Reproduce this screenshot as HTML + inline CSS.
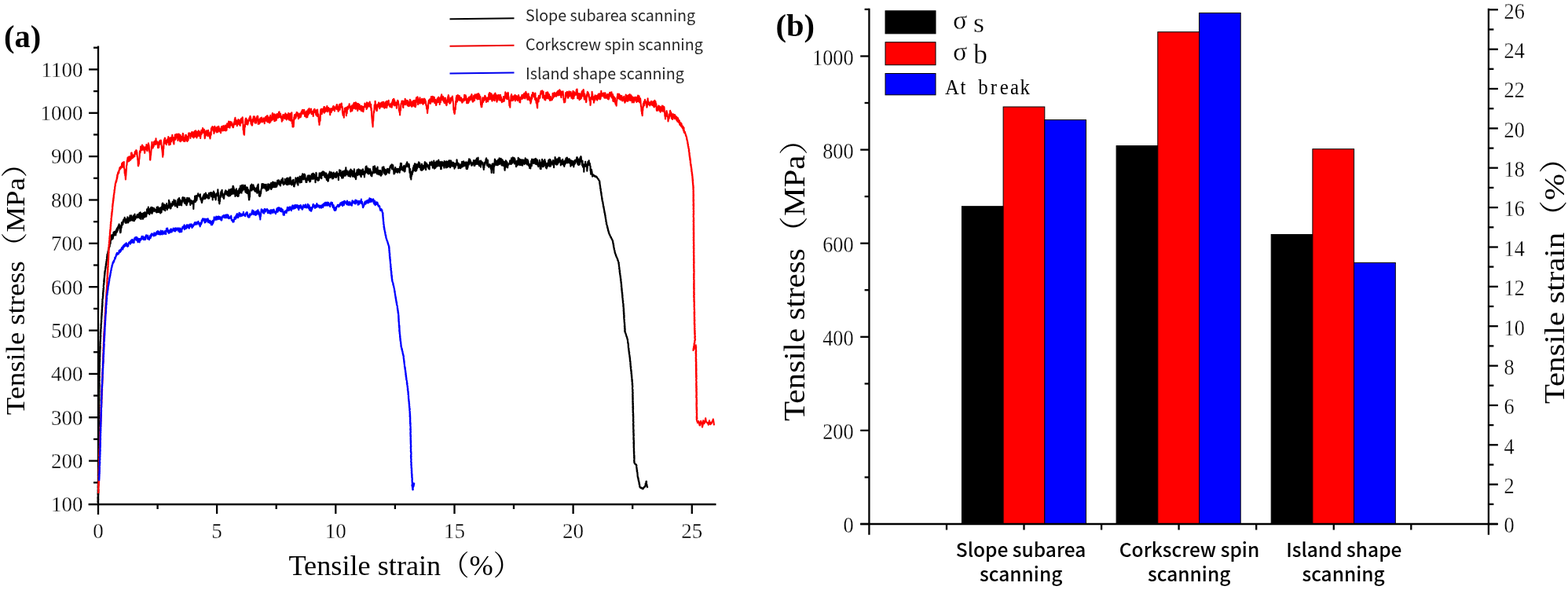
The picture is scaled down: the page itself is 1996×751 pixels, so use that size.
<!DOCTYPE html>
<html><head><meta charset="utf-8"><style>
html,body{margin:0;padding:0;background:#fff;}
body{width:1996px;height:751px;overflow:hidden;}
svg{display:block;}
.tk{font-family:"Liberation Serif","Noto Serif CJK SC",serif;font-size:27px;fill:#000;stroke:#fff;stroke-width:0.3px;}
.tkb{font-family:"Liberation Serif","Noto Serif CJK SC",serif;font-size:29.5px;fill:#000;stroke:#fff;stroke-width:0.3px;}
.lab{font-family:"Liberation Serif","Noto Serif CJK SC",serif;fill:#000;}
.labb{font-family:"Liberation Serif","Noto Serif CJK SC",serif;fill:#000;}
.pn{font-family:"Liberation Serif",serif;font-size:40.5px;font-weight:bold;fill:#000;}
.lg{font-family:"Noto Sans CJK SC","Liberation Sans",sans-serif;font-size:19.6px;font-weight:400;fill:#262626;}
.lgb{font-family:"Liberation Mono","Noto Serif CJK SC",monospace;font-size:24px;fill:#111;}
.lgs{font-family:"Liberation Serif","Noto Serif CJK SC",serif;fill:#000;stroke:#fff;stroke-width:0.3px;}
.cat{font-family:"Noto Sans CJK SC","Liberation Sans",sans-serif;font-size:24.5px;font-weight:500;fill:#000;}
</style></head><body>
<svg width="1996" height="751" viewBox="0 0 1996 751">
<rect width="1996" height="751" fill="#fff"/>
<!-- panel a -->
<text x="5" y="60" class="pn">(a)</text>
<line x1="125" y1="58.5" x2="125" y2="655" stroke="#000" stroke-width="2.3"/><line x1="112.6" y1="642" x2="911.5" y2="642" stroke="#000" stroke-width="2.3"/><line x1="119" y1="614.3" x2="125" y2="614.3" stroke="#000" stroke-width="2.3"/><line x1="113" y1="586.6" x2="125" y2="586.6" stroke="#000" stroke-width="2.3"/><line x1="119" y1="559.0" x2="125" y2="559.0" stroke="#000" stroke-width="2.3"/><line x1="113" y1="531.3" x2="125" y2="531.3" stroke="#000" stroke-width="2.3"/><line x1="119" y1="503.6" x2="125" y2="503.6" stroke="#000" stroke-width="2.3"/><line x1="113" y1="475.9" x2="125" y2="475.9" stroke="#000" stroke-width="2.3"/><line x1="119" y1="448.2" x2="125" y2="448.2" stroke="#000" stroke-width="2.3"/><line x1="113" y1="420.6" x2="125" y2="420.6" stroke="#000" stroke-width="2.3"/><line x1="119" y1="392.9" x2="125" y2="392.9" stroke="#000" stroke-width="2.3"/><line x1="113" y1="365.2" x2="125" y2="365.2" stroke="#000" stroke-width="2.3"/><line x1="119" y1="337.5" x2="125" y2="337.5" stroke="#000" stroke-width="2.3"/><line x1="113" y1="309.8" x2="125" y2="309.8" stroke="#000" stroke-width="2.3"/><line x1="119" y1="282.2" x2="125" y2="282.2" stroke="#000" stroke-width="2.3"/><line x1="113" y1="254.5" x2="125" y2="254.5" stroke="#000" stroke-width="2.3"/><line x1="119" y1="226.8" x2="125" y2="226.8" stroke="#000" stroke-width="2.3"/><line x1="113" y1="199.1" x2="125" y2="199.1" stroke="#000" stroke-width="2.3"/><line x1="119" y1="171.4" x2="125" y2="171.4" stroke="#000" stroke-width="2.3"/><line x1="113" y1="143.8" x2="125" y2="143.8" stroke="#000" stroke-width="2.3"/><line x1="119" y1="116.1" x2="125" y2="116.1" stroke="#000" stroke-width="2.3"/><line x1="113" y1="88.4" x2="125" y2="88.4" stroke="#000" stroke-width="2.3"/><line x1="119" y1="60.7" x2="125" y2="60.7" stroke="#000" stroke-width="2.3"/><line x1="200.6" y1="642" x2="200.6" y2="648" stroke="#000" stroke-width="2.3"/><line x1="276.1" y1="642" x2="276.1" y2="654" stroke="#000" stroke-width="2.3"/><line x1="351.7" y1="642" x2="351.7" y2="648" stroke="#000" stroke-width="2.3"/><line x1="427.3" y1="642" x2="427.3" y2="654" stroke="#000" stroke-width="2.3"/><line x1="502.9" y1="642" x2="502.9" y2="648" stroke="#000" stroke-width="2.3"/><line x1="578.5" y1="642" x2="578.5" y2="654" stroke="#000" stroke-width="2.3"/><line x1="654.0" y1="642" x2="654.0" y2="648" stroke="#000" stroke-width="2.3"/><line x1="729.6" y1="642" x2="729.6" y2="654" stroke="#000" stroke-width="2.3"/><line x1="805.2" y1="642" x2="805.2" y2="648" stroke="#000" stroke-width="2.3"/><line x1="880.8" y1="642" x2="880.8" y2="654" stroke="#000" stroke-width="2.3"/>
<text x="105.6" y="651.3" text-anchor="end" class="tk">100</text><text x="105.6" y="595.9" text-anchor="end" class="tk">200</text><text x="105.6" y="540.6" text-anchor="end" class="tk">300</text><text x="105.6" y="485.2" text-anchor="end" class="tk">400</text><text x="105.6" y="429.9" text-anchor="end" class="tk">500</text><text x="105.6" y="374.5" text-anchor="end" class="tk">600</text><text x="105.6" y="319.1" text-anchor="end" class="tk">700</text><text x="105.6" y="263.8" text-anchor="end" class="tk">800</text><text x="105.6" y="208.4" text-anchor="end" class="tk">900</text><text x="105.6" y="153.1" text-anchor="end" class="tk">1000</text><text x="105.6" y="97.7" text-anchor="end" class="tk">1100</text>
<text x="125.0" y="684.5" text-anchor="middle" class="tk">0</text><text x="276.1" y="684.5" text-anchor="middle" class="tk">5</text><text x="427.3" y="684.5" text-anchor="middle" class="tk">10</text><text x="578.5" y="684.5" text-anchor="middle" class="tk">15</text><text x="729.6" y="684.5" text-anchor="middle" class="tk">20</text><text x="880.8" y="684.5" text-anchor="middle" class="tk">25</text>
<text transform="translate(30.7,528.2) rotate(-90)" class="lab" font-size="33.7" textLength="338.6" lengthAdjust="spacingAndGlyphs">Tensile stress（MPa）</text>
<text x="367.5" y="732.3" class="lab" font-size="35.6" textLength="296.4" lengthAdjust="spacingAndGlyphs">Tensile strain（%）</text>
<polyline fill="none" stroke="#000" stroke-width="2.1" stroke-linejoin="round" points="124.8,640.0 124.8,639.7 125.0,639.4 124.6,639.1 124.8,638.8 124.8,638.5 124.5,638.2 124.6,637.9 124.7,637.6 124.8,637.3 124.9,637.0 125.0,636.7 125.1,636.4 124.6,636.1 125.2,635.8 124.8,635.5 125.1,635.2 124.7,634.9 125.0,634.6 125.0,634.3 124.5,634.0 125.1,633.7 124.6,633.4 124.9,633.1 124.7,632.8 125.0,632.5 124.7,632.2 125.0,631.9 125.1,631.6 125.0,631.3 125.1,631.0 124.8,630.7 125.0,630.4 124.9,630.1 125.2,629.8 124.7,629.5 125.2,629.2 124.6,628.9 125.2,628.6 124.7,628.3 125.1,628.0 124.7,627.7 125.2,627.4 124.8,627.1 124.7,626.8 125.2,626.5 125.0,626.2 125.2,625.9 125.2,625.6 124.7,625.3 124.7,625.0 125.1,624.7 125.2,624.4 124.8,624.1 125.3,623.7 124.7,623.5 125.2,623.2 125.1,622.9 124.9,622.6 124.9,622.2 124.9,621.9 125.0,621.6 125.0,621.3 124.8,621.0 124.7,620.8 125.1,620.4 124.8,620.1 124.8,619.8 124.9,619.6 124.8,619.2 125.3,619.0 124.9,618.6 125.2,618.3 124.7,618.1 125.2,617.7 125.4,617.4 125.3,617.1 125.3,616.8 125.0,616.5 125.1,616.2 125.4,615.9 124.9,615.6 125.1,615.3 125.3,615.0 125.0,614.7 125.1,614.4 124.8,614.1 125.3,613.8 124.9,613.5 125.0,613.2 124.9,612.9 125.3,612.6 125.1,612.3 125.5,612.0 125.4,611.7 125.4,611.4 125.3,611.1 125.0,610.8 125.0,610.5 125.1,610.2 125.0,609.9 125.2,609.6 125.4,609.3 125.2,609.0 125.0,608.7 125.4,608.4 125.5,608.1 125.2,607.8 125.0,607.5 125.4,607.2 125.2,606.9 125.4,606.6 125.3,606.3 125.5,606.0 124.9,605.7 125.3,605.4 125.3,605.1 125.4,604.8 125.0,604.5 125.3,604.2 125.1,603.9 125.4,603.6 125.0,603.3 125.0,603.0 125.6,602.7 125.4,602.4 125.1,602.1 125.1,601.8 125.2,601.5 125.1,601.2 125.0,600.9 125.6,600.6 125.1,600.3 125.5,600.0 125.5,599.7 125.5,599.4 125.2,599.1 125.1,598.8 125.4,598.5 125.7,598.2 125.2,597.9 125.1,597.6 125.3,597.3 125.1,597.0 125.2,596.7 125.5,596.4 125.2,596.1 125.3,595.8 125.4,595.5 125.1,595.2 125.1,594.9 125.7,594.6 125.6,594.3 125.6,594.0 125.4,593.7 125.4,593.4 125.1,593.1 125.2,592.8 125.1,592.5 125.4,592.2 125.3,591.9 125.1,591.6 125.1,591.3 125.4,591.0 125.1,590.7 125.0,590.4 125.2,590.1 125.6,589.8 125.5,589.5 125.4,589.2 125.2,588.9 125.4,588.6 125.1,588.3 125.3,588.0 125.4,587.7 125.1,587.4 125.5,587.1 125.4,586.8 125.1,586.5 125.2,586.2 125.4,585.9 125.7,585.6 125.1,585.3 125.5,585.0 125.3,584.7 125.4,584.4 125.7,584.1 125.5,583.8 125.3,583.5 125.4,583.2 125.8,582.9 125.7,582.6 125.4,582.3 125.5,582.0 125.4,581.7 125.2,581.4 125.8,581.1 125.3,580.8 125.3,580.5 125.2,580.2 125.8,579.9 125.8,579.6 125.6,579.3 125.5,579.0 125.5,578.7 125.4,578.4 125.8,578.1 125.5,577.8 125.7,577.5 125.6,577.2 125.6,576.9 125.6,576.6 125.7,576.3 125.7,576.0 125.6,575.7 125.4,575.4 125.3,575.1 125.3,574.8 125.8,574.5 125.5,574.2 125.2,573.9 125.6,573.6 125.8,573.3 125.8,573.0 125.8,572.7 125.8,572.4 125.3,572.1 125.5,571.8 125.7,571.5 125.6,571.2 125.4,570.9 125.2,570.6 125.8,570.3 125.7,570.0 125.8,569.7 125.5,569.4 125.4,569.1 125.8,568.8 125.7,568.5 125.7,568.2 125.2,567.9 125.3,567.6 125.8,567.3 125.8,567.0 125.5,566.7 125.8,566.4 125.4,566.1 125.6,565.8 125.5,565.5 125.6,565.2 125.4,564.9 125.5,564.6 125.6,564.3 125.7,564.0 125.4,563.7 125.7,563.4 125.4,563.1 125.9,562.8 125.4,562.5 125.3,562.2 125.5,561.9 125.7,561.6 125.6,561.3 125.7,561.0 125.4,560.7 125.6,560.4 125.7,560.1 126.0,559.8 125.9,559.5 125.7,559.2 125.5,558.9 125.4,558.6 125.7,558.3 125.7,558.0 125.6,557.7 125.8,557.4 125.6,557.1 125.9,556.8 125.5,556.5 125.5,556.2 126.0,555.9 125.7,555.6 126.0,555.3 125.4,555.0 126.0,554.7 125.4,554.4 125.9,554.1 125.7,553.8 125.4,553.5 125.6,553.2 125.7,552.9 125.7,552.6 125.7,552.3 125.4,552.0 126.0,551.7 125.6,551.4 125.9,551.1 126.0,550.8 126.0,550.5 125.5,550.2 126.0,549.9 125.7,549.6 125.8,549.3 125.5,549.0 125.5,548.7 125.8,548.4 126.0,548.1 125.7,547.8 126.1,547.5 125.9,547.2 125.4,546.9 126.0,546.6 125.5,546.3 125.6,546.0 125.8,545.7 126.1,545.4 125.5,545.1 125.6,544.8 125.4,544.5 125.5,544.2 125.7,543.9 125.8,543.6 125.8,543.3 125.5,543.0 125.7,542.7 125.7,542.4 126.1,542.1 125.7,541.8 125.9,541.5 125.8,541.2 126.0,540.9 125.9,540.6 126.1,540.3 125.9,540.0 125.7,539.7 125.8,539.4 126.1,539.1 125.7,538.8 126.1,538.5 125.8,538.2 126.1,537.9 125.6,537.6 126.0,537.3 125.8,537.0 125.6,536.7 125.9,536.4 125.5,536.1 125.6,535.8 126.1,535.5 125.9,535.2 125.7,534.9 125.6,534.6 125.6,534.3 125.7,534.0 125.8,533.7 125.5,533.4 125.7,533.1 125.8,532.8 126.2,532.5 126.1,532.2 126.2,531.9 125.7,531.6 125.6,531.3 126.1,531.0 126.0,530.7 125.7,530.4 125.9,530.1 126.2,529.8 126.1,529.5 126.2,529.2 125.9,528.9 125.7,528.6 126.0,528.3 125.7,528.0 125.7,527.7 125.7,527.4 125.8,527.1 125.7,526.8 125.8,526.5 126.1,526.2 126.1,525.9 125.6,525.6 126.2,525.3 126.2,525.0 126.3,524.7 125.8,524.4 126.1,524.1 126.0,523.8 126.1,523.5 126.3,523.2 125.7,522.9 126.2,522.6 126.3,522.3 126.1,522.0 125.9,521.7 126.0,521.4 125.8,521.1 126.2,520.8 126.1,520.5 126.1,520.2 126.2,519.9 125.8,519.6 125.7,519.3 125.8,519.0 125.8,518.7 126.3,518.4 125.8,518.1 126.0,517.8 126.2,517.5 125.9,517.2 126.3,516.9 126.4,516.6 126.0,516.3 126.1,516.0 126.3,515.7 126.4,515.4 126.2,515.1 126.1,514.8 125.8,514.5 126.2,514.2 126.2,513.9 126.2,513.6 126.0,513.3 126.4,513.0 126.2,512.7 126.0,512.4 125.9,512.1 125.8,511.8 126.3,511.5 126.0,511.2 126.4,510.9 126.0,510.6 126.0,510.3 126.3,510.0 126.1,509.7 126.5,509.4 126.2,509.1 126.5,508.8 125.9,508.5 125.9,508.2 125.8,507.9 126.4,507.6 126.2,507.2 126.3,506.9 126.2,506.7 126.5,506.4 126.4,506.0 126.2,505.8 126.0,505.5 126.1,505.1 126.1,504.8 126.1,504.6 126.4,504.2 126.4,503.9 126.4,503.6 126.0,503.3 126.0,503.0 126.3,502.7 126.4,502.4 126.4,502.1 126.5,501.8 126.1,501.6 125.9,501.2 126.2,500.9 126.1,500.6 126.0,500.3 126.4,500.0 126.3,499.7 126.3,499.4 126.5,499.1 126.3,498.8 126.5,498.5 126.5,498.2 126.3,497.9 126.4,497.6 126.3,497.3 126.2,497.0 126.5,496.7 126.4,496.4 126.2,496.1 126.4,495.8 126.3,495.5 126.0,495.2 126.5,494.9 126.3,494.6 126.6,494.3 126.6,494.0 126.1,493.7 126.2,493.4 126.5,493.1 126.1,492.8 126.6,492.5 126.5,492.2 126.7,491.9 126.2,491.6 126.5,491.3 126.4,491.0 126.5,490.7 126.7,490.4 126.3,490.1 126.2,489.8 126.6,489.5 126.1,489.2 126.4,488.9 126.7,488.6 126.6,488.3 126.5,488.0 126.1,487.7 126.7,487.4 126.4,487.1 126.3,486.8 126.1,486.5 126.2,486.2 126.1,485.9 126.5,485.6 126.3,485.3 126.3,485.0 126.7,484.7 126.1,484.4 126.4,484.1 126.7,483.8 126.7,483.5 126.6,483.2 126.5,482.9 126.2,482.6 126.4,482.3 126.6,482.0 126.7,481.7 126.5,481.4 126.7,481.1 126.5,480.8 126.7,480.5 126.8,480.2 126.3,479.9 126.2,479.6 126.8,479.3 126.4,479.0 126.5,478.7 126.5,478.4 126.7,478.1 126.2,477.8 126.5,477.5 126.5,477.2 126.2,476.9 126.5,476.6 126.8,476.3 126.2,476.0 126.4,475.7 126.6,475.4 126.6,475.1 126.7,474.8 126.4,474.5 126.3,474.2 126.5,473.9 126.8,473.6 126.5,473.3 126.5,473.0 126.8,472.7 126.6,472.4 126.3,472.1 126.5,471.8 126.9,471.5 126.3,471.2 126.8,470.9 126.5,470.6 126.8,470.3 126.4,470.0 126.7,469.7 126.9,469.4 126.3,469.1 126.9,468.8 126.4,468.5 126.3,468.2 126.9,467.9 126.7,467.6 126.4,467.3 126.8,467.0 126.7,466.7 127.0,466.4 127.0,466.1 127.0,465.8 126.8,465.5 127.0,465.2 126.9,464.9 126.6,464.6 126.9,464.3 126.6,464.0 126.7,463.7 126.5,463.4 126.6,463.1 126.8,462.8 127.1,462.5 127.0,462.2 126.6,461.9 126.9,461.6 126.7,461.3 126.7,461.0 126.8,460.7 127.0,460.4 127.2,460.1 126.6,459.8 126.8,459.5 127.1,459.2 126.9,458.9 126.9,458.6 127.2,458.3 126.6,458.0 127.3,457.7 126.8,457.4 127.2,457.1 127.2,456.8 127.2,456.5 127.1,456.2 127.1,455.9 126.7,455.6 127.0,455.3 127.2,455.0 126.9,454.7 127.2,454.4 127.1,454.1 127.2,453.8 127.4,453.5 127.0,453.2 127.2,452.9 126.8,452.6 127.4,452.3 127.4,452.0 127.3,451.7 127.3,451.4 127.2,451.1 127.1,450.8 127.4,450.5 127.0,450.2 127.3,449.9 127.0,449.6 127.4,449.3 127.3,449.0 127.4,448.7 127.0,448.4 127.2,448.1 127.4,447.8 127.3,447.5 127.5,447.2 127.0,446.9 127.2,446.6 127.1,446.3 127.5,446.0 127.3,445.7 127.5,445.4 127.5,445.1 127.1,444.8 127.5,444.5 127.6,444.2 127.7,443.9 127.1,443.6 127.2,443.3 127.4,443.0 127.6,442.7 127.2,442.4 127.8,442.1 127.6,441.8 127.2,441.5 127.7,441.2 127.5,440.9 127.3,440.6 127.6,440.3 127.7,440.0 127.6,439.7 127.4,439.4 127.3,439.1 127.3,438.8 127.4,438.5 127.5,438.2 127.5,437.9 127.3,437.6 127.9,437.3 127.4,437.0 127.4,436.7 127.4,436.4 127.6,436.1 127.7,435.8 127.4,435.5 127.4,435.2 127.4,434.9 127.6,434.6 128.0,434.3 127.9,434.0 128.0,433.7 128.0,433.4 127.6,433.1 127.9,432.8 127.7,432.5 127.7,432.2 128.0,431.9 127.8,431.6 127.9,431.3 127.7,431.0 128.1,430.7 127.9,430.4 127.9,430.1 128.0,429.8 128.1,429.5 127.6,429.2 127.7,428.9 128.2,428.6 128.0,428.3 128.2,428.0 127.8,427.7 128.3,427.4 127.9,427.1 128.2,426.8 128.2,426.5 128.0,426.2 127.9,425.9 128.0,425.6 127.7,425.3 127.7,425.0 128.3,424.7 128.1,424.4 127.8,424.1 128.1,423.8 127.9,423.5 128.3,423.2 128.0,422.9 127.8,422.6 128.3,422.2 128.5,422.0 128.4,421.7 128.5,421.4 128.0,421.1 128.1,420.8 128.5,420.5 128.3,420.2 128.1,419.9 128.2,419.6 128.2,419.3 128.5,419.0 128.6,418.7 128.6,418.4 128.5,418.1 128.6,417.9 128.7,417.5 128.3,417.2 128.3,416.9 128.8,416.6 128.8,416.3 128.6,416.0 128.8,415.7 128.7,415.4 128.5,415.1 128.7,414.8 128.5,414.5 128.4,414.2 128.6,413.9 128.9,413.6 128.5,413.3 128.4,413.0 128.6,412.7 128.9,412.4 129.0,412.1 128.6,411.8 129.1,411.5 128.8,411.2 129.0,410.9 129.0,410.6 128.8,410.3 129.1,410.0 129.2,409.7 128.9,409.4 128.8,409.1 129.3,408.8 129.1,408.5 128.9,408.2 128.8,407.9 129.0,407.6 129.0,407.3 129.3,407.0 129.2,406.7 129.1,406.4 129.4,406.1 129.2,405.8 129.4,405.5 128.9,405.2 128.9,404.9 129.5,404.6 129.4,404.3 129.1,404.0 129.0,403.7 129.0,403.4 129.2,403.1 129.6,402.8 129.1,402.5 129.2,402.2 129.6,401.9 129.2,401.6 129.3,401.3 129.6,401.0 129.7,400.7 129.8,400.4 129.2,400.0 129.4,399.8 129.6,399.5 129.4,399.2 129.7,398.9 129.4,398.6 129.7,398.3 129.4,397.9 129.4,397.7 129.9,397.4 129.8,397.1 129.7,396.8 129.6,396.4 129.8,396.2 130.0,395.9 129.7,395.6 129.5,395.3 129.6,395.0 130.0,394.7 129.7,394.4 130.0,394.1 129.7,393.8 130.0,393.5 129.8,393.2 129.9,392.9 129.9,392.5 130.0,392.3 130.1,392.0 130.1,391.7 130.0,391.4 129.7,391.1 130.3,390.8 129.8,390.5 130.0,390.2 130.3,389.9 130.4,389.6 130.3,389.3 129.9,389.1 130.5,388.8 129.9,388.4 129.9,388.1 130.4,387.8 130.5,387.6 130.4,387.2 130.5,386.9 130.4,386.6 130.0,386.3 130.4,386.0 130.5,385.7 130.4,385.4 130.5,385.0 130.4,384.8 130.2,384.5 130.7,384.2 130.3,383.9 130.3,383.6 130.3,383.3 130.4,383.0 130.5,382.7 130.4,382.4 130.4,382.1 130.6,381.8 130.3,381.5 130.6,381.2 130.4,380.9 130.4,380.6 130.4,380.3 130.9,380.0 130.9,379.7 131.1,379.4 131.0,379.1 130.8,378.9 130.8,378.5 130.9,378.2 131.0,377.9 131.2,377.6 130.8,377.3 131.2,377.1 131.3,376.8 131.3,376.4 131.1,376.1 131.1,375.8 131.4,375.6 131.0,375.3 131.3,375.0 130.9,374.7 131.0,374.3 131.2,374.1 131.4,373.7 131.0,373.5 131.5,373.1 131.3,372.8 131.1,372.6 131.0,372.2 131.3,371.9 131.6,371.6 131.7,371.4 131.6,371.0 131.3,370.7 131.7,370.4 131.3,370.1 131.5,369.8 131.7,369.6 131.5,369.2 131.5,369.0 131.6,368.6 131.9,368.4 131.7,368.1 131.4,367.7 131.6,367.4 131.8,367.2 131.8,366.8 132.1,366.6 131.8,366.2 132.0,366.0 132.0,365.6 131.9,365.4 131.9,365.1 131.9,364.7 131.7,364.5 131.7,364.2 131.8,363.9 131.8,363.6 131.8,363.2 132.0,362.9 131.9,362.7 132.4,362.3 132.1,362.1 131.9,361.8 132.3,361.5 132.4,361.2 132.5,360.9 132.1,360.5 132.2,360.3 132.5,359.9 132.4,359.7 132.5,359.4 132.7,359.0 132.7,358.7 132.1,358.4 132.4,358.2 132.8,357.9 132.2,357.5 132.4,357.2 132.7,357.0 132.3,356.7 132.7,356.4 132.9,356.0 132.7,355.8 132.4,355.5 132.5,355.2 132.7,354.9 132.5,354.6 132.9,354.3 132.7,353.9 132.7,353.7 133.0,353.4 133.0,353.0 133.1,352.7 132.7,352.5 132.9,352.1 133.1,351.9 133.0,351.5 133.2,351.3 133.0,350.9 133.3,350.7 132.9,350.4 133.2,350.1 133.3,349.7 133.5,349.4 133.1,349.2 133.5,348.8 133.3,348.6 133.4,348.3 133.1,347.9 133.6,347.6 133.1,347.3 133.7,347.0 133.5,346.8 133.6,346.5 133.4,346.2 133.7,345.9 133.4,345.7 133.9,345.4 133.9,345.1 133.6,344.7 134.0,344.5 134.0,344.2 133.8,343.9 134.1,343.6 134.1,343.2 134.1,343.0 134.2,342.6 134.3,342.3 134.4,342.1 134.4,341.8 134.0,341.3 134.5,341.1 134.6,340.8 134.4,340.4 134.7,340.1 134.3,339.9 134.3,339.5 134.6,339.3 134.4,339.1 134.5,338.7 134.7,338.5 135.0,338.1 134.8,337.8 135.1,337.4 134.9,337.2 134.9,336.8 134.7,336.6 134.8,335.9 135.3,336.3 135.2,336.0 135.2,334.5 135.4,335.5 135.3,334.8 135.2,333.8 135.6,334.1 135.5,333.1 135.2,333.7 135.7,332.9 135.4,333.1 135.8,332.7 135.8,332.6 135.9,332.6 135.5,332.4 135.9,331.5 135.7,331.4 136.0,330.4 135.6,330.5 136.1,331.0 136.2,329.6 136.0,330.2 136.1,329.6 136.2,328.6 136.4,328.9 135.9,327.9 136.4,328.4 136.2,327.1 136.3,326.7 136.6,327.3 136.2,326.5 136.2,325.8 136.6,326.0 136.7,325.4 136.4,325.4 136.7,325.4 136.6,325.2 136.4,323.9 136.6,324.3 136.6,324.6 136.8,323.7 136.9,323.9 136.9,323.1 137.2,323.9 137.0,323.1 136.9,323.4 137.4,323.0 137.3,322.7 137.5,321.4 137.2,321.9 137.4,320.8 137.3,320.5 137.7,320.3 137.4,320.2 137.8,320.1 137.6,320.3 137.9,318.0 137.9,318.4 138.0,318.3 137.8,318.7 138.3,318.1 138.1,318.1 138.0,318.3 138.4,318.1 138.1,317.1 138.5,316.4 138.6,317.0 138.4,317.6 138.4,316.7 138.5,315.2 138.9,315.8 139.0,315.4 139.1,315.5 138.9,315.2 138.8,315.7 139.2,314.1 139.4,314.0 139.4,314.1 139.4,314.4 139.3,313.6 139.6,312.6 139.8,313.3 139.5,312.2 139.8,312.8 139.9,310.8 140.1,310.1 139.9,311.0 140.0,309.5 139.8,310.7 140.0,310.2 140.4,309.7 140.2,308.8 140.6,310.1 140.4,308.3 140.7,309.9 140.5,309.4 140.8,307.9 140.7,307.2 140.7,308.4 140.7,307.0 140.9,305.7 140.8,305.8 141.3,305.1 141.4,305.0 141.4,305.2 141.1,305.6 141.6,305.2 141.6,303.5 141.7,304.0 141.7,303.6 141.6,304.0 141.7,301.5 141.8,302.3 141.8,302.7 141.8,300.6 142.3,299.1 142.3,300.3 142.6,300.1 142.6,304.7 143.0,300.8 143.1,301.1 143.1,300.3 143.3,303.3 143.7,300.9 143.6,303.8 143.8,303.2 144.0,302.0 144.2,298.7 144.5,295.9 144.7,297.5 144.8,300.3 144.9,298.8 145.3,295.0 145.4,298.5 145.4,299.4 145.6,297.9 145.9,296.2 146.1,296.9 146.2,297.7 146.4,295.2 146.5,294.5 146.8,297.9 146.8,295.0 147.3,296.1 147.4,299.4 147.5,295.9 147.8,294.5 147.9,296.7 148.0,292.4 148.2,296.1 148.4,295.3 148.7,292.2 148.8,291.5 148.8,290.9 148.9,295.4 149.4,291.5 149.5,289.9 149.6,293.6 149.8,291.9 150.1,292.5 150.0,292.3 150.2,288.6 150.4,288.3 150.8,289.5 150.9,286.8 151.0,289.0 151.1,289.3 151.3,289.1 151.4,288.8 151.6,285.4 151.8,286.0 152.1,290.6 152.2,287.3 152.6,291.3 152.7,290.5 152.8,295.0 152.8,291.7 153.1,295.1 153.2,296.3 153.5,295.1 153.6,295.8 153.9,292.8 154.0,290.7 154.3,286.6 154.5,289.7 154.7,289.8 154.9,283.5 155.2,287.3 155.4,282.8 155.6,283.7 155.9,283.5 156.1,282.7 156.4,285.7 156.6,282.8 156.9,280.0 157.1,282.7 157.4,280.1 157.6,279.6 157.8,279.0 158.1,279.8 158.3,278.1 158.5,277.6 158.7,276.8 159.0,278.6 159.3,279.2 159.5,283.4 159.7,283.6 160.0,279.9 160.3,281.8 160.5,284.0 160.8,278.9 161.1,280.0 161.4,278.6 161.7,280.0 162.0,283.0 162.3,276.3 162.5,283.4 162.8,281.8 163.1,283.4 163.3,283.3 163.6,282.0 163.9,277.6 164.2,281.5 164.5,279.2 164.7,281.2 165.0,280.6 165.3,276.5 165.6,274.2 165.9,281.0 166.2,280.4 166.4,279.1 166.7,275.6 167.0,278.8 167.3,274.3 167.5,280.2 167.8,279.0 168.1,280.4 168.4,278.3 168.6,276.5 168.9,280.1 169.2,277.9 169.5,280.9 169.7,275.9 170.1,274.4 170.3,276.9 170.6,279.0 170.9,281.2 171.2,280.2 171.5,272.6 171.7,278.6 172.0,275.3 172.3,279.1 172.6,277.5 172.9,276.0 173.2,275.7 173.5,275.9 173.7,277.2 174.0,276.3 174.4,275.6 174.6,273.2 174.9,275.9 175.2,273.4 175.5,277.0 175.8,276.2 176.1,276.9 176.4,272.6 176.7,275.5 177.0,273.3 177.3,273.5 177.5,271.1 177.8,275.6 178.2,278.2 178.4,273.5 178.7,270.4 179.0,276.6 179.3,271.5 179.6,278.9 179.9,271.7 180.2,274.4 180.5,275.2 180.8,272.0 181.1,273.3 181.4,271.8 181.7,275.5 182.0,278.8 182.3,273.6 182.5,276.5 182.8,271.0 183.1,274.5 183.4,274.2 183.7,273.2 184.0,276.6 184.3,275.2 184.5,270.0 184.8,271.1 185.1,273.9 185.4,275.5 185.7,273.1 186.0,274.6 186.2,275.7 186.5,273.3 186.8,271.0 187.1,266.2 187.3,267.7 187.6,269.2 187.9,271.4 188.2,266.1 188.5,266.8 188.8,263.6 189.0,269.3 189.3,268.2 189.6,271.8 189.9,268.0 190.1,272.2 190.4,273.0 190.7,268.8 191.0,265.9 191.3,267.8 191.5,270.9 191.8,264.8 192.1,264.1 192.4,266.7 192.7,263.9 192.9,270.7 193.2,271.1 193.5,271.8 193.8,271.0 194.1,270.1 194.3,264.3 194.6,268.9 194.9,268.3 195.1,267.5 195.5,268.1 195.7,268.8 196.0,265.1 196.3,269.0 196.6,267.9 196.8,266.8 197.1,267.4 197.4,266.4 197.7,267.5 198.0,267.2 198.2,267.6 198.5,269.6 198.8,269.0 199.1,268.8 199.4,270.4 199.6,263.8 199.9,266.7 200.2,263.7 200.5,265.2 200.7,270.0 201.0,263.4 201.3,268.0 201.6,269.3 201.8,266.6 202.2,269.9 202.4,266.3 202.7,265.8 203.0,267.6 203.2,264.5 203.5,265.9 203.8,265.8 204.1,271.4 204.4,265.8 204.6,264.8 204.9,270.6 205.2,263.8 205.5,270.3 205.8,268.1 206.1,264.0 206.3,263.0 206.6,259.2 206.9,258.9 207.2,258.5 207.4,261.0 207.7,261.1 208.0,266.6 208.3,264.0 208.6,267.1 208.9,265.6 209.2,260.3 209.5,264.7 209.7,261.9 210.0,261.0 210.3,268.3 210.6,262.1 210.9,261.4 211.2,261.2 211.5,264.9 211.8,263.0 212.1,259.0 212.4,264.8 212.6,261.6 212.9,267.0 213.2,263.2 213.5,262.7 213.8,261.9 214.1,263.5 214.4,264.8 214.7,262.7 215.0,254.9 215.3,258.3 215.5,257.2 215.8,256.9 216.1,258.4 216.4,258.6 216.7,265.4 217.0,263.8 217.3,265.4 217.6,265.0 217.9,260.0 218.2,259.8 218.5,259.8 218.7,259.1 219.0,259.2 219.3,262.3 219.6,256.7 219.9,257.1 220.2,259.1 220.5,260.6 220.8,259.3 221.1,259.6 221.4,254.3 221.6,255.8 221.9,256.4 222.2,255.8 222.5,260.8 222.8,262.3 223.1,260.6 223.4,255.4 223.7,258.1 224.0,261.8 224.3,262.1 224.5,259.9 224.8,259.5 225.1,259.3 225.4,262.2 225.7,263.9 226.0,258.2 226.3,255.2 226.6,253.5 226.9,255.0 227.2,259.4 227.5,258.2 227.8,261.0 228.1,252.1 228.4,256.1 228.7,260.6 229.0,260.8 229.3,254.3 229.6,258.6 229.9,260.5 230.2,259.9 230.5,258.1 230.8,255.9 231.1,261.5 231.4,256.5 231.7,258.2 232.0,254.9 232.3,251.6 232.5,252.8 232.8,251.1 233.1,251.6 233.4,254.2 233.7,255.9 234.0,255.1 234.3,255.2 234.6,258.0 234.9,251.6 235.2,252.0 235.5,259.1 235.8,255.4 236.1,254.7 236.4,254.1 236.7,257.1 237.0,255.1 237.3,261.1 237.6,261.2 237.9,255.7 238.2,251.7 238.5,258.6 238.8,253.4 239.1,254.9 239.4,256.1 239.7,255.2 240.0,255.4 240.3,252.0 240.6,256.6 240.9,254.6 241.2,252.5 241.5,256.9 241.8,256.7 242.1,259.5 242.4,261.0 242.7,254.8 243.0,255.0 243.3,255.2 243.6,256.0 243.9,258.6 244.2,257.5 244.5,259.2 244.8,255.8 245.1,257.3 245.4,256.5 245.7,259.1 246.0,257.9 246.3,266.0 246.6,259.6 246.9,255.5 247.2,255.9 247.5,254.5 247.8,255.8 248.1,249.6 248.4,251.2 248.7,257.2 249.0,255.8 249.3,253.3 249.6,252.0 249.8,249.0 250.1,255.4 250.4,254.8 250.8,251.8 251.0,248.7 251.3,249.0 251.6,249.2 251.9,248.8 252.2,246.3 252.5,249.3 252.8,249.6 253.1,248.1 253.4,248.9 253.7,248.4 254.0,248.9 254.3,250.9 254.6,249.7 254.9,247.4 255.2,253.7 255.5,251.2 255.8,252.8 256.1,255.0 256.4,255.8 256.7,257.4 257.0,258.1 257.3,256.2 257.6,255.8 257.9,251.6 258.2,253.8 258.5,249.8 258.8,249.9 259.1,248.8 259.4,250.4 259.7,247.2 260.0,253.0 260.3,251.7 260.6,253.1 260.9,246.9 261.2,250.7 261.5,252.7 261.8,245.5 262.1,247.3 262.4,247.7 262.7,250.4 263.0,247.9 263.3,251.5 263.6,249.4 263.9,251.1 264.2,250.1 264.5,251.2 264.8,248.2 265.1,252.6 265.4,252.4 265.7,252.1 266.0,245.9 266.3,252.5 266.6,249.2 266.9,245.9 267.2,246.9 267.5,247.6 267.8,247.5 268.1,245.1 268.4,245.2 268.7,246.0 269.0,250.3 269.3,247.4 269.6,245.4 269.8,249.6 270.1,248.1 270.4,245.9 270.7,254.5 271.0,246.8 271.3,248.2 271.6,247.8 271.9,243.5 272.2,250.9 272.5,250.2 272.8,245.0 273.1,248.5 273.4,248.4 273.7,248.5 274.0,251.5 274.3,253.7 274.6,254.5 274.9,253.4 275.2,246.9 275.5,247.7 275.8,249.5 276.1,248.8 276.4,245.9 276.7,245.3 277.0,248.5 277.3,241.2 277.6,243.9 277.9,246.0 278.2,255.3 278.5,251.2 278.8,251.5 279.1,258.5 279.4,259.4 279.7,253.7 280.0,256.5 280.3,248.5 280.6,249.9 280.9,245.3 281.2,250.7 281.5,243.5 281.8,248.2 282.1,248.4 282.4,243.4 282.6,241.8 282.9,246.5 283.2,246.4 283.5,246.3 283.8,251.3 284.1,249.8 284.4,250.9 284.7,251.7 285.0,252.9 285.3,251.4 285.6,247.0 285.9,248.1 286.2,245.7 286.5,243.9 286.8,247.4 287.1,242.2 287.4,243.1 287.6,246.7 287.9,243.8 288.2,243.1 288.5,244.5 288.8,244.6 289.1,247.5 289.4,248.7 289.7,248.1 290.0,243.7 290.3,246.3 290.6,245.5 290.9,242.9 291.2,249.8 291.5,241.3 291.8,243.9 292.1,247.3 292.4,246.4 292.6,242.9 292.9,249.1 293.2,245.1 293.5,246.0 293.8,240.7 294.1,247.7 294.4,240.6 294.7,243.1 295.0,246.1 295.3,246.9 295.6,245.6 295.9,245.6 296.2,240.4 296.5,236.9 296.8,240.5 297.1,237.0 297.3,246.7 297.6,239.0 297.9,242.6 298.2,242.0 298.5,241.5 298.8,246.5 299.1,242.1 299.4,249.9 299.7,247.3 300.0,242.9 300.3,247.0 300.6,245.7 300.9,240.4 301.2,245.9 301.5,248.9 301.8,245.8 302.1,243.6 302.4,249.4 302.7,249.9 303.0,244.8 303.3,242.7 303.6,249.7 303.9,246.3 304.2,241.0 304.5,244.4 304.8,239.9 305.1,245.8 305.4,242.1 305.7,240.5 306.0,236.6 306.3,237.8 306.6,244.8 306.9,237.3 307.2,240.5 307.5,245.8 307.8,235.8 308.1,237.0 308.4,242.6 308.7,236.8 309.0,242.8 309.3,241.6 309.5,235.5 309.9,239.3 310.1,239.0 310.4,241.3 310.7,238.0 311.0,238.8 311.3,237.8 311.6,237.7 311.9,235.7 312.2,243.2 312.5,244.6 312.8,239.3 313.1,240.7 313.4,239.4 313.7,238.2 314.0,239.7 314.3,245.9 314.6,238.7 314.9,238.5 315.2,243.7 315.5,241.1 315.8,246.6 316.1,241.2 316.4,248.8 316.7,251.4 317.0,254.4 317.3,254.3 317.6,250.2 317.9,250.7 318.2,242.7 318.5,242.8 318.8,238.7 319.1,236.1 319.4,239.5 319.7,242.5 320.0,242.3 320.3,234.6 320.6,242.5 320.9,236.6 321.2,236.2 321.5,240.3 321.8,240.9 322.1,238.6 322.4,235.4 322.7,236.4 323.0,241.3 323.3,237.9 323.6,241.9 323.9,242.6 324.2,239.0 324.5,243.3 324.8,239.8 325.1,243.9 325.4,243.0 325.7,240.7 326.0,242.5 326.3,243.1 326.6,242.1 326.9,238.6 327.2,245.8 327.5,245.5 327.8,236.0 328.1,242.8 328.4,237.9 328.7,234.6 329.0,244.0 329.3,241.5 329.6,245.9 329.9,249.3 330.1,248.4 330.4,243.7 330.7,250.0 331.0,248.7 331.3,249.4 331.6,243.6 331.9,246.9 332.2,245.4 332.5,240.8 332.8,240.1 333.1,238.7 333.4,234.2 333.7,234.0 334.0,234.6 334.3,234.1 334.6,239.5 334.9,235.2 335.2,236.8 335.5,234.4 335.8,234.5 336.1,238.9 336.4,236.4 336.7,236.5 337.0,235.0 337.3,237.0 337.6,240.5 337.9,235.9 338.2,237.7 338.5,239.7 338.8,234.7 339.1,243.0 339.4,239.7 339.7,237.6 340.0,242.2 340.3,241.4 340.6,240.6 340.9,242.3 341.2,234.3 341.5,238.9 341.8,240.9 342.1,241.2 342.4,237.3 342.7,237.8 343.0,234.5 343.3,236.7 343.6,236.6 343.9,238.9 344.2,237.9 344.5,238.9 344.8,240.7 345.1,232.7 345.4,241.0 345.7,237.3 346.0,239.5 346.3,234.4 346.6,236.3 346.9,238.4 347.2,231.6 347.5,234.2 347.8,234.6 348.1,237.5 348.4,232.2 348.7,238.2 348.9,232.4 349.3,233.8 349.5,235.1 349.9,235.5 350.1,236.8 350.4,238.2 350.7,232.3 351.0,236.9 351.3,236.7 351.6,233.3 351.9,237.6 352.2,237.6 352.5,234.2 352.8,236.0 353.1,229.9 353.4,229.7 353.7,233.4 354.0,230.1 354.3,232.2 354.6,232.5 354.9,229.2 355.2,234.6 355.5,234.2 355.8,230.3 356.1,231.3 356.4,235.7 356.7,236.0 357.0,236.5 357.3,233.8 357.6,233.4 357.9,232.9 358.2,228.7 358.5,232.8 358.8,229.9 359.1,230.1 359.4,231.1 359.7,226.7 360.0,230.6 360.3,234.0 360.6,233.5 360.9,235.3 361.2,234.8 361.5,231.7 361.8,234.5 362.1,231.6 362.4,232.8 362.7,227.9 363.0,230.0 363.3,233.6 363.6,230.3 363.9,229.5 364.2,232.1 364.5,228.7 364.8,234.9 365.1,226.7 365.4,228.5 365.7,229.1 366.0,229.3 366.3,235.2 366.6,226.5 366.9,228.5 367.2,231.0 367.5,233.6 367.8,234.1 368.1,229.8 368.4,228.3 368.7,234.4 369.0,226.5 369.3,225.5 369.6,225.8 369.8,228.6 370.1,234.1 370.4,233.5 370.7,232.7 371.0,232.0 371.3,235.5 371.6,234.9 371.9,232.6 372.2,229.8 372.5,229.3 372.8,233.6 373.1,232.9 373.4,234.6 373.7,228.8 374.0,237.2 374.3,232.4 374.6,237.4 374.9,234.4 375.2,233.6 375.5,234.4 375.8,232.6 376.1,232.2 376.4,226.3 376.7,231.3 377.0,229.0 377.3,227.2 377.6,227.9 377.9,231.6 378.2,229.7 378.5,233.8 378.8,226.5 379.1,225.9 379.4,235.7 379.7,229.7 380.0,230.3 380.3,228.2 380.6,227.9 380.9,227.2 381.2,231.2 381.5,224.5 381.8,230.5 382.1,232.5 382.4,230.0 382.7,227.4 383.0,225.1 383.3,225.9 383.6,227.3 383.9,231.9 384.2,223.5 384.5,229.0 384.8,227.8 385.1,221.2 385.4,221.6 385.7,227.5 386.0,227.0 386.3,223.6 386.6,228.4 386.9,222.6 387.2,224.4 387.5,221.6 387.8,226.9 388.1,222.3 388.4,223.3 388.7,228.4 389.0,228.0 389.3,230.2 389.6,232.0 389.9,231.2 390.1,227.2 390.4,232.0 390.7,226.6 391.0,227.6 391.3,228.5 391.6,224.3 391.9,223.5 392.2,227.4 392.5,229.3 392.8,225.1 393.1,225.1 393.4,223.2 393.7,226.0 394.0,227.6 394.3,231.5 394.6,223.9 394.9,230.4 395.2,230.6 395.5,224.7 395.8,228.1 396.1,228.0 396.4,226.3 396.7,221.9 397.0,225.6 397.3,227.2 397.6,221.3 397.9,223.8 398.2,220.7 398.5,228.1 398.8,226.8 399.1,220.8 399.4,225.4 399.7,226.2 400.0,221.8 400.3,225.7 400.6,227.6 400.9,225.2 401.2,226.5 401.5,232.2 401.8,228.0 402.1,226.0 402.4,219.8 402.7,220.5 403.0,226.1 403.3,227.6 403.6,228.6 403.9,226.0 404.2,228.3 404.5,228.0 404.8,229.9 405.1,226.3 405.4,227.7 405.7,227.4 406.0,229.1 406.3,223.5 406.6,220.3 406.9,221.4 407.2,222.2 407.5,226.4 407.8,224.7 408.1,224.7 408.4,221.5 408.7,220.0 409.0,223.7 409.3,227.1 409.5,222.6 409.8,223.5 410.2,221.6 410.4,218.6 410.7,223.0 411.0,220.8 411.3,219.1 411.6,218.4 411.9,222.7 412.2,219.4 412.5,221.0 412.8,219.3 413.1,225.2 413.4,220.9 413.7,222.2 414.0,225.6 414.3,224.8 414.6,225.2 414.9,220.4 415.2,226.6 415.5,221.1 415.8,228.9 416.1,228.3 416.4,226.7 416.7,229.2 417.0,227.8 417.3,230.7 417.6,222.8 417.9,230.3 418.2,227.2 418.5,221.2 418.8,221.7 419.1,224.2 419.4,224.7 419.7,218.6 420.0,226.3 420.3,220.5 420.6,226.0 420.9,224.9 421.2,222.1 421.5,221.1 421.8,219.2 422.1,220.0 422.4,223.2 422.7,225.8 423.0,227.4 423.3,220.5 423.6,226.0 423.9,221.3 424.2,227.2 424.5,225.3 424.8,219.6 425.2,225.4 425.5,223.2 425.8,223.9 426.1,224.8 426.4,222.0 426.7,221.2 427.0,221.6 427.3,225.9 427.6,224.7 427.9,219.7 428.2,225.7 428.5,220.3 428.8,218.7 429.1,220.4 429.4,223.4 429.7,222.3 430.0,223.7 430.3,222.3 430.6,224.5 430.9,229.2 431.2,220.9 431.5,222.6 431.8,223.1 432.1,216.2 432.4,217.4 432.7,221.9 433.0,222.3 433.3,221.7 433.6,217.1 433.9,224.2 434.2,220.5 434.5,219.8 434.8,222.7 435.2,226.6 435.5,226.5 435.8,221.5 436.1,218.2 436.4,225.1 436.7,226.5 437.0,220.9 437.3,217.9 437.6,221.2 437.9,224.2 438.2,221.5 438.5,219.4 438.8,217.8 439.1,218.0 439.4,216.5 439.7,219.0 440.0,223.8 440.3,213.3 440.6,221.3 440.9,222.1 441.2,219.3 441.5,221.1 441.8,217.2 442.1,221.2 442.4,222.1 442.7,222.3 443.0,219.3 443.3,224.0 443.6,222.0 443.9,220.4 444.2,222.1 444.5,217.5 444.8,223.9 445.2,221.9 445.5,224.6 445.8,219.0 446.1,225.0 446.4,215.5 446.7,219.5 447.0,216.4 447.3,217.4 447.6,222.7 447.9,217.1 448.2,218.6 448.5,218.5 448.8,224.8 449.1,217.7 449.4,220.8 449.7,224.2 450.0,222.7 450.3,221.6 450.6,224.8 450.9,215.4 451.2,222.1 451.5,222.9 451.8,223.6 452.1,226.1 452.4,220.8 452.7,221.3 453.0,228.1 453.3,226.1 453.6,222.8 453.9,219.2 454.2,221.9 454.5,216.3 454.8,221.9 455.2,220.4 455.5,223.0 455.8,216.2 456.1,218.8 456.4,215.3 456.7,221.3 457.0,219.3 457.3,216.8 457.6,222.1 457.9,219.7 458.2,216.4 458.5,222.8 458.8,219.0 459.1,223.9 459.4,217.9 459.7,225.2 460.0,216.8 460.3,222.6 460.6,218.2 460.9,218.6 461.2,220.8 461.5,215.6 461.8,217.0 462.1,215.5 462.4,222.3 462.7,218.2 463.0,221.5 463.3,219.4 463.6,218.2 463.9,225.5 464.2,221.1 464.5,221.6 464.8,220.1 465.1,220.2 465.4,214.1 465.7,212.1 466.0,215.9 466.3,212.9 466.6,211.5 466.9,219.5 467.2,217.2 467.5,216.5 467.8,214.2 468.1,220.7 468.4,217.3 468.7,214.3 469.0,221.5 469.3,221.1 469.6,221.0 469.8,219.2 470.1,217.9 470.4,215.6 470.7,219.5 471.0,215.0 471.3,221.1 471.6,217.4 471.9,217.1 472.2,223.4 472.5,219.4 472.8,222.5 473.1,223.5 473.4,224.3 473.7,220.0 474.0,220.4 474.3,218.7 474.6,220.7 474.9,219.5 475.2,212.0 475.5,214.7 475.8,215.2 476.1,214.7 476.4,213.6 476.7,220.0 477.0,211.4 477.3,213.3 477.6,218.2 477.9,214.1 478.2,214.4 478.5,219.7 478.8,219.1 479.1,215.9 479.4,214.9 479.7,216.1 480.0,221.5 480.3,218.0 480.6,212.5 480.9,220.3 481.2,218.8 481.5,221.7 481.8,217.2 482.1,217.3 482.4,216.9 482.7,218.9 483.0,222.4 483.3,220.7 483.6,217.6 483.9,219.7 484.2,217.1 484.5,218.5 484.8,223.8 485.2,223.5 485.5,218.5 485.8,221.7 486.1,222.2 486.4,221.5 486.7,213.0 487.0,216.3 487.3,212.7 487.6,214.4 487.9,214.7 488.2,213.5 488.5,212.4 488.8,219.9 489.1,219.7 489.4,221.0 489.7,215.2 490.0,215.9 490.3,218.6 490.6,222.4 490.9,218.3 491.2,216.4 491.5,219.4 491.8,221.6 492.1,220.4 492.4,220.4 492.7,217.1 493.0,214.9 493.3,219.0 493.6,218.5 493.9,218.9 494.2,216.6 494.5,216.5 494.8,215.1 495.2,220.4 495.5,220.5 495.8,215.1 496.1,217.4 496.4,212.3 496.7,212.6 497.0,213.6 497.3,210.6 497.6,210.9 497.9,210.9 498.2,210.8 498.5,213.1 498.8,209.3 499.1,215.4 499.4,210.3 499.7,212.4 500.0,214.2 500.3,210.4 500.6,214.2 500.9,215.9 501.2,217.3 501.5,221.4 501.8,220.3 502.1,215.4 502.4,220.6 502.7,218.6 503.0,218.4 503.3,213.1 503.6,216.0 503.9,217.2 504.2,218.8 504.5,218.6 504.8,215.1 505.1,219.0 505.4,216.3 505.7,218.4 506.0,219.7 506.3,214.7 506.6,218.4 506.9,217.8 507.2,217.4 507.5,215.6 507.8,218.1 508.1,214.7 508.4,219.2 508.7,219.7 509.0,212.4 509.3,217.3 509.6,215.9 509.9,207.8 510.1,214.9 510.4,211.3 510.7,209.5 511.0,208.0 511.3,216.0 511.6,212.0 511.9,214.5 512.2,212.9 512.5,216.0 512.8,213.7 513.1,217.1 513.4,216.8 513.7,217.1 514.0,211.9 514.3,210.8 514.6,216.6 514.9,218.5 515.2,215.8 515.5,218.1 515.8,214.7 516.1,213.0 516.4,212.0 516.7,210.0 517.0,212.3 517.3,208.2 517.6,209.8 517.9,211.0 518.2,206.2 518.5,209.8 518.8,208.0 519.1,211.0 519.4,212.5 519.7,210.7 520.0,211.1 520.3,210.6 520.6,208.8 520.9,210.6 521.2,216.4 521.5,219.8 521.8,214.8 522.1,215.1 522.4,225.4 522.7,226.3 523.0,225.9 523.3,228.5 523.6,222.9 523.9,224.2 524.2,218.6 524.5,220.1 524.8,222.0 525.2,217.0 525.5,219.1 525.8,213.6 526.1,217.1 526.4,214.8 526.7,210.9 527.0,217.1 527.3,214.5 527.6,216.0 527.9,208.2 528.2,208.4 528.5,213.7 528.8,217.6 529.1,216.1 529.4,217.7 529.7,209.1 530.0,214.9 530.3,216.6 530.6,213.5 530.9,212.0 531.2,214.3 531.5,209.3 531.8,212.2 532.1,212.2 532.4,212.1 532.7,208.0 533.0,206.4 533.3,207.2 533.6,212.9 533.9,207.2 534.2,207.6 534.5,209.3 534.8,211.2 535.2,212.6 535.5,215.9 535.8,215.6 536.1,216.7 536.4,214.6 536.7,211.3 537.0,208.7 537.3,216.7 537.6,210.3 537.9,213.9 538.2,211.8 538.5,215.7 538.8,211.3 539.1,212.4 539.4,210.8 539.7,214.6 540.0,212.3 540.3,211.6 540.6,207.2 540.9,206.2 541.2,211.3 541.5,211.4 541.8,211.3 542.1,216.1 542.4,211.6 542.7,207.6 543.0,212.2 543.3,208.3 543.6,211.5 543.9,209.6 544.2,210.0 544.5,212.1 544.8,211.7 545.1,210.2 545.4,214.0 545.7,214.7 546.0,214.4 546.3,212.0 546.6,215.4 546.9,210.7 547.2,206.6 547.5,207.7 547.8,210.3 548.1,208.3 548.4,207.6 548.7,208.1 549.0,207.1 549.3,206.3 549.6,205.6 549.9,210.7 550.2,206.8 550.5,208.2 550.8,213.7 551.1,211.1 551.4,211.4 551.7,211.3 552.0,213.2 552.3,204.5 552.6,208.5 552.9,214.6 553.2,210.2 553.5,214.1 553.8,207.1 554.1,206.9 554.4,213.8 554.7,209.5 555.0,210.1 555.3,212.3 555.6,205.2 555.9,211.9 556.2,206.8 556.5,205.4 556.8,205.3 557.1,207.8 557.4,207.4 557.7,211.2 558.0,204.2 558.3,203.7 558.6,205.5 558.9,209.8 559.2,211.1 559.5,209.1 559.8,211.4 560.2,210.8 560.5,206.1 560.8,207.8 561.1,215.2 561.4,209.7 561.7,215.3 562.0,210.9 562.3,207.3 562.6,205.8 562.9,206.5 563.2,208.2 563.5,209.7 563.8,210.1 564.1,211.2 564.4,210.0 564.7,206.8 565.0,207.7 565.3,213.7 565.6,205.1 565.9,210.8 566.2,207.2 566.5,209.3 566.8,206.3 567.1,207.0 567.4,208.4 567.7,213.4 568.0,207.3 568.3,205.2 568.6,207.0 568.9,213.2 569.2,208.0 569.5,206.3 569.8,211.5 570.1,212.4 570.4,210.8 570.7,205.4 571.0,206.7 571.3,207.2 571.6,204.3 571.9,212.0 572.2,206.9 572.5,204.5 572.8,211.5 573.1,213.3 573.4,211.7 573.7,205.4 574.0,204.4 574.3,207.4 574.6,209.2 574.9,210.9 575.2,211.4 575.5,211.0 575.8,206.5 576.1,210.0 576.4,208.5 576.7,211.6 577.0,206.9 577.3,208.5 577.6,208.7 577.9,210.9 578.2,210.8 578.5,214.6 578.8,207.8 579.1,208.8 579.4,212.7 579.7,212.8 580.0,211.7 580.3,210.2 580.6,209.8 580.9,207.8 581.2,209.8 581.5,203.2 581.8,205.0 582.1,209.9 582.4,206.7 582.7,210.7 583.0,207.9 583.3,210.7 583.6,214.3 583.9,212.8 584.2,209.7 584.5,208.6 584.8,213.7 585.1,211.8 585.4,210.0 585.7,213.0 586.0,211.6 586.3,214.1 586.6,210.8 586.9,212.5 587.2,208.8 587.5,210.7 587.8,212.8 588.1,205.8 588.4,208.9 588.7,210.8 589.0,206.1 589.3,212.1 589.6,210.6 589.9,210.9 590.2,205.4 590.5,206.4 590.8,210.9 591.1,206.9 591.4,211.2 591.7,207.9 592.0,208.6 592.3,208.7 592.6,208.0 592.9,209.3 593.2,206.3 593.5,213.9 593.8,215.1 594.1,207.9 594.4,206.8 594.7,207.5 595.0,215.0 595.3,208.3 595.6,213.0 595.9,207.2 596.2,206.4 596.5,204.7 596.8,208.3 597.1,202.3 597.4,209.4 597.7,206.4 598.0,203.4 598.3,203.1 598.6,207.1 598.9,207.5 599.2,205.1 599.5,206.1 599.9,207.3 600.2,210.6 600.5,208.1 600.8,210.6 601.1,209.2 601.4,207.3 601.7,207.5 602.0,207.9 602.3,206.5 602.6,208.8 602.9,204.1 603.2,205.3 603.5,211.0 603.8,207.5 604.1,209.9 604.4,210.9 604.7,207.1 605.0,204.1 605.3,208.9 605.6,208.0 605.9,203.6 606.2,208.9 606.5,206.0 606.8,201.5 607.1,202.2 607.4,202.9 607.7,207.2 608.0,208.9 608.3,201.4 608.6,200.7 608.9,207.0 609.2,205.8 609.5,206.5 609.8,210.6 610.1,211.0 610.4,210.7 610.7,211.1 611.0,204.8 611.3,205.6 611.6,209.6 611.9,212.7 612.2,204.5 612.5,208.9 612.8,208.7 613.1,208.5 613.4,206.2 613.7,206.5 614.0,207.4 614.3,206.8 614.6,210.3 614.9,210.3 615.2,213.4 615.5,213.2 615.8,216.0 616.1,210.2 616.4,213.1 616.7,207.0 617.0,209.8 617.3,209.9 617.6,206.4 617.9,205.6 618.2,207.3 618.5,202.5 618.8,206.0 619.1,201.4 619.4,202.7 619.7,205.8 620.0,209.7 620.3,210.9 620.6,204.9 620.9,203.7 621.2,208.5 621.5,209.9 621.8,209.4 622.1,212.8 622.4,212.3 622.7,211.0 623.0,210.3 623.3,209.2 623.6,209.4 623.9,210.1 624.2,212.0 624.5,213.7 624.8,215.0 625.1,210.9 625.4,215.4 625.7,220.0 626.0,213.5 626.3,215.7 626.6,208.7 626.9,208.5 627.2,210.4 627.5,208.4 627.8,214.9 628.1,214.9 628.4,220.3 628.7,212.5 629.0,209.9 629.3,211.8 629.6,206.4 629.9,202.6 630.2,204.2 630.5,208.0 630.8,204.0 631.1,206.2 631.4,210.0 631.7,208.6 632.0,206.9 632.3,210.0 632.6,210.1 632.9,204.9 633.2,206.8 633.5,205.3 633.8,210.3 634.1,203.4 634.4,206.4 634.7,203.5 635.0,208.6 635.3,208.2 635.6,201.4 635.9,209.0 636.2,206.5 636.5,202.1 636.8,208.2 637.1,202.6 637.4,206.9 637.7,201.7 638.0,205.4 638.3,205.2 638.6,210.5 638.9,209.9 639.2,207.6 639.5,203.2 639.8,205.8 640.2,204.5 640.5,210.9 640.8,208.6 641.1,205.8 641.4,205.9 641.7,210.0 642.0,206.1 642.3,214.7 642.6,216.8 642.9,213.3 643.2,213.8 643.5,209.2 643.8,204.3 644.1,207.4 644.4,205.1 644.7,206.2 645.0,207.5 645.3,212.6 645.6,206.6 645.9,209.0 646.2,213.4 646.5,210.2 646.8,210.5 647.1,209.1 647.4,209.5 647.7,209.3 648.0,208.5 648.3,207.9 648.6,207.5 648.9,206.6 649.2,204.4 649.5,206.4 649.8,208.8 650.1,207.3 650.4,204.3 650.7,208.9 651.0,201.2 651.3,208.4 651.6,206.2 651.9,205.3 652.2,203.6 652.5,207.4 652.8,200.4 653.1,201.4 653.4,206.1 653.7,204.7 654.0,205.3 654.3,205.1 654.6,201.1 654.9,208.4 655.2,207.1 655.5,202.2 655.8,206.9 656.1,205.9 656.4,207.7 656.7,209.0 657.0,212.1 657.3,205.2 657.6,211.7 657.9,206.2 658.2,204.7 658.5,205.1 658.8,205.0 659.1,209.9 659.4,205.9 659.7,200.7 660.0,207.1 660.3,205.9 660.6,208.8 660.9,202.0 661.2,209.7 661.5,210.1 661.8,203.0 662.1,208.5 662.4,204.6 662.7,207.6 663.0,203.0 663.3,210.2 663.6,204.7 663.9,209.5 664.2,207.9 664.5,204.4 664.8,203.7 665.1,210.8 665.4,203.4 665.7,205.8 666.0,205.2 666.3,207.2 666.6,206.4 666.9,203.7 667.2,208.1 667.5,209.1 667.8,208.1 668.1,206.3 668.4,204.5 668.7,201.3 669.0,206.4 669.3,206.6 669.6,204.8 669.9,208.5 670.2,202.8 670.5,208.0 670.8,207.3 671.1,209.5 671.4,208.2 671.7,203.2 672.0,209.1 672.3,204.8 672.6,206.8 672.9,210.8 673.2,209.2 673.5,211.0 673.8,208.7 674.1,213.9 674.4,209.8 674.7,210.6 675.0,210.5 675.3,214.5 675.6,209.9 675.9,209.7 676.2,204.8 676.5,206.4 676.8,211.3 677.1,202.5 677.4,208.6 677.7,204.3 678.0,204.5 678.3,204.0 678.6,203.2 678.9,203.4 679.2,203.6 679.5,207.9 679.8,203.6 680.2,202.5 680.5,204.2 680.8,202.9 681.1,206.2 681.4,207.0 681.7,208.8 682.0,201.7 682.3,206.0 682.6,208.9 682.9,204.8 683.2,207.7 683.5,207.7 683.8,203.3 684.1,205.2 684.4,210.5 684.7,207.6 685.0,208.8 685.3,212.2 685.6,210.4 685.9,209.1 686.2,211.0 686.5,206.9 686.8,203.9 687.1,207.6 687.4,210.8 687.7,214.8 688.0,212.2 688.3,209.3 688.6,215.3 688.9,210.4 689.2,206.2 689.5,207.1 689.8,205.6 690.1,202.8 690.4,210.3 690.7,209.5 691.0,212.3 691.3,204.7 691.6,211.5 691.9,211.9 692.2,206.6 692.5,208.1 692.8,207.8 693.1,206.2 693.4,203.0 693.7,210.4 694.0,205.3 694.3,207.2 694.6,207.5 694.9,213.4 695.2,210.6 695.5,209.1 695.8,214.4 696.1,208.8 696.4,212.2 696.7,207.7 697.0,212.2 697.3,210.7 697.6,210.1 697.9,207.5 698.2,204.0 698.5,206.8 698.8,210.8 699.1,205.2 699.4,202.7 699.7,204.6 700.0,212.0 700.3,203.0 700.6,203.9 700.9,204.2 701.2,211.3 701.5,206.6 701.8,209.5 702.1,208.5 702.4,206.3 702.7,208.5 703.0,206.5 703.3,207.7 703.6,205.0 703.9,204.0 704.2,210.1 704.5,207.9 704.8,208.0 705.1,213.1 705.4,207.6 705.7,204.5 706.0,208.5 706.3,206.3 706.6,200.0 706.9,203.1 707.2,205.1 707.5,202.6 707.8,209.3 708.1,206.8 708.4,205.2 708.7,209.7 709.0,202.6 709.3,202.7 709.6,209.3 709.9,204.8 710.2,202.3 710.5,207.0 710.8,207.4 711.1,205.0 711.4,200.6 711.7,202.2 712.0,205.0 712.3,202.3 712.6,200.8 712.9,206.2 713.2,205.0 713.5,203.9 713.8,210.5 714.1,204.6 714.4,209.6 714.7,208.1 715.0,208.3 715.3,206.5 715.6,208.8 715.9,203.2 716.2,202.8 716.5,209.3 716.8,204.9 717.1,205.7 717.4,210.3 717.7,207.2 718.0,207.0 718.3,212.0 718.6,205.5 718.9,205.0 719.2,209.5 719.5,204.0 719.8,203.7 720.1,206.6 720.4,201.5 720.7,207.6 721.0,206.1 721.3,206.2 721.6,200.7 721.9,200.6 722.2,206.3 722.5,207.5 722.8,202.5 723.1,203.4 723.4,203.6 723.7,202.4 724.0,205.7 724.3,205.9 724.6,207.4 724.9,202.2 725.2,204.4 725.5,203.6 725.8,204.0 726.1,204.5 726.4,211.7 726.7,205.8 727.0,204.2 727.3,208.8 727.6,210.3 727.9,208.2 728.2,208.1 728.5,205.3 728.8,204.9 729.1,205.7 729.4,209.2 729.7,210.8 730.0,209.1 730.3,212.4 730.6,210.1 730.9,209.7 731.2,205.3 731.5,204.2 731.8,203.9 732.1,208.3 732.4,205.6 732.7,206.5 733.0,206.2 733.3,205.7 733.6,202.7 733.9,205.6 734.2,200.2 734.5,205.6 734.8,200.2 735.2,208.6 735.5,208.6 735.8,204.7 736.1,209.8 736.4,210.1 736.7,202.5 737.0,207.9 737.3,207.6 737.6,209.2 737.9,209.5 738.2,206.7 738.5,200.5 738.8,204.6 739.1,205.4 739.4,199.0 739.7,199.8 740.0,203.7 740.3,204.3 740.6,204.6 740.9,209.7 741.2,210.6 741.5,204.8 741.8,208.4 742.1,212.7 742.4,212.7 742.7,213.2 743.0,209.4 743.3,218.8 743.6,213.0 743.9,211.9 744.2,212.0 744.5,211.0 744.8,210.2 745.2,205.7 745.5,211.7 745.8,209.7 746.1,211.1 746.4,210.7 746.7,209.4 747.0,210.5 747.3,217.7 747.6,214.4 747.9,212.4 748.2,207.8 748.5,205.7 748.8,208.2 749.1,205.7 749.4,209.9 749.7,204.4 750.0,210.3 750.0,207.9 750.0,206.8 750.2,208.1 750.3,207.9 750.3,207.8 750.5,208.8 750.4,208.8 750.6,207.6 750.6,209.8 750.8,208.6 751.0,208.6 750.7,209.9 751.0,209.6 750.9,210.4 751.1,210.9 751.4,211.1 751.4,212.2 751.5,212.6 751.7,211.8 751.4,212.1 751.5,212.8 751.4,212.7 751.5,213.2 751.7,213.8 751.7,213.7 751.8,214.4 751.7,214.6 751.4,214.8 751.8,215.0 752.0,215.4 752.0,215.5 751.5,216.1 751.7,216.2 751.8,216.4 752.0,217.0 752.1,217.2 751.6,217.1 752.2,217.6 751.9,218.0 752.3,218.6 752.2,218.5 752.0,218.8 752.4,219.5 752.1,219.4 751.9,219.9 751.9,219.6 752.2,220.1 752.3,220.3 752.1,221.7 752.5,218.8 752.7,216.4 753.1,216.2 753.3,219.8 753.6,218.8 753.8,221.7 754.1,224.6 754.4,221.7 754.6,221.7 754.9,223.9 755.2,222.6 755.5,223.6 755.7,222.9 756.0,224.0 756.3,223.5 756.6,224.3 756.8,224.4 757.0,223.6 757.3,224.4 757.6,225.0 757.8,224.6 758.1,224.8 758.3,224.4 758.5,224.3 758.8,225.2 759.0,225.5 759.3,225.0 759.5,224.9 759.8,225.5 760.1,225.8 760.1,226.0 760.5,226.8 760.6,226.8 760.7,227.1 760.9,227.1 761.0,227.5 761.3,228.0 761.4,227.5 761.7,228.3 762.0,228.3 762.0,229.3 762.2,228.9 762.4,229.7 762.5,229.5 762.7,230.1 762.9,230.1 763.2,230.3 763.1,230.5 763.3,230.7 763.4,231.1 763.1,231.3 763.1,231.6 763.0,232.0 763.5,232.3 763.4,232.6 763.6,232.9 763.6,233.2 763.3,233.5 763.5,233.8 763.5,234.0 763.4,234.4 763.5,234.6 763.8,235.0 763.9,235.2 763.8,235.5 763.6,235.9 763.7,236.2 763.9,236.5 764.1,236.7 764.0,237.0 764.2,237.3 764.0,237.7 764.2,237.9 764.3,238.1 764.2,238.4 764.2,238.8 764.0,239.2 764.1,239.5 764.5,239.7 764.2,240.0 764.3,240.3 764.5,240.5 764.8,240.8 764.9,241.2 764.8,241.5 764.6,241.9 764.5,242.0 764.7,242.5 764.6,242.6 764.7,243.0 765.0,243.3 765.0,243.5 765.2,244.0 764.9,244.2 765.0,244.5 765.3,244.6 765.0,245.1 765.0,245.4 765.5,245.7 765.2,245.8 765.6,246.1 765.3,246.6 765.6,246.8 765.6,247.0 765.4,247.3 765.3,247.7 765.7,248.0 765.5,248.3 765.6,248.6 765.8,248.7 765.7,249.3 765.7,249.5 766.0,249.9 766.1,250.1 766.1,250.3 765.9,250.6 766.3,251.1 766.1,251.2 766.0,251.6 766.0,252.0 766.4,252.2 766.4,252.5 766.6,252.8 766.2,253.0 766.2,253.5 766.7,253.7 766.4,253.9 766.5,254.4 766.5,254.7 766.7,255.0 766.6,255.2 766.6,255.4 767.1,255.9 766.7,256.2 766.9,256.3 766.9,256.6 767.3,256.7 767.3,257.1 767.5,257.5 767.3,257.7 767.5,258.1 767.6,258.4 767.6,258.5 767.3,259.1 767.5,259.3 767.7,259.5 767.6,259.9 767.9,260.2 767.9,260.7 768.0,260.9 768.0,260.9 767.9,261.2 767.8,261.9 767.9,262.0 768.1,262.3 768.4,262.6 768.0,263.0 768.5,263.3 768.2,263.6 768.4,263.8 768.7,264.2 768.5,264.3 768.4,264.6 768.5,265.0 768.8,265.3 768.8,265.4 768.8,265.7 768.7,265.9 769.0,266.4 769.1,266.8 769.0,266.9 768.9,267.3 769.2,267.7 769.3,267.8 769.2,268.3 769.3,268.5 769.5,268.8 769.6,269.2 769.2,269.3 769.6,269.6 769.3,270.0 769.5,270.2 769.8,270.4 769.5,271.0 769.9,271.1 770.0,271.4 770.0,271.8 770.1,272.1 770.1,272.4 770.0,272.6 770.4,272.9 770.1,273.3 770.0,273.4 770.3,273.9 770.4,273.9 770.3,274.4 770.7,274.6 770.4,274.9 770.4,275.2 770.6,275.7 770.5,275.8 770.8,276.4 770.6,276.5 770.7,276.8 771.0,277.1 771.0,277.6 770.7,277.7 771.0,278.2 771.1,278.3 771.0,278.8 771.1,279.0 771.2,279.2 771.4,279.6 771.4,279.8 771.5,280.1 771.4,280.3 771.3,280.8 771.6,281.1 771.3,281.3 771.3,281.5 771.4,282.0 771.4,282.1 771.7,282.5 771.7,282.7 772.1,283.0 772.1,283.4 772.1,283.6 772.1,283.9 771.8,284.1 771.8,284.5 772.3,284.7 772.3,285.0 772.0,285.4 772.3,285.6 772.3,286.1 772.5,286.1 772.5,286.5 772.6,286.9 772.8,287.1 772.9,287.6 773.1,287.7 772.9,288.0 772.9,288.3 773.3,288.7 772.9,288.8 773.4,289.4 773.1,289.7 773.3,289.8 773.7,290.1 773.4,290.7 773.4,290.7 773.5,291.0 774.0,291.3 773.8,291.8 773.8,292.2 774.2,292.5 774.2,292.7 774.0,292.8 774.0,293.4 774.5,293.6 774.3,293.9 774.4,294.1 774.3,294.4 774.5,294.7 774.9,294.7 775.0,295.1 774.7,295.2 775.0,295.9 774.8,296.2 775.1,296.3 775.3,296.5 775.1,296.7 775.4,297.3 775.4,297.5 775.5,297.7 775.8,298.0 775.8,298.5 775.9,298.9 776.1,298.6 776.4,299.0 776.4,299.2 776.6,299.7 776.6,300.1 776.9,300.3 776.8,300.8 776.9,300.9 777.1,301.0 777.5,301.6 777.4,302.0 777.6,302.2 778.0,301.9 777.8,302.1 777.9,302.6 778.1,303.2 778.3,303.3 778.6,303.6 778.4,303.7 778.7,304.5 778.7,304.2 779.2,304.7 779.1,305.0 779.3,305.4 779.3,305.6 779.5,305.6 779.8,305.8 779.6,306.5 779.7,306.5 779.8,306.8 780.2,307.0 780.3,307.5 780.2,307.9 780.0,308.1 780.1,308.3 780.4,308.7 780.3,309.2 780.3,309.3 780.7,309.6 780.4,310.0 780.7,310.2 780.4,310.4 780.9,310.6 780.6,311.0 781.0,311.3 781.0,311.7 781.1,311.8 781.1,312.1 780.8,312.7 781.0,313.0 781.4,313.1 781.0,313.5 781.3,313.7 781.3,314.3 781.4,314.4 781.3,314.6 781.4,315.0 781.4,315.2 781.5,315.5 781.4,315.7 781.9,316.0 782.0,316.3 781.7,316.6 781.7,317.0 781.9,317.3 781.8,317.7 782.1,318.1 782.0,318.3 782.3,318.4 782.4,319.1 782.5,319.1 782.5,319.4 782.6,319.7 782.8,320.0 782.5,320.3 782.4,320.6 782.5,321.0 782.7,321.2 782.9,321.4 783.1,321.8 782.9,322.2 783.1,322.4 783.0,322.8 783.4,323.0 783.6,323.2 783.5,323.6 783.7,324.0 783.8,324.1 783.9,324.1 783.8,324.8 784.1,324.6 784.0,325.4 784.3,325.5 784.2,325.8 784.7,326.4 784.5,326.6 784.6,327.1 785.0,327.3 784.9,327.2 785.1,327.6 785.3,328.0 785.3,327.8 785.3,328.4 785.6,328.9 785.5,328.7 785.5,328.7 785.9,329.1 785.9,329.5 786.2,329.8 786.1,330.2 786.4,330.7 786.1,330.8 786.2,331.2 786.5,331.2 786.8,331.4 786.7,332.3 786.9,332.2 786.9,332.9 787.0,332.8 787.1,333.2 787.2,333.5 787.2,333.6 787.5,334.0 787.4,334.3 787.8,334.5 787.6,334.8 787.4,335.1 787.5,335.4 787.5,335.7 787.9,336.0 787.6,336.3 787.8,336.6 787.8,337.0 787.8,337.1 788.1,337.6 787.9,337.8 787.9,338.2 787.8,338.3 787.9,338.6 787.9,338.9 788.2,339.4 788.3,339.6 788.3,340.0 788.4,340.3 788.4,340.4 788.4,340.8 788.2,341.1 788.5,341.5 788.1,341.8 788.4,342.0 788.3,342.4 788.7,342.6 788.7,342.9 788.5,343.3 788.7,343.5 788.8,343.9 788.7,344.2 788.6,344.5 788.6,344.7 789.1,345.0 788.6,345.4 788.7,345.6 789.1,345.9 788.7,346.3 788.8,346.6 789.0,346.8 788.9,347.2 788.9,347.3 789.3,347.8 789.0,348.0 789.5,348.3 789.0,348.6 789.2,349.0 789.4,349.2 789.2,349.6 789.4,350.0 789.5,350.1 789.6,350.4 789.8,350.8 789.5,351.1 789.9,351.4 789.5,351.7 789.8,352.0 789.7,352.4 790.0,352.7 789.8,352.9 790.1,353.1 789.7,353.5 789.8,353.7 790.0,353.9 790.1,354.4 790.0,354.5 790.3,354.9 790.0,355.2 790.4,355.6 790.5,355.8 790.0,356.2 790.4,356.3 790.5,356.6 790.1,357.0 790.5,357.4 790.5,357.6 790.5,357.9 790.4,358.2 790.7,358.6 790.4,358.8 790.4,359.2 790.5,359.4 791.0,359.8 790.6,360.0 790.5,360.3 790.7,360.6 790.9,360.9 790.9,361.2 791.0,361.5 791.1,361.8 790.8,362.1 790.8,362.4 791.2,362.7 790.9,363.1 791.0,363.3 791.2,363.5 791.1,363.8 791.3,364.2 790.8,364.5 791.2,364.8 791.2,365.1 791.1,365.3 791.1,365.7 791.2,366.0 791.5,366.3 791.3,366.6 791.2,366.9 791.5,367.1 791.6,367.4 791.4,367.8 791.2,368.0 791.7,368.4 791.7,368.6 791.7,368.9 791.3,369.2 791.4,369.6 791.9,370.0 791.7,370.2 791.6,370.5 791.5,370.8 791.7,371.1 791.7,371.4 791.6,371.7 791.9,372.0 791.7,372.3 792.2,372.5 791.8,372.9 792.2,373.1 791.9,373.4 791.9,373.8 792.2,374.1 792.1,374.3 791.9,374.7 792.4,375.1 792.2,375.4 792.2,375.6 792.2,376.0 792.5,376.2 792.4,376.5 792.1,376.7 792.6,377.1 792.4,377.3 792.3,377.7 792.2,377.9 792.2,378.2 792.3,378.5 792.4,378.8 792.6,379.1 792.4,379.4 792.8,379.8 792.7,380.1 792.6,380.4 792.7,380.7 792.6,381.0 792.8,381.3 792.6,381.7 792.7,382.0 792.9,382.2 793.0,382.5 792.8,382.7 793.1,383.1 792.9,383.4 793.3,383.7 792.8,384.0 793.1,384.4 793.0,384.5 793.1,384.9 792.9,385.2 793.1,385.4 793.0,385.8 793.3,386.0 793.4,386.3 793.5,386.6 793.6,386.9 793.3,387.3 793.5,387.5 793.7,387.8 793.4,388.1 793.5,388.5 793.6,388.8 793.2,389.1 793.8,389.4 793.5,389.8 793.7,390.0 793.4,390.3 793.6,390.6 793.7,390.9 793.8,391.3 793.7,391.5 793.8,391.8 794.0,392.1 793.6,392.4 793.7,392.7 794.0,393.0 793.8,393.4 793.9,393.6 793.8,393.9 794.2,394.2 794.0,394.6 794.1,394.8 793.6,395.1 793.9,395.5 794.1,395.7 793.8,396.1 794.2,396.3 794.3,396.6 794.2,396.9 794.2,397.2 793.9,397.5 793.8,397.8 794.4,398.1 794.1,398.4 794.4,398.7 794.3,399.0 794.5,399.3 793.9,399.6 794.4,400.0 794.4,400.2 794.3,400.5 794.1,400.8 794.1,401.1 794.6,401.4 794.3,401.8 794.5,402.0 794.7,402.3 794.2,402.7 794.1,403.0 794.1,403.3 794.4,403.6 794.7,403.8 794.7,404.2 794.6,404.5 794.2,404.8 794.4,405.1 794.3,405.3 794.4,405.7 794.4,406.0 794.3,406.2 794.7,406.6 794.6,406.9 794.6,407.1 794.6,407.5 794.9,407.8 794.6,408.0 794.5,408.4 794.6,408.7 794.6,409.0 794.7,409.2 794.8,409.5 794.7,409.8 795.0,410.2 794.7,410.5 795.2,410.7 795.2,411.1 795.0,411.3 795.1,411.7 794.8,412.0 794.9,412.3 795.3,412.6 795.0,412.9 795.2,413.2 795.3,413.5 795.3,413.8 795.1,414.1 795.1,414.3 794.9,414.6 795.4,414.9 795.3,415.2 794.9,415.6 795.5,415.9 795.1,416.2 795.5,416.6 795.1,416.9 795.0,417.1 795.6,417.5 795.6,417.8 795.4,418.1 795.7,418.4 795.1,418.7 795.2,419.0 795.7,419.3 795.7,419.7 795.6,419.9 795.4,420.3 795.6,420.6 795.2,420.9 795.4,421.2 795.8,421.5 795.4,421.8 795.3,422.1 795.6,422.3 795.8,422.7 795.7,422.6 796.0,423.0 796.2,423.5 795.9,423.7 796.1,424.2 796.4,424.2 796.4,424.4 796.6,425.0 796.5,425.1 796.8,425.2 796.9,425.7 797.0,426.3 797.1,426.3 797.0,426.7 797.2,427.1 797.4,427.3 797.5,427.6 797.5,428.0 797.3,427.9 797.5,428.5 797.7,428.7 798.0,428.8 798.1,429.3 798.3,429.7 798.1,429.9 798.4,430.5 798.3,430.7 798.3,430.8 798.7,431.4 798.4,431.6 798.7,431.7 798.9,431.8 798.9,432.3 799.1,432.6 798.9,432.8 798.9,433.1 798.9,433.5 799.1,433.8 799.1,434.1 799.1,434.4 799.2,434.7 799.2,435.0 799.3,435.4 799.3,435.5 799.5,435.9 799.1,436.3 799.3,436.6 799.3,436.9 799.7,437.1 799.5,437.3 799.8,437.7 799.6,438.0 799.9,438.3 799.8,438.6 799.9,438.9 799.6,439.1 800.0,439.5 799.7,439.7 800.0,440.0 799.9,440.4 799.8,440.7 799.7,440.9 799.7,441.3 799.7,441.5 800.1,441.8 800.1,442.2 799.9,442.5 799.9,442.9 799.9,443.1 800.3,443.4 800.4,443.8 800.6,444.0 800.3,444.4 800.5,444.6 800.3,444.9 800.2,445.2 800.5,445.5 800.4,445.9 800.5,446.1 800.4,446.3 800.8,446.7 800.9,447.0 800.9,447.2 800.5,447.5 800.7,447.8 800.6,448.1 801.2,448.5 800.8,448.7 800.7,449.2 801.2,449.3 800.8,449.7 800.8,450.0 801.0,450.2 800.9,450.6 801.1,450.8 801.2,451.1 801.1,451.3 801.3,451.8 801.5,452.0 801.3,452.3 801.3,452.7 801.5,452.9 801.4,453.2 801.4,453.5 801.8,453.8 801.4,454.2 801.6,454.4 801.5,454.7 801.9,455.2 801.8,455.3 802.0,455.8 801.7,455.9 802.0,456.3 802.0,456.6 801.7,456.9 801.8,457.2 802.2,457.4 802.0,457.8 801.8,458.1 801.9,458.3 802.0,458.7 802.2,458.9 801.9,459.2 802.0,459.6 802.5,459.9 802.1,460.2 802.4,460.6 802.5,460.8 802.5,461.2 802.5,461.5 802.4,461.7 802.6,462.0 802.4,462.3 802.7,462.6 802.7,462.9 802.3,463.3 802.3,463.6 802.7,463.8 802.6,464.1 802.7,464.4 802.8,464.7 802.7,465.1 802.5,465.2 802.8,465.6 802.7,465.9 802.9,466.2 802.6,466.6 803.2,466.8 802.7,467.1 803.3,467.4 803.2,467.7 803.0,468.0 803.1,468.2 802.9,468.5 802.8,468.9 803.1,469.1 802.9,469.5 803.0,469.8 803.0,470.1 803.3,470.4 803.4,470.8 803.6,471.0 803.2,471.3 803.6,471.6 803.5,471.9 803.1,472.2 803.4,472.5 803.8,472.8 803.7,473.1 803.7,473.5 803.7,473.7 803.9,474.0 803.7,474.3 803.4,474.6 803.4,475.0 803.8,475.2 803.6,475.5 804.1,475.7 804.1,476.1 803.9,476.4 804.0,476.6 803.7,477.0 804.1,477.2 803.9,477.5 804.2,477.8 804.0,478.2 804.2,478.5 803.8,478.8 804.4,479.1 804.3,479.5 804.1,479.7 804.1,480.1 804.1,480.4 804.3,480.7 804.5,480.9 804.3,481.2 804.2,481.5 804.4,481.8 804.4,482.0 804.4,482.4 804.5,482.7 804.6,483.0 804.7,483.2 804.2,483.6 804.9,483.8 804.5,484.2 804.6,484.5 804.6,484.8 804.9,485.0 804.4,485.4 804.9,485.6 804.8,485.9 804.8,486.3 804.7,486.6 804.8,486.9 804.9,487.3 804.8,487.6 805.1,487.8 804.9,488.1 804.9,488.5 805.2,488.8 804.6,489.0 805.2,489.4 805.0,489.6 804.8,490.0 805.2,490.3 804.9,490.7 805.1,490.9 805.1,491.1 805.4,491.5 805.3,491.8 805.1,492.1 805.3,492.3 805.3,492.7 805.0,493.0 805.1,493.3 805.0,493.6 805.0,493.9 805.1,494.2 804.9,494.5 805.0,494.8 805.0,495.1 805.3,495.4 805.2,495.7 805.0,496.0 805.6,496.3 805.5,496.6 805.4,496.9 805.4,497.2 805.5,497.5 805.1,497.8 805.5,498.1 805.2,498.4 805.1,498.7 805.2,499.0 805.6,499.3 805.3,499.6 805.6,499.9 805.7,500.2 805.7,500.5 805.4,500.8 805.4,501.1 805.5,501.4 805.1,501.7 805.6,502.0 805.6,502.3 805.2,502.6 805.3,502.9 805.5,503.2 805.7,503.5 805.3,503.8 805.7,504.1 805.2,504.4 805.5,504.7 805.3,505.0 805.7,505.3 805.3,505.6 805.2,505.9 805.4,506.2 805.7,506.5 805.7,506.8 805.4,507.1 805.7,507.4 805.3,507.7 805.5,508.0 805.8,508.3 805.3,508.6 805.4,508.9 805.5,509.2 805.4,509.5 805.6,509.8 805.5,510.1 805.7,510.4 805.3,510.7 805.8,511.1 805.5,511.4 805.3,511.6 805.7,511.9 805.4,512.2 805.4,512.6 805.8,512.9 805.4,513.2 806.0,513.4 805.5,513.7 805.7,514.1 805.4,514.4 806.0,514.7 806.0,515.0 805.8,515.3 805.5,515.6 805.6,515.9 805.8,516.2 805.6,516.5 805.8,516.8 806.0,517.1 805.5,517.4 805.6,517.7 806.1,518.0 806.0,518.2 805.4,518.5 805.5,518.8 805.9,519.2 806.0,519.5 806.1,519.8 805.5,520.0 805.8,520.4 805.8,520.7 806.1,521.0 805.8,521.3 805.5,521.6 805.5,521.9 805.8,522.2 805.6,522.5 805.9,522.8 805.9,523.0 805.9,523.4 805.9,523.7 805.5,524.0 806.0,524.3 805.6,524.6 805.9,524.9 805.7,525.2 805.8,525.5 806.1,525.8 806.2,526.1 806.2,526.4 806.1,526.7 806.0,527.0 806.2,527.3 805.7,527.6 805.6,527.9 806.2,528.2 806.1,528.5 805.9,528.8 805.8,529.1 806.3,529.4 805.8,529.7 805.8,530.0 806.3,530.3 806.2,530.6 806.3,530.9 806.3,531.2 806.4,531.5 806.0,531.8 805.9,532.1 806.1,532.4 806.0,532.7 806.0,533.0 806.1,533.3 806.4,533.6 806.1,533.9 806.0,534.2 805.9,534.5 806.3,534.8 806.2,535.1 805.9,535.4 806.3,535.7 805.9,536.0 805.9,536.3 806.0,536.6 806.4,536.9 806.2,537.2 806.3,537.5 806.5,537.8 806.5,538.1 806.4,538.4 806.2,538.7 806.2,539.0 805.9,539.3 805.9,539.6 806.2,539.9 806.1,540.2 806.3,540.5 805.9,540.8 806.6,541.1 806.3,541.4 806.0,541.7 806.4,542.0 806.3,542.3 806.4,542.6 806.6,542.9 806.3,543.2 806.0,543.5 806.1,543.8 806.3,544.1 806.2,544.4 806.3,544.7 806.4,545.0 806.4,545.3 806.1,545.6 806.1,545.9 806.1,546.2 806.5,546.5 806.3,546.8 806.4,547.1 806.3,547.4 806.6,547.7 806.8,548.0 806.5,548.3 806.2,548.6 806.6,548.9 806.3,549.2 806.6,549.5 806.5,549.8 806.1,550.1 806.3,550.4 806.3,550.7 806.4,551.0 806.8,551.3 806.7,551.6 806.5,551.9 806.5,552.2 806.2,552.5 806.4,552.9 806.8,553.1 806.5,553.4 806.4,553.7 806.9,554.0 806.4,554.3 806.8,554.6 806.5,554.9 806.5,555.2 806.5,555.5 806.5,555.8 806.5,556.1 806.5,556.5 806.6,556.7 806.6,557.1 806.3,557.3 806.6,557.6 806.9,557.9 806.8,558.2 806.4,558.5 806.5,558.8 806.8,559.1 806.8,559.4 806.4,559.8 806.6,560.0 806.7,560.4 806.9,560.6 806.8,560.9 806.8,561.3 807.0,561.5 807.0,561.8 806.6,562.1 807.0,562.4 806.6,562.7 806.5,563.1 807.0,563.4 807.1,563.6 806.5,563.9 807.0,564.2 806.5,564.6 807.1,564.8 806.8,565.1 806.8,565.5 807.1,565.7 806.7,566.1 806.9,566.4 806.6,566.7 806.7,567.0 806.9,567.2 807.1,567.6 806.8,567.8 806.6,568.1 806.7,568.4 806.9,568.8 806.6,569.0 806.7,569.4 806.8,569.7 807.2,570.0 806.9,570.3 806.7,570.6 807.0,570.9 807.0,571.2 807.1,571.5 807.2,571.8 807.1,572.1 806.7,572.4 807.1,572.7 807.1,573.0 807.0,573.3 806.8,573.6 806.8,573.9 807.1,574.2 807.2,574.5 806.8,574.8 807.3,575.1 807.1,575.4 807.2,575.7 807.3,576.0 806.8,576.3 807.3,576.6 807.3,576.9 807.1,577.2 807.0,577.5 807.2,577.8 807.2,578.1 807.1,578.4 807.2,578.7 807.3,579.0 807.4,579.3 807.5,579.6 807.5,579.9 806.9,580.2 807.5,580.5 807.5,580.8 807.6,581.1 807.4,581.4 807.5,581.7 807.6,582.0 807.0,582.3 807.0,582.6 807.3,582.9 807.6,583.2 807.3,583.5 807.3,583.8 807.5,584.1 807.4,584.4 807.5,584.7 807.4,585.0 807.3,585.3 807.3,585.6 807.5,585.9 807.1,586.2 807.2,586.5 807.1,586.8 807.5,587.1 807.3,587.4 807.6,587.7 807.3,588.0 807.7,588.3 807.3,588.9 807.7,589.2 807.9,589.9 807.9,590.0 808.2,589.8 808.3,590.5 808.6,590.3 808.8,590.7 809.0,591.2 809.2,590.9 809.4,591.6 809.7,591.2 809.7,591.4 810.1,591.8 810.2,592.1 810.0,592.4 810.4,592.7 810.2,593.0 810.2,593.3 810.2,593.6 810.2,594.0 810.3,594.3 810.1,594.6 810.4,594.7 810.3,595.0 810.5,595.5 810.5,595.7 810.8,596.1 810.7,596.3 810.3,596.7 810.4,596.9 810.6,597.3 810.7,597.6 810.7,597.9 810.9,598.1 811.1,598.4 810.6,598.7 810.9,599.0 810.8,599.3 810.9,599.7 811.2,600.0 810.7,600.2 810.9,600.6 811.1,600.9 811.3,601.1 811.4,601.6 811.5,601.9 811.5,602.2 811.4,602.3 811.3,602.8 811.2,603.1 811.6,603.3 811.5,603.7 811.6,603.9 811.6,604.3 811.7,604.6 811.6,605.0 811.5,605.3 811.4,605.4 811.6,605.7 811.9,606.2 811.8,606.2 811.7,606.6 811.8,606.9 811.8,607.4 812.1,607.5 812.2,607.9 812.5,608.1 812.4,608.5 812.1,608.7 812.2,609.1 812.7,609.2 812.4,609.5 812.6,609.9 812.8,610.2 812.8,610.6 812.5,610.8 812.8,611.0 812.9,611.2 812.9,611.7 812.8,612.0 813.3,612.2 813.1,612.4 813.3,612.7 813.4,613.0 813.1,613.3 813.1,613.5 813.5,613.8 813.7,614.2 813.7,614.5 813.8,614.7 813.5,615.1 813.9,615.5 813.5,616.0 813.7,616.2 814.1,616.4 813.7,616.6 814.1,617.0 814.2,617.4 814.3,617.6 814.4,617.9 814.3,618.2 814.1,618.5 814.1,618.8 814.2,618.9 814.4,619.2 814.4,619.4 814.9,619.9 814.8,620.3 814.6,620.4 815.0,620.0 815.3,620.8 815.5,620.3 815.8,620.2 816.1,620.7 816.4,621.6 816.6,620.7 816.9,621.3 817.2,621.2 817.4,621.5 817.7,621.3 818.0,621.7 818.2,622.4 818.4,621.8 818.8,621.4 818.9,622.0 819.2,621.5 819.3,620.5 819.5,620.5 819.9,620.6 820.0,619.7 820.3,619.9 820.5,619.6 820.7,619.9 820.8,618.9 821.2,619.5 821.3,618.7 821.3,618.4 821.5,618.1 821.6,618.1 821.5,617.8 821.8,617.2 821.7,617.1 821.9,616.7 821.6,616.5 821.7,616.1 821.7,616.1 821.7,615.5 822.1,615.4 822.4,614.9 822.3,614.7 822.5,614.2 822.5,614.0 822.5,613.7 822.4,613.4 822.4,612.9 822.9,612.6 822.7,613.0 823.0,612.8 822.7,613.1 823.0,613.3 822.9,613.7 823.1,614.1 822.9,614.3 822.6,614.5 822.8,614.9 822.9,615.1 822.9,615.4 823.0,615.8 822.8,616.1 823.1,616.5 823.4,616.7 823.3,617.1 823.1,617.4 823.6,617.6 823.5,618.2 823.6,618.2 823.4,618.6 823.8,619.2 823.7,619.2 824.1,619.6 824.0,620.2 824.1,620.2 824.5,620.8"/>
<polyline fill="none" stroke="#f00" stroke-width="2.1" stroke-linejoin="round" points="125.0,628.0 125.0,627.7 125.0,627.4 125.2,627.1 125.4,626.8 125.5,626.5 125.3,626.2 125.3,625.9 125.3,625.6 125.6,625.3 125.5,625.0 125.4,624.7 125.2,624.4 125.5,624.1 125.6,623.8 125.3,623.5 125.1,623.2 125.3,622.9 125.2,622.6 125.1,622.3 125.5,622.0 125.4,621.7 125.4,621.4 125.1,621.1 125.5,620.8 125.3,620.5 125.3,620.2 125.3,619.9 125.4,619.6 125.5,619.3 125.6,619.0 125.5,618.7 125.1,618.4 125.4,618.1 125.6,617.8 125.4,617.5 125.2,617.2 125.8,616.9 125.5,616.6 125.3,616.3 125.8,616.0 125.2,615.7 125.2,615.4 125.3,615.1 125.3,614.8 125.6,614.5 125.9,614.2 125.5,613.9 125.9,613.6 125.4,613.3 125.5,613.0 125.6,612.7 125.9,612.4 125.8,612.1 125.6,611.8 125.5,611.5 125.5,611.2 125.9,610.9 125.5,610.6 125.5,610.3 125.5,610.0 125.6,609.7 126.0,609.4 125.7,609.1 126.0,608.8 126.0,608.5 125.8,608.2 125.9,607.9 125.5,607.6 125.7,607.3 125.5,607.0 125.5,606.7 125.8,606.4 126.0,606.1 125.5,605.8 125.5,605.5 126.0,605.2 125.8,604.9 125.6,604.6 126.1,604.3 125.9,604.0 126.0,603.7 126.1,603.4 125.6,603.1 125.6,602.8 126.2,602.5 125.8,602.2 126.0,601.9 125.9,601.6 125.7,601.3 125.8,601.0 125.7,600.7 126.0,600.4 126.0,600.1 125.6,599.8 126.2,599.5 125.8,599.2 126.0,598.9 125.7,598.6 125.9,598.3 125.7,598.0 126.1,597.7 125.9,597.4 126.3,597.1 125.8,596.8 126.1,596.5 126.4,596.2 125.9,595.9 126.3,595.6 126.4,595.3 125.8,595.0 126.1,594.7 126.1,594.4 126.1,594.1 126.3,593.8 126.3,593.5 126.0,593.2 126.2,592.9 126.5,592.6 126.0,592.3 126.0,592.0 126.2,591.7 126.1,591.4 126.1,591.1 126.4,590.8 126.5,590.5 126.1,590.2 126.0,589.9 126.2,589.6 126.3,589.3 126.5,589.0 126.6,588.7 126.3,588.4 126.4,588.1 126.3,587.8 126.0,587.5 126.4,587.2 126.4,586.9 126.2,586.6 126.4,586.3 126.3,586.0 126.6,585.7 126.3,585.4 126.4,585.1 126.1,584.8 126.5,584.5 126.4,584.2 126.2,583.9 126.4,583.6 126.2,583.3 126.3,583.0 126.3,582.7 126.4,582.4 126.5,582.1 126.7,581.8 126.5,581.5 126.7,581.2 126.7,580.9 126.2,580.6 126.4,580.3 126.2,580.0 126.8,579.7 126.2,579.4 126.4,579.1 126.6,578.8 126.3,578.5 126.9,578.2 126.4,577.9 126.3,577.6 126.3,577.3 126.6,577.0 126.6,576.7 126.7,576.4 126.4,576.1 126.4,575.8 126.5,575.5 126.4,575.2 126.4,574.9 126.6,574.6 126.6,574.3 126.9,574.0 127.1,573.7 126.5,573.4 126.9,573.1 126.5,572.8 126.6,572.5 126.5,572.2 126.5,571.9 126.6,571.6 126.9,571.3 127.0,571.0 127.1,570.7 127.1,570.4 126.7,570.1 127.1,569.8 127.0,569.5 127.0,569.2 127.0,568.9 126.8,568.6 127.2,568.3 126.9,567.9 126.7,567.6 127.0,567.4 127.0,567.1 127.0,566.7 127.1,566.5 127.3,566.2 127.1,565.9 127.2,565.6 127.2,565.3 127.1,565.0 127.1,564.6 127.4,564.4 126.9,564.1 127.3,563.8 127.0,563.5 127.2,563.2 127.5,562.9 127.1,562.6 127.4,562.3 127.1,562.0 127.0,561.7 127.0,561.3 127.5,561.0 127.5,560.8 127.4,560.5 127.1,560.2 127.6,559.9 127.3,559.5 127.3,559.2 127.5,558.9 127.0,558.6 127.5,558.3 127.3,558.1 127.5,557.7 127.2,557.5 127.1,557.1 127.4,556.8 127.5,556.5 127.3,556.3 127.3,555.9 127.7,555.6 127.2,555.3 127.6,555.0 127.4,554.8 127.8,554.4 127.8,554.1 127.7,553.8 127.5,553.6 127.5,553.2 127.3,552.9 127.6,552.7 127.8,552.4 127.7,552.0 127.5,551.7 127.4,551.4 127.6,551.1 127.3,550.8 127.7,550.5 127.8,550.2 127.3,549.9 127.8,549.6 127.6,549.3 127.7,549.0 127.8,548.7 127.9,548.4 128.0,548.1 127.8,547.8 127.7,547.5 127.9,547.2 127.9,546.9 127.7,546.6 128.0,546.3 127.5,546.0 127.5,545.7 127.6,545.4 127.9,545.1 128.1,544.8 127.8,544.5 127.6,544.2 128.1,543.9 128.2,543.6 127.6,543.3 128.0,543.0 127.9,542.7 128.0,542.4 127.8,542.1 127.8,541.8 128.2,541.5 127.7,541.2 128.1,540.9 127.9,540.6 128.0,540.3 128.3,540.0 128.2,539.7 128.2,539.4 128.0,539.1 128.2,538.8 128.0,538.5 128.0,538.2 128.3,537.9 128.2,537.6 128.3,537.3 128.2,537.0 128.1,536.7 128.3,536.4 128.0,536.1 128.4,535.8 128.3,535.5 128.0,535.2 128.3,534.9 128.4,534.6 128.0,534.3 128.1,534.0 128.3,533.7 128.1,533.4 128.4,533.1 128.5,532.8 128.3,532.5 128.0,532.2 128.2,531.9 128.5,531.6 128.4,531.3 128.4,531.0 128.6,530.7 128.7,530.3 128.4,530.0 128.3,529.7 128.6,529.4 128.2,529.1 128.2,528.9 128.6,528.6 128.3,528.3 128.7,528.0 128.3,527.6 128.5,527.3 128.4,527.0 128.3,526.8 128.4,526.4 128.6,526.2 128.4,525.8 128.7,525.5 128.6,525.3 128.4,525.0 128.8,524.7 128.5,524.4 128.9,524.0 128.7,523.7 128.8,523.4 129.0,523.2 128.7,522.8 128.8,522.6 128.4,522.2 128.9,521.9 128.5,521.6 128.6,521.3 129.0,521.0 128.9,520.7 128.7,520.4 128.5,520.1 128.6,519.9 129.0,519.5 128.7,519.2 128.7,518.9 128.5,518.6 128.9,518.3 129.0,518.0 129.2,517.7 129.2,517.4 128.7,517.1 128.6,516.8 128.9,516.5 128.8,516.2 128.7,515.9 129.2,515.6 128.9,515.3 129.2,515.0 128.9,514.7 128.8,514.4 128.9,514.1 129.2,513.8 129.0,513.5 129.3,513.2 129.1,512.9 129.2,512.6 129.0,512.3 129.3,512.0 129.1,511.7 129.5,511.4 129.2,511.1 129.1,510.8 129.3,510.5 129.1,510.2 129.3,509.9 129.0,509.6 129.6,509.3 129.5,509.0 129.0,508.7 129.1,508.4 129.3,508.1 129.4,507.7 129.2,507.4 129.6,507.1 129.1,506.8 129.4,506.6 129.3,506.3 129.7,505.9 129.5,505.6 129.7,505.4 129.6,505.0 129.2,504.7 129.3,504.5 129.3,504.2 129.2,503.9 129.7,503.5 129.7,503.3 129.7,503.0 129.2,502.7 129.8,502.4 129.7,502.0 129.3,501.8 129.4,501.5 129.6,501.1 129.5,500.9 129.4,500.6 129.7,500.3 129.8,500.0 129.4,499.7 129.6,499.4 129.9,499.1 129.4,498.7 129.4,498.4 129.9,498.2 130.0,497.8 129.7,497.5 129.4,497.2 129.4,496.9 129.6,496.6 130.1,496.3 129.7,496.0 130.0,495.7 130.1,495.4 129.7,495.1 130.0,494.8 129.9,494.5 129.9,494.2 129.7,493.9 130.0,493.6 130.0,493.3 129.8,493.0 129.8,492.7 129.7,492.4 129.6,492.1 129.9,491.8 130.0,491.5 130.0,491.2 130.0,490.9 129.8,490.6 130.1,490.3 129.7,490.0 129.8,489.7 129.8,489.4 129.9,489.1 130.2,488.8 130.0,488.5 130.2,488.2 130.3,487.9 130.0,487.6 130.0,487.3 129.8,487.0 130.1,486.7 130.4,486.4 130.4,486.1 130.3,485.8 130.2,485.5 130.5,485.2 130.1,484.9 130.1,484.6 130.5,484.3 130.4,484.0 130.6,483.7 130.4,483.4 129.9,483.1 130.3,482.8 130.2,482.5 130.2,482.2 130.4,481.9 130.6,481.6 130.5,481.3 130.6,481.0 130.2,480.7 130.3,480.4 130.5,480.1 130.1,479.8 130.4,479.5 130.1,479.2 130.4,478.9 130.3,478.6 130.5,478.3 130.4,477.9 130.3,477.7 130.2,477.4 130.7,477.1 130.2,476.7 130.6,476.5 130.6,476.1 130.3,475.9 130.5,475.5 130.8,475.2 130.8,474.9 130.3,474.6 130.9,474.4 130.6,474.1 130.7,473.7 130.4,473.4 130.7,473.1 130.8,472.8 130.6,472.5 130.6,472.2 130.8,472.0 130.5,471.6 130.6,471.3 130.8,471.1 131.0,470.7 130.9,470.4 130.6,470.2 131.1,469.8 130.6,469.5 130.8,469.2 130.6,469.0 130.7,468.7 131.0,468.4 130.7,468.0 131.1,467.7 131.1,467.5 131.2,467.1 131.1,466.8 130.9,466.5 131.0,466.3 130.9,465.9 131.0,465.7 131.0,465.3 130.7,465.1 131.0,464.8 131.0,464.4 131.1,464.1 131.0,463.8 130.7,463.5 131.2,463.2 131.3,462.9 131.1,462.6 131.3,462.3 131.4,462.0 130.8,461.7 131.4,461.4 131.0,461.1 131.2,460.8 131.5,460.5 130.9,460.2 130.8,459.9 131.1,459.6 131.2,459.3 131.5,459.0 131.5,458.7 131.3,458.4 131.3,458.1 131.4,457.8 131.1,457.5 131.3,457.2 131.4,456.9 131.0,456.6 131.2,456.3 131.0,456.0 131.2,455.7 131.4,455.4 131.1,455.1 131.1,454.8 131.1,454.5 131.7,454.2 131.1,453.9 131.1,453.6 131.3,453.3 131.4,453.0 131.6,452.7 131.3,452.4 131.2,452.1 131.3,451.8 131.7,451.5 131.4,451.2 131.6,450.9 131.5,450.6 131.8,450.3 131.2,450.0 131.6,449.7 131.7,449.4 131.8,449.1 131.8,448.8 131.5,448.5 131.8,448.2 131.7,447.9 131.9,447.6 131.9,447.3 131.7,447.0 131.4,446.7 132.0,446.3 131.5,446.1 131.8,445.8 131.4,445.5 131.4,445.1 132.0,444.8 132.1,444.6 131.6,444.2 131.8,443.9 131.5,443.6 131.5,443.3 131.5,443.0 132.1,442.7 131.6,442.4 131.5,442.2 131.9,441.9 131.7,441.5 132.2,441.3 132.1,441.0 132.1,440.7 131.8,440.3 132.0,440.0 132.0,439.8 131.6,439.4 132.1,439.1 132.3,438.8 131.8,438.5 132.2,438.2 131.8,437.9 131.7,437.6 132.0,437.3 132.1,437.0 132.0,436.7 131.9,436.4 131.8,436.1 132.0,435.9 131.8,435.5 131.9,435.2 132.3,434.9 132.3,434.6 132.4,434.3 132.1,434.0 132.2,433.7 132.5,433.4 132.4,433.1 132.0,432.8 132.4,432.5 132.1,432.2 132.3,431.9 131.9,431.6 132.2,431.3 132.2,431.0 132.3,430.7 132.2,430.4 132.1,430.1 132.6,429.8 132.3,429.5 132.1,429.2 132.5,428.9 132.5,428.6 132.1,428.3 132.1,428.0 132.1,427.7 132.4,427.4 132.5,427.1 132.8,426.8 132.3,426.5 132.2,426.2 132.7,425.9 132.3,425.6 132.6,425.3 132.2,425.0 132.7,424.7 132.3,424.4 132.3,424.1 132.4,423.8 132.8,423.5 132.6,423.2 132.7,422.9 132.4,422.6 132.9,422.3 133.0,422.0 132.6,421.8 132.9,421.4 133.0,421.1 132.8,420.8 132.8,420.5 132.9,420.2 132.5,419.9 132.6,419.6 132.9,419.3 132.8,419.0 132.7,418.6 132.9,418.4 132.9,418.0 132.9,417.8 133.2,417.4 132.7,417.2 133.3,416.8 133.2,416.6 132.9,416.2 133.1,416.0 133.2,415.7 133.1,415.4 132.9,415.1 133.0,414.8 133.2,414.5 133.3,414.1 133.1,413.9 133.3,413.6 133.4,413.3 133.4,413.0 133.4,412.7 133.2,412.4 133.5,412.0 133.1,411.8 133.4,411.5 133.1,411.2 133.1,410.9 133.4,410.6 133.4,410.3 133.7,410.0 133.6,409.7 133.6,409.4 133.4,409.1 133.4,408.8 133.7,408.5 133.7,408.2 133.4,407.9 133.3,407.6 133.4,407.3 133.5,407.0 133.9,406.7 133.8,406.4 133.8,406.1 134.0,405.8 133.9,405.5 133.5,405.2 133.5,404.9 133.9,404.6 134.0,404.3 133.7,404.0 134.1,403.7 133.6,403.4 133.5,403.1 134.1,402.8 133.7,402.5 133.6,402.2 134.2,401.9 133.8,401.5 134.1,401.3 134.2,400.9 133.9,400.7 133.9,400.3 134.1,400.1 133.8,399.8 134.3,399.5 134.4,399.2 133.8,398.9 134.3,398.6 134.0,398.3 134.1,398.0 133.9,397.7 134.4,397.4 134.2,397.1 134.3,396.7 134.3,396.5 134.1,396.1 134.5,395.9 134.0,395.5 134.3,395.2 134.3,394.9 134.3,394.6 134.4,394.3 134.5,394.0 134.2,393.7 134.4,393.4 134.3,393.1 134.8,392.8 134.7,392.5 134.1,392.2 134.2,391.9 134.4,391.6 134.7,391.3 134.9,391.1 134.8,390.8 134.3,390.4 134.4,390.1 134.9,389.9 134.6,389.5 134.7,389.3 134.7,388.9 134.7,388.7 134.4,388.3 134.9,388.0 134.7,387.7 134.8,387.4 134.7,387.1 134.6,386.8 134.6,386.5 134.8,386.2 134.6,385.9 135.0,385.7 134.7,385.3 135.2,385.0 135.2,384.8 135.2,384.5 135.0,384.1 135.0,383.9 134.9,383.5 134.7,383.2 135.2,382.9 135.1,382.6 134.9,382.3 135.1,382.0 135.4,381.7 134.9,381.5 134.9,381.1 135.1,380.8 135.0,380.5 135.5,380.2 135.4,379.9 135.0,379.6 135.1,379.3 135.4,379.0 135.3,378.7 135.6,378.4 135.6,378.1 135.0,377.8 135.6,377.5 135.1,377.2 135.2,376.9 135.6,376.6 135.5,376.3 135.2,376.0 135.8,375.7 135.5,375.4 135.6,375.1 135.3,374.9 135.8,374.5 135.8,374.2 135.5,374.0 135.6,373.6 135.3,373.3 135.9,373.0 135.4,372.7 135.9,372.4 135.4,372.1 135.7,371.8 136.0,371.5 135.5,371.2 135.6,370.9 135.7,370.6 135.9,370.3 135.5,370.0 135.8,369.7 135.7,369.4 135.7,369.1 135.7,368.8 136.0,368.5 136.0,368.1 135.7,367.9 135.8,367.6 136.2,367.3 136.3,367.0 136.0,366.7 136.3,366.4 136.1,366.1 135.9,365.8 136.4,365.5 135.9,365.2 136.3,364.9 136.4,364.6 136.0,364.3 135.8,364.0 136.4,363.7 136.2,363.4 136.1,363.1 136.3,362.8 136.5,362.5 136.4,362.2 136.3,361.9 136.5,361.6 136.3,361.3 136.2,361.0 136.6,360.7 136.3,360.4 136.4,360.1 136.2,359.8 136.5,359.5 136.7,359.2 136.3,358.9 136.6,358.6 136.7,358.3 136.5,358.0 136.4,357.7 136.4,357.4 136.2,357.1 136.4,356.8 136.4,356.5 136.4,356.2 136.5,355.9 136.4,355.6 136.8,355.3 136.6,355.0 136.8,354.7 136.4,354.4 136.9,354.1 136.5,353.8 136.5,353.5 136.8,353.2 136.9,352.9 136.8,352.6 136.8,352.3 136.6,352.0 136.5,351.7 136.6,351.4 136.6,351.1 136.8,350.8 137.0,350.5 136.9,350.2 136.7,349.9 136.9,349.6 137.1,349.4 136.9,349.0 136.7,348.7 137.1,348.4 136.8,348.1 137.2,347.8 137.1,347.5 136.8,347.2 136.7,346.9 136.9,346.6 137.3,346.3 137.4,346.0 137.1,345.7 136.8,345.4 137.1,345.1 137.3,344.8 137.2,344.5 136.9,344.2 137.2,343.9 137.5,343.6 136.9,343.3 137.0,343.0 137.4,342.7 137.4,342.4 137.5,342.1 137.0,341.8 137.3,341.5 137.3,341.2 137.4,340.9 137.1,340.6 137.4,340.3 137.6,340.0 137.2,339.7 137.7,339.4 137.4,339.1 137.6,338.8 137.6,338.5 137.6,338.2 137.7,337.9 137.5,337.6 137.3,337.3 137.3,337.0 137.3,336.7 137.2,336.4 137.9,336.1 137.7,335.8 137.4,335.5 137.5,335.2 137.4,334.9 137.9,334.6 137.9,334.3 137.6,334.0 137.9,333.7 137.4,333.4 137.8,333.1 137.5,332.8 138.0,332.5 137.5,332.2 137.7,331.9 137.9,331.6 137.6,331.3 137.9,331.0 137.9,330.7 138.1,330.4 138.2,330.1 137.6,329.8 137.7,329.5 137.8,329.2 137.9,328.9 138.1,328.6 138.2,328.3 138.2,328.0 137.8,327.8 138.0,327.4 138.3,327.1 138.0,326.8 138.2,326.5 138.2,326.2 137.9,325.9 138.2,325.6 138.0,325.3 138.1,325.0 138.4,324.7 138.0,324.4 138.4,324.1 138.3,323.8 137.8,323.5 138.0,323.2 138.2,322.9 138.3,322.6 138.5,322.3 138.2,322.0 138.2,321.7 138.6,321.4 138.0,321.1 138.4,320.8 138.5,320.5 138.2,320.2 138.6,319.9 138.5,319.5 138.2,319.3 138.5,319.0 138.5,318.7 138.1,318.4 138.3,318.1 138.2,317.8 138.3,317.5 138.7,317.2 138.5,316.9 138.3,316.6 138.6,316.3 138.3,316.0 138.4,315.7 138.7,315.4 138.5,315.1 138.3,314.8 138.4,314.5 138.6,314.2 138.6,313.9 138.8,313.6 138.8,313.3 138.6,313.0 139.0,312.7 138.7,312.3 138.6,312.1 138.5,311.8 138.8,311.5 138.9,311.1 139.0,310.8 139.0,310.6 139.1,310.3 139.2,310.1 139.0,309.7 139.3,309.4 139.2,309.0 138.8,308.8 139.0,308.5 139.2,308.2 138.9,307.9 139.4,307.6 139.4,307.3 139.3,307.0 139.1,306.7 139.3,306.4 139.5,306.2 139.4,305.8 139.2,305.5 139.7,305.2 139.4,304.9 139.6,304.6 139.6,304.3 139.7,304.0 139.4,303.7 139.2,303.4 139.8,303.1 139.7,302.9 139.5,302.5 139.5,302.3 139.6,301.9 139.9,301.7 139.5,301.4 140.0,301.1 139.7,300.7 140.0,300.4 139.6,300.1 139.9,299.8 139.9,299.6 140.1,299.2 140.2,298.9 140.0,298.6 140.1,298.4 139.9,298.0 139.8,297.7 140.1,297.4 139.8,297.1 139.9,296.8 140.2,296.5 139.9,296.2 139.9,295.9 140.3,295.6 140.2,295.3 140.0,295.0 140.3,294.7 140.4,294.4 140.3,294.1 140.1,293.8 140.2,293.5 140.6,293.2 140.2,292.9 140.7,292.6 140.7,292.3 140.3,292.0 140.4,291.7 140.8,291.4 140.8,291.1 140.9,290.8 140.7,290.5 140.6,290.1 140.5,289.9 140.5,289.6 140.8,289.3 140.9,289.0 140.9,288.7 140.7,288.4 141.0,288.1 141.0,287.8 140.8,287.5 140.6,287.2 141.2,286.9 141.0,286.6 141.0,286.4 140.7,285.9 141.1,285.6 141.1,285.4 141.0,285.1 141.2,284.8 141.4,284.4 141.4,284.1 140.9,283.9 140.9,283.5 141.1,283.3 141.4,282.9 141.0,282.7 141.1,282.4 141.2,282.1 141.4,281.8 141.7,281.4 141.5,281.2 141.5,280.8 141.5,280.5 141.6,280.2 141.7,280.0 141.5,279.7 141.6,279.4 141.8,279.1 141.5,278.9 141.6,278.5 141.4,278.1 141.5,277.9 141.8,277.5 142.0,277.2 141.8,277.0 141.9,276.7 142.0,276.4 141.9,276.1 142.1,275.8 141.8,275.5 141.8,275.1 142.3,274.8 142.2,274.6 141.8,274.3 142.1,274.0 142.4,273.6 142.4,273.3 142.5,273.1 142.2,272.7 142.0,272.5 142.6,272.3 142.6,271.8 142.1,271.7 142.3,271.4 142.3,271.0 142.4,270.7 142.7,270.4 142.4,270.0 142.3,269.8 142.8,269.4 142.6,269.2 142.9,268.9 142.8,268.6 143.0,268.3 142.7,268.0 142.8,267.8 143.1,267.4 142.6,267.1 142.8,266.9 143.2,266.6 143.2,266.2 143.2,265.9 143.1,265.6 143.2,265.4 143.3,265.0 143.2,264.7 143.1,264.5 143.2,264.2 143.1,263.8 143.1,263.6 143.4,263.3 143.0,262.9 143.5,262.7 143.2,262.3 143.4,262.1 143.2,261.7 143.6,261.4 143.6,261.1 143.3,260.8 143.5,260.5 143.6,260.1 143.7,259.8 143.3,259.6 143.8,259.3 143.8,259.0 143.8,258.7 143.7,258.4 143.9,258.1 143.9,257.8 143.7,257.5 143.8,257.3 144.2,257.0 143.8,256.6 144.0,256.4 143.9,256.1 144.1,255.8 144.0,255.4 144.4,255.2 143.9,254.8 144.1,254.6 144.5,254.2 144.4,253.8 144.5,253.5 144.3,253.3 144.1,253.0 144.2,252.7 144.6,252.4 144.8,252.1 144.5,251.8 144.7,251.6 144.5,251.2 144.8,250.9 144.6,250.7 144.7,250.3 144.9,250.1 144.8,249.8 144.9,249.5 144.6,249.1 144.8,248.8 144.8,248.5 145.0,248.1 144.9,248.0 145.3,247.5 145.3,247.8 145.3,247.1 145.1,247.1 145.3,247.0 145.2,246.5 145.2,245.6 145.6,245.5 145.6,244.8 145.7,244.9 145.6,244.7 145.6,244.0 145.8,243.8 145.6,243.2 145.5,243.7 145.5,242.8 146.0,242.1 145.6,242.3 145.5,241.9 145.9,241.7 145.6,242.1 145.9,241.4 145.8,241.4 145.9,240.9 146.2,241.0 146.0,239.9 146.3,239.4 146.3,239.2 146.4,239.5 146.1,238.7 146.2,238.8 146.2,238.1 146.3,238.7 146.2,237.8 146.3,237.4 146.5,237.6 146.5,237.0 146.7,236.5 146.8,236.6 146.5,236.1 146.9,234.5 146.7,235.9 146.7,234.3 146.8,235.2 146.8,233.8 146.9,233.3 146.9,233.4 147.4,232.4 147.1,233.6 147.5,232.2 147.6,232.6 147.7,231.4 147.4,231.2 147.3,231.2 147.8,231.6 147.9,231.2 148.0,231.6 147.9,230.8 148.1,230.8 147.9,230.9 147.9,229.8 148.0,229.7 148.4,230.5 148.4,230.5 148.2,229.4 148.4,228.6 148.5,229.3 148.8,227.7 148.8,226.6 148.6,226.6 148.7,227.6 149.1,226.1 149.1,226.6 149.1,227.4 149.0,226.0 149.4,225.9 149.1,226.1 149.0,225.0 149.6,224.8 149.2,222.9 149.2,224.0 149.7,222.4 149.6,222.2 149.9,222.6 149.8,222.5 149.9,221.2 149.9,222.2 150.0,221.1 150.0,221.4 150.0,220.0 150.3,219.7 150.4,220.0 150.6,220.5 150.5,220.0 150.7,218.5 150.7,219.5 150.7,218.5 151.0,220.1 151.0,218.8 151.2,220.4 151.4,218.3 151.5,216.5 151.5,218.2 151.5,217.2 152.0,216.2 152.2,215.1 152.0,216.1 152.2,216.2 152.1,214.7 152.4,214.6 152.3,213.8 152.6,215.0 152.9,215.2 152.9,212.9 152.9,213.7 153.3,212.9 153.3,213.2 153.6,213.9 153.7,214.4 154.0,213.1 154.0,214.0 154.2,211.7 154.5,211.8 154.6,212.2 154.9,213.2 155.0,208.5 155.3,211.1 155.4,207.9 155.7,211.5 155.8,208.4 156.1,206.9 156.1,212.8 156.3,210.0 156.7,208.9 156.7,209.3 157.0,211.0 157.1,208.5 157.3,208.9 157.5,209.9 157.8,206.1 157.8,211.4 158.1,214.4 158.3,214.8 158.5,215.2 158.7,220.6 158.7,215.4 159.1,218.1 159.2,222.5 159.3,223.6 159.5,221.8 159.9,228.4 160.0,226.5 160.3,223.0 160.4,223.3 160.5,220.3 160.8,216.3 161.0,214.7 161.0,211.6 161.4,209.9 161.5,209.9 161.8,204.4 162.0,205.0 162.2,203.6 162.5,200.9 162.7,201.2 162.9,200.3 163.1,203.6 163.5,205.5 163.7,200.7 163.9,204.4 164.1,205.3 164.4,199.4 164.6,203.5 164.8,200.2 165.2,199.6 165.4,204.1 165.6,200.2 165.8,203.0 166.0,203.6 166.3,199.1 166.5,202.1 166.8,202.8 167.1,194.5 167.3,199.4 167.5,198.6 167.7,194.5 168.0,197.6 168.1,200.5 168.5,201.0 168.7,201.4 168.8,199.3 169.2,197.2 169.4,197.5 169.7,197.5 169.8,200.0 170.1,197.5 170.3,199.4 170.6,197.4 170.9,198.1 171.1,198.3 171.3,199.1 171.6,194.1 171.7,196.1 172.0,192.9 172.3,194.6 172.5,195.6 172.8,195.5 173.1,191.7 173.3,191.2 173.6,195.7 173.9,191.6 174.2,197.0 174.4,193.8 174.7,199.5 175.0,199.2 175.3,204.0 175.5,202.5 175.8,210.8 176.1,211.4 176.4,210.0 176.6,207.5 176.9,208.7 177.1,203.1 177.4,202.2 177.7,198.5 177.9,192.3 178.2,193.9 178.5,194.4 178.8,192.5 179.1,186.6 179.4,186.5 179.6,188.2 179.9,190.7 180.1,187.7 180.4,186.5 180.7,191.1 181.0,184.6 181.3,190.5 181.5,186.8 181.8,190.1 182.1,186.0 182.4,188.4 182.6,186.9 182.9,189.2 183.1,190.7 183.4,191.6 183.7,188.3 183.9,192.1 184.2,194.8 184.5,191.6 184.8,187.3 185.0,189.5 185.3,188.3 185.6,188.7 185.9,189.4 186.2,189.9 186.4,184.1 186.7,185.3 186.9,185.0 187.2,191.8 187.5,192.0 187.8,190.4 188.0,189.4 188.3,185.9 188.5,185.1 188.9,182.3 189.2,183.9 189.4,184.2 189.7,185.7 189.9,188.4 190.2,193.2 190.5,193.8 190.8,195.5 191.0,203.2 191.3,203.7 191.5,201.7 191.8,198.0 192.1,197.2 192.4,192.7 192.7,189.9 192.9,186.6 193.2,184.4 193.5,180.8 193.7,187.7 194.1,184.2 194.3,187.1 194.6,188.5 194.9,187.1 195.2,184.4 195.5,184.6 195.7,186.1 196.0,180.6 196.3,184.4 196.6,183.1 196.9,183.4 197.1,179.5 197.4,181.6 197.7,180.4 198.0,183.3 198.3,183.8 198.5,176.3 198.8,182.1 199.1,179.5 199.4,180.6 199.7,179.9 200.0,182.8 200.3,181.2 200.5,181.3 200.8,184.4 201.1,188.1 201.4,183.7 201.6,183.6 201.9,184.1 202.2,187.6 202.5,180.3 202.8,183.4 203.0,181.6 203.3,183.8 203.6,178.9 203.9,180.6 204.2,178.8 204.5,181.1 204.8,178.5 205.1,181.0 205.4,183.5 205.7,185.2 206.0,188.7 206.3,190.2 206.6,192.3 206.9,195.5 207.1,199.8 207.5,196.8 207.7,197.1 208.0,186.2 208.3,189.2 208.6,180.1 208.9,178.3 209.2,177.2 209.5,179.7 209.8,175.6 210.1,175.8 210.4,182.6 210.7,182.5 211.0,178.6 211.3,181.4 211.6,179.8 211.9,184.1 212.2,179.8 212.5,178.2 212.8,181.8 213.1,177.2 213.4,178.0 213.7,180.5 214.0,179.8 214.3,174.1 214.6,175.7 214.8,179.1 215.1,184.5 215.4,175.5 215.7,175.7 216.0,184.3 216.3,177.6 216.6,178.5 216.9,183.8 217.2,178.6 217.5,175.0 217.8,178.4 218.1,180.1 218.4,175.2 218.7,175.5 219.0,176.1 219.3,171.7 219.6,178.3 219.9,175.0 220.2,175.1 220.5,178.4 220.8,181.8 221.1,175.6 221.4,183.4 221.6,179.5 221.9,176.4 222.2,174.9 222.5,178.0 222.8,171.9 223.1,171.4 223.4,177.7 223.7,176.7 224.0,174.5 224.3,175.5 224.6,170.9 224.9,172.3 225.2,171.2 225.5,175.1 225.8,170.7 226.1,171.5 226.4,179.0 226.7,170.9 226.9,176.8 227.2,173.3 227.5,172.7 227.8,170.6 228.1,173.8 228.4,174.5 228.7,177.9 229.0,179.6 229.3,174.4 229.6,171.7 229.9,180.2 230.2,176.1 230.5,176.3 230.8,178.3 231.0,177.9 231.3,177.6 231.6,173.7 231.9,178.8 232.2,173.7 232.5,176.9 232.8,169.7 233.1,170.9 233.4,174.5 233.7,176.9 234.0,179.8 234.2,177.5 234.5,177.2 234.8,177.2 235.1,174.9 235.4,179.9 235.7,177.1 236.0,172.0 236.3,176.0 236.6,174.4 236.9,171.9 237.2,175.3 237.5,176.4 237.7,178.8 238.0,178.4 238.3,179.9 238.6,173.7 238.9,179.0 239.2,176.6 239.5,178.5 239.8,176.0 240.1,169.5 240.4,170.2 240.7,169.8 241.0,169.4 241.2,170.5 241.5,172.4 241.8,170.3 242.1,171.3 242.4,175.9 242.7,169.9 243.0,171.7 243.3,173.3 243.6,170.6 243.9,172.5 244.2,168.1 244.5,173.5 244.7,169.3 245.0,173.9 245.3,171.4 245.6,174.4 245.9,168.2 246.2,169.7 246.5,175.5 246.8,168.4 247.1,174.4 247.4,169.4 247.7,168.6 248.0,166.9 248.3,168.0 248.6,173.8 248.9,169.1 249.2,166.4 249.5,171.9 249.7,168.9 250.0,172.0 250.4,175.4 250.6,171.0 250.9,167.9 251.2,172.6 251.5,173.5 251.8,171.6 252.1,172.6 252.4,168.8 252.7,166.2 253.0,168.1 253.3,172.0 253.6,173.1 253.9,167.6 254.2,171.5 254.5,172.7 254.8,169.1 255.1,176.0 255.4,173.8 255.7,169.8 256.0,170.8 256.3,165.9 256.6,167.6 256.8,170.7 257.2,165.9 257.4,168.3 257.7,167.1 258.0,163.1 258.3,167.0 258.6,164.2 258.9,168.8 259.2,169.2 259.5,166.1 259.8,164.7 260.1,167.6 260.4,171.9 260.7,176.3 261.0,174.6 261.3,169.4 261.6,171.8 261.9,167.2 262.2,172.4 262.5,166.4 262.8,166.9 263.1,169.9 263.4,167.7 263.7,171.2 264.0,169.5 264.3,166.4 264.5,173.3 264.8,172.6 265.1,165.9 265.4,168.5 265.7,171.4 266.0,169.0 266.3,171.0 266.6,169.8 266.9,174.4 267.2,175.0 267.5,176.4 267.8,173.6 268.1,168.1 268.4,168.8 268.7,171.6 268.9,163.6 269.2,165.5 269.5,162.4 269.8,163.4 270.1,165.1 270.4,161.1 270.7,165.2 271.0,163.2 271.2,161.7 271.5,166.8 271.8,163.3 272.1,163.7 272.4,169.9 272.7,165.7 273.0,165.5 273.3,160.8 273.5,167.6 273.8,164.2 274.1,162.4 274.4,165.3 274.7,165.7 275.0,163.9 275.3,164.2 275.6,163.0 275.9,168.4 276.2,162.1 276.4,161.7 276.7,167.1 277.0,168.1 277.3,167.9 277.6,163.6 277.9,166.5 278.2,160.8 278.5,161.3 278.7,163.7 279.0,163.2 279.3,163.4 279.6,167.4 279.9,164.1 280.2,165.4 280.5,166.7 280.8,166.0 281.0,169.3 281.3,164.0 281.6,164.7 281.9,161.4 282.2,165.1 282.5,161.3 282.8,166.1 283.1,160.9 283.3,162.6 283.6,166.5 283.9,165.3 284.2,160.8 284.5,160.2 284.8,164.2 285.1,166.0 285.4,160.9 285.6,164.8 285.9,163.3 286.2,165.9 286.5,161.5 286.8,159.5 287.1,159.5 287.4,166.5 287.6,160.7 288.0,162.8 288.2,163.7 288.5,165.6 288.8,161.0 289.1,157.4 289.4,161.2 289.7,158.9 290.0,161.9 290.2,160.6 290.6,159.4 290.8,157.8 291.1,154.5 291.4,162.0 291.7,159.3 292.0,157.5 292.3,161.5 292.5,162.7 292.8,160.4 293.1,154.9 293.4,155.1 293.7,155.8 294.0,155.7 294.3,157.6 294.5,159.4 294.9,155.6 295.1,157.6 295.4,158.1 295.7,157.8 296.0,160.8 296.3,161.9 296.6,161.3 296.9,162.3 297.1,161.5 297.4,159.2 297.7,157.7 298.0,155.3 298.3,157.0 298.6,158.4 298.8,151.9 299.1,152.4 299.4,149.8 299.7,158.2 300.0,157.8 300.3,152.3 300.6,154.9 300.9,153.4 301.2,155.3 301.5,156.3 301.8,160.3 302.1,154.6 302.4,156.3 302.7,157.4 303.0,157.8 303.3,152.0 303.6,152.6 303.9,157.7 304.2,153.0 304.5,155.6 304.8,158.6 305.1,153.4 305.4,156.2 305.7,160.0 306.0,154.3 306.3,154.7 306.6,151.7 306.9,151.1 307.2,156.5 307.5,152.7 307.8,152.9 308.1,150.4 308.4,153.5 308.7,149.4 309.0,152.8 309.3,154.5 309.6,165.5 309.9,164.3 310.1,166.8 310.4,171.0 310.7,169.4 311.0,171.6 311.3,163.2 311.6,158.7 311.9,161.6 312.2,157.8 312.5,151.4 312.8,152.8 313.1,150.6 313.4,157.0 313.7,158.0 314.0,151.6 314.3,153.0 314.6,155.7 314.9,156.7 315.2,158.6 315.5,157.7 315.8,156.9 316.1,153.0 316.4,153.3 316.7,153.8 317.0,152.5 317.3,150.2 317.6,153.1 317.9,151.4 318.2,149.0 318.5,147.7 318.8,154.3 319.1,149.4 319.4,156.5 319.7,157.9 320.0,153.4 320.3,158.9 320.6,156.4 320.9,159.6 321.2,158.8 321.5,151.7 321.8,153.3 322.1,155.0 322.4,152.5 322.7,148.4 323.0,151.4 323.3,148.9 323.6,150.1 323.9,148.2 324.2,152.9 324.5,156.5 324.8,151.0 325.1,151.5 325.4,155.7 325.7,154.1 326.0,156.6 326.3,154.6 326.6,149.4 326.9,152.3 327.2,148.9 327.5,147.8 327.8,152.9 328.1,147.8 328.4,150.1 328.7,157.9 329.0,152.4 329.3,156.6 329.6,156.5 329.9,155.1 330.2,157.5 330.4,152.2 330.7,151.6 331.0,156.3 331.3,151.7 331.6,150.3 331.9,152.1 332.2,154.6 332.5,152.4 332.8,154.7 333.1,149.5 333.4,153.7 333.7,155.5 334.0,152.9 334.3,154.0 334.6,153.7 334.9,151.2 335.2,151.5 335.5,154.7 335.8,150.3 336.1,151.6 336.4,152.6 336.7,157.1 337.0,153.2 337.3,150.7 337.6,151.8 337.9,149.1 338.2,150.4 338.5,153.8 338.8,148.6 339.1,148.3 339.4,152.9 339.7,147.5 340.0,150.8 340.3,155.2 340.6,147.2 340.9,151.4 341.2,155.2 341.5,155.5 341.8,154.2 342.1,155.0 342.4,150.2 342.7,149.4 343.0,149.9 343.3,156.4 343.6,150.3 343.9,153.8 344.2,146.9 344.5,154.9 344.8,152.2 345.1,151.9 345.4,152.1 345.7,149.1 346.0,150.9 346.3,152.9 346.6,145.4 346.9,144.0 347.2,151.4 347.5,150.7 347.8,148.2 348.1,151.6 348.4,150.9 348.7,147.2 349.0,145.2 349.3,154.1 349.6,149.4 349.8,145.5 350.2,151.6 350.4,153.6 350.7,149.2 351.0,153.4 351.3,146.6 351.6,150.6 351.9,152.6 352.2,149.3 352.5,145.2 352.8,145.1 353.1,147.3 353.4,145.3 353.7,150.0 354.0,148.2 354.3,145.4 354.6,149.4 354.9,142.8 355.2,145.0 355.5,142.4 355.8,145.3 356.1,144.8 356.4,149.1 356.7,147.1 357.0,144.7 357.3,146.6 357.6,148.6 357.9,150.4 358.2,148.1 358.5,150.3 358.8,154.7 359.1,150.1 359.4,150.1 359.7,149.5 360.0,153.0 360.3,146.1 360.6,148.1 360.9,150.4 361.2,149.1 361.5,147.3 361.8,147.6 362.1,146.0 362.4,149.1 362.7,151.1 363.0,150.9 363.3,144.2 363.6,149.1 363.9,148.0 364.2,145.9 364.5,145.6 364.8,152.4 365.1,146.2 365.4,149.8 365.7,146.2 366.0,148.5 366.3,150.2 366.6,151.0 366.8,150.5 367.1,144.0 367.4,149.1 367.7,152.4 368.0,144.9 368.3,147.2 368.6,152.8 368.9,149.8 369.2,144.5 369.5,151.1 369.8,153.5 370.1,145.1 370.4,149.4 370.7,146.9 371.0,146.4 371.3,143.3 371.6,154.2 371.9,157.2 372.2,152.8 372.5,161.4 372.8,160.9 373.1,159.5 373.4,161.4 373.7,161.3 374.0,155.6 374.3,149.2 374.6,152.5 374.9,146.4 375.2,147.3 375.5,145.7 375.8,150.7 376.1,148.4 376.4,150.4 376.7,149.7 377.0,144.9 377.3,147.2 377.6,143.0 377.9,142.9 378.2,146.4 378.5,145.2 378.8,147.7 379.1,144.1 379.4,145.5 379.7,147.5 379.9,151.2 380.2,147.8 380.5,145.8 380.8,146.2 381.1,149.8 381.4,144.6 381.7,149.0 382.0,145.9 382.3,149.3 382.6,148.5 382.9,148.7 383.2,143.5 383.5,146.6 383.8,141.8 384.1,142.8 384.4,141.1 384.7,142.7 385.0,139.7 385.3,141.6 385.6,144.6 385.9,144.3 386.2,143.9 386.5,144.7 386.8,142.6 387.1,139.7 387.4,141.2 387.7,143.7 388.0,147.9 388.3,144.8 388.6,144.6 388.9,147.4 389.2,142.8 389.5,143.3 389.8,149.4 390.1,141.6 390.4,145.6 390.7,141.6 391.0,142.2 391.3,149.1 391.6,146.2 391.9,143.9 392.2,139.6 392.5,146.0 392.8,140.7 393.0,139.0 393.3,142.5 393.6,138.0 393.9,144.2 394.2,141.3 394.5,140.3 394.8,140.0 395.1,140.5 395.4,139.8 395.7,142.7 396.0,138.6 396.3,142.9 396.6,145.2 396.9,144.9 397.2,144.0 397.5,142.9 397.8,141.9 398.1,142.6 398.4,144.3 398.7,147.9 399.0,143.9 399.3,140.8 399.6,139.6 399.9,141.2 400.2,140.5 400.5,138.9 400.8,141.2 401.1,143.1 401.4,142.9 401.7,144.0 402.0,144.1 402.3,146.4 402.6,140.4 402.9,144.6 403.2,146.4 403.5,145.4 403.8,148.0 404.1,139.5 404.4,143.6 404.7,146.4 405.0,145.2 405.3,145.6 405.6,150.5 405.9,155.5 406.2,152.6 406.5,159.0 406.7,156.3 407.0,153.1 407.3,152.0 407.6,153.6 407.9,143.6 408.2,139.8 408.5,141.3 408.8,138.7 409.1,139.8 409.4,138.7 409.7,145.1 410.0,141.8 410.3,139.1 410.6,140.7 410.9,139.6 411.2,140.7 411.5,138.4 411.8,142.5 412.1,140.0 412.4,136.1 412.7,143.8 413.0,140.8 413.3,136.4 413.6,142.6 413.9,142.3 414.2,141.7 414.5,139.9 414.8,140.9 415.1,141.4 415.4,137.3 415.7,140.7 416.0,137.7 416.3,135.1 416.6,140.7 416.9,142.1 417.2,138.6 417.5,139.2 417.8,138.2 418.1,137.1 418.4,138.5 418.7,140.6 419.0,140.3 419.3,140.1 419.6,143.0 419.9,138.3 420.2,146.3 420.5,143.5 420.8,138.9 421.1,138.6 421.4,138.5 421.7,143.0 422.0,141.4 422.3,138.1 422.6,139.3 422.9,139.1 423.2,140.4 423.5,139.7 423.8,136.9 424.1,135.2 424.4,139.3 424.7,135.1 425.0,140.0 425.3,139.8 425.6,137.0 425.9,141.4 426.2,136.3 426.5,138.5 426.8,137.1 427.1,138.2 427.4,138.2 427.7,137.7 428.0,136.4 428.3,134.0 428.6,139.3 428.9,133.0 429.2,137.0 429.5,139.2 429.7,138.9 430.0,138.8 430.3,138.3 430.6,141.8 430.9,141.7 431.2,135.4 431.5,137.2 431.8,133.2 432.1,137.4 432.4,134.8 432.7,139.7 433.0,132.5 433.3,132.7 433.6,136.8 433.9,136.0 434.2,136.5 434.5,136.2 434.8,131.6 435.1,136.2 435.4,135.9 435.7,135.9 436.0,143.2 436.3,144.5 436.6,146.6 436.9,147.0 437.2,145.5 437.5,142.0 437.8,149.6 438.1,142.9 438.4,141.4 438.7,137.8 439.0,139.3 439.3,141.7 439.6,138.4 439.9,142.2 440.2,137.1 440.5,139.7 440.8,147.3 441.1,143.7 441.4,142.7 441.7,144.3 442.0,136.2 442.3,138.9 442.6,136.7 442.9,139.1 443.2,135.7 443.5,135.0 443.8,135.8 444.1,137.0 444.4,134.3 444.7,132.2 445.0,136.5 445.3,137.0 445.6,135.0 445.9,138.6 446.2,140.1 446.5,142.1 446.8,140.8 447.1,135.6 447.4,137.0 447.7,139.6 448.0,134.2 448.3,141.0 448.6,138.6 448.9,135.0 449.2,138.5 449.5,134.6 449.8,132.3 450.1,137.5 450.4,137.4 450.7,130.9 451.0,137.6 451.3,131.0 451.6,136.3 451.9,134.8 452.2,137.7 452.5,138.7 452.8,130.4 453.1,134.4 453.4,138.5 453.7,134.2 454.0,131.7 454.3,135.3 454.6,131.7 454.9,133.6 455.2,140.9 455.5,139.8 455.8,138.7 456.1,132.0 456.4,137.5 456.7,135.3 457.0,137.3 457.3,133.4 457.6,133.1 457.9,139.1 458.2,137.3 458.5,137.5 458.8,137.0 459.1,135.0 459.4,136.8 459.7,140.8 460.0,141.2 460.3,134.9 460.6,141.2 460.9,139.7 461.2,138.3 461.5,135.7 461.8,141.5 462.1,139.5 462.4,142.1 462.7,137.4 462.9,140.0 463.2,135.8 463.5,136.9 463.8,135.1 464.1,135.9 464.4,131.5 464.7,135.6 465.0,132.8 465.3,135.9 465.6,133.3 465.9,133.3 466.2,132.5 466.5,139.0 466.8,131.4 467.1,130.4 467.4,137.7 467.7,133.1 468.0,136.3 468.3,131.5 468.6,132.7 468.9,135.1 469.2,131.2 469.5,131.7 469.8,132.5 470.1,135.3 470.4,131.7 470.7,129.5 471.0,132.3 471.3,135.8 471.6,136.6 471.9,134.4 472.2,132.9 472.5,140.4 472.8,137.9 473.1,146.0 473.4,149.7 473.7,152.7 474.0,156.8 474.3,157.5 474.6,161.4 474.9,151.6 475.2,154.0 475.5,145.6 475.8,141.5 476.1,143.4 476.4,140.2 476.7,133.6 477.0,136.2 477.3,135.6 477.6,128.8 477.9,132.0 478.2,133.3 478.5,136.9 478.8,139.3 479.1,137.1 479.4,141.0 479.7,141.1 480.0,139.5 480.3,133.3 480.6,133.9 480.9,133.1 481.2,134.6 481.5,132.9 481.8,131.9 482.1,130.5 482.4,136.4 482.7,134.0 483.0,135.3 483.3,138.2 483.6,136.0 483.9,131.5 484.2,132.1 484.5,134.4 484.8,136.1 485.1,131.0 485.4,133.0 485.7,131.0 486.0,130.3 486.3,135.0 486.6,132.4 486.9,132.7 487.2,136.3 487.5,129.8 487.8,131.2 488.1,130.3 488.4,129.8 488.7,136.0 489.0,134.5 489.3,137.7 489.6,133.6 489.9,131.5 490.2,136.8 490.5,131.9 490.8,136.4 491.1,129.7 491.4,136.7 491.7,136.3 492.0,128.8 492.3,137.2 492.6,134.6 492.9,133.9 493.2,134.4 493.5,129.6 493.8,129.6 494.1,128.5 494.4,131.7 494.7,127.8 495.0,132.2 495.3,133.4 495.6,133.0 495.9,134.7 496.2,133.4 496.5,136.0 496.8,133.1 497.1,133.8 497.4,131.9 497.7,131.8 498.0,135.9 498.3,131.3 498.6,136.8 498.9,135.9 499.2,132.3 499.5,129.1 499.8,129.5 500.1,126.8 500.4,131.9 500.7,133.3 501.0,126.1 501.3,125.8 501.6,129.0 501.9,134.5 502.2,127.6 502.5,129.6 502.8,130.9 503.1,131.1 503.4,131.0 503.7,134.2 504.0,130.9 504.3,130.8 504.6,134.6 504.9,137.8 505.2,130.1 505.5,130.2 505.8,129.5 506.1,127.8 506.4,127.9 506.7,129.7 507.0,129.2 507.3,133.9 507.6,132.7 507.9,140.8 508.2,140.1 508.5,143.0 508.8,139.1 509.1,146.5 509.4,141.2 509.7,137.8 510.0,140.5 510.3,134.4 510.6,131.6 510.9,131.8 511.2,132.1 511.5,128.5 511.8,132.0 512.1,131.5 512.4,129.7 512.7,128.6 513.0,135.9 513.3,137.1 513.6,130.1 513.9,133.7 514.2,130.6 514.5,129.0 514.8,129.4 515.1,130.3 515.4,129.3 515.7,125.7 516.0,133.3 516.3,129.7 516.6,127.6 516.9,130.1 517.2,129.9 517.5,132.3 517.8,127.9 518.1,131.1 518.4,132.5 518.7,134.3 519.0,128.2 519.3,130.5 519.6,134.8 519.9,132.4 520.1,135.1 520.4,131.7 520.7,132.2 521.0,130.1 521.3,134.6 521.6,129.8 521.9,126.9 522.2,127.5 522.5,127.7 522.8,130.3 523.1,134.4 523.4,133.3 523.7,133.5 524.0,135.0 524.3,135.8 524.6,129.6 524.9,130.2 525.2,132.9 525.5,134.6 525.8,132.7 526.1,128.4 526.4,128.9 526.7,128.0 527.0,133.7 527.3,135.1 527.6,130.3 527.9,127.8 528.2,135.8 528.5,135.7 528.8,136.1 529.1,133.5 529.4,134.3 529.7,126.6 530.0,124.4 530.3,129.8 530.6,129.6 530.9,124.9 531.2,127.7 531.5,123.4 531.8,124.6 532.1,133.0 532.4,132.7 532.7,126.4 533.0,131.0 533.3,130.9 533.6,128.3 533.9,128.1 534.2,129.6 534.5,124.2 534.8,131.6 535.1,129.5 535.4,127.7 535.7,127.1 536.0,126.9 536.3,130.5 536.6,127.4 536.9,131.1 537.2,125.9 537.5,128.0 537.8,128.0 538.1,126.4 538.4,132.8 538.7,132.5 539.0,127.6 539.3,127.0 539.6,130.2 539.9,125.5 540.2,131.1 540.5,126.8 540.8,128.4 541.1,126.6 541.4,128.9 541.7,128.5 542.0,130.0 542.3,134.0 542.6,133.0 542.9,135.4 543.2,138.6 543.5,135.1 543.8,138.9 544.1,144.0 544.4,140.2 544.7,136.2 545.0,138.0 545.3,131.3 545.6,129.2 545.9,127.5 546.2,128.2 546.5,128.0 546.8,131.3 547.1,126.4 547.4,129.1 547.7,130.5 548.0,131.9 548.3,130.0 548.6,126.2 548.9,123.0 549.2,124.1 549.5,123.6 549.8,127.6 550.1,129.4 550.4,122.8 550.7,125.9 551.0,129.6 551.3,129.3 551.6,123.2 551.9,126.8 552.2,128.8 552.5,128.1 552.8,123.7 553.1,129.1 553.4,131.3 553.7,130.9 554.0,131.2 554.3,126.9 554.6,130.2 554.9,132.2 555.2,134.0 555.5,133.1 555.8,128.4 556.1,127.4 556.4,130.6 556.7,125.3 557.0,126.4 557.3,129.6 557.6,126.4 557.9,130.0 558.2,123.6 558.5,124.6 558.8,126.5 559.1,130.2 559.4,126.7 559.7,132.9 560.0,128.3 560.3,124.9 560.6,126.1 560.9,130.3 561.2,124.3 561.5,122.4 561.8,123.3 562.1,120.4 562.4,122.7 562.7,124.9 563.0,127.3 563.3,125.3 563.6,125.7 563.9,122.8 564.2,125.2 564.5,128.9 564.8,126.9 565.1,129.7 565.4,126.8 565.7,131.1 566.0,124.5 566.3,128.7 566.6,129.5 566.9,130.9 567.2,124.9 567.5,130.6 567.8,132.9 568.1,129.9 568.4,134.1 568.7,133.4 569.0,128.1 569.3,129.9 569.6,126.9 569.9,130.1 570.2,123.0 570.5,126.6 570.8,121.0 571.1,122.0 571.4,128.7 571.7,124.0 572.0,127.8 572.3,131.6 572.6,126.9 572.9,128.9 573.2,131.3 573.5,130.4 573.8,129.4 574.1,124.5 574.4,126.9 574.7,127.8 575.0,124.0 575.3,125.1 575.6,125.6 575.9,122.6 576.2,125.6 576.5,127.6 576.8,130.2 577.1,131.3 577.4,140.0 577.7,138.0 578.0,143.2 578.3,140.8 578.6,145.0 578.9,143.7 579.2,140.2 579.5,136.5 579.8,139.2 580.1,129.1 580.4,133.1 580.7,124.2 581.0,126.8 581.3,121.9 581.6,123.0 581.9,129.6 582.2,128.0 582.5,122.4 582.8,121.1 583.1,121.4 583.4,126.6 583.7,124.2 584.0,127.5 584.3,127.0 584.6,127.3 584.9,122.1 585.2,127.3 585.5,124.4 585.8,127.9 586.1,124.3 586.4,125.5 586.7,128.5 587.0,124.4 587.3,124.9 587.6,126.3 587.9,126.3 588.2,130.6 588.5,129.9 588.8,130.2 589.1,126.7 589.4,126.3 589.7,126.1 590.0,127.4 590.3,126.0 590.6,128.5 590.9,126.7 591.2,120.8 591.5,126.6 591.8,125.5 592.1,127.2 592.4,123.0 592.7,121.4 593.0,124.2 593.3,122.9 593.6,126.6 593.9,127.9 594.2,131.3 594.5,126.0 594.8,131.1 595.1,125.8 595.4,127.2 595.7,125.5 596.0,131.2 596.3,128.6 596.6,130.1 596.9,123.8 597.2,125.7 597.5,128.2 597.8,128.2 598.1,125.7 598.4,124.0 598.7,122.5 599.0,124.8 599.3,126.6 599.6,124.9 599.8,125.1 600.1,123.7 600.4,120.1 600.7,121.8 601.0,125.2 601.3,128.7 601.6,125.3 601.9,129.7 602.2,127.0 602.5,129.0 602.8,128.0 603.1,121.8 603.4,123.4 603.7,124.2 604.0,128.0 604.3,124.9 604.6,120.2 604.9,122.0 605.2,124.0 605.5,122.3 605.8,123.7 606.1,124.6 606.4,120.4 606.7,125.3 607.0,121.6 607.3,119.8 607.6,126.5 607.9,119.8 608.2,124.7 608.5,125.9 608.8,119.7 609.1,119.1 609.4,119.3 609.7,126.3 610.0,122.9 610.3,120.7 610.6,126.0 610.9,122.8 611.2,125.6 611.5,123.1 611.8,129.2 612.1,133.7 612.4,133.3 612.7,136.2 613.0,135.9 613.3,136.1 613.6,133.2 613.9,132.2 614.2,125.7 614.5,124.3 614.8,126.2 615.1,129.9 615.4,124.5 615.7,127.7 616.0,127.5 616.3,128.0 616.6,127.0 616.9,125.5 617.2,121.8 617.5,121.9 617.8,125.3 618.1,123.0 618.4,126.0 618.7,125.7 619.0,129.9 619.3,124.7 619.6,127.6 619.9,127.0 620.2,129.0 620.5,125.4 620.8,124.3 621.1,129.3 621.4,125.3 621.7,127.5 622.0,124.9 622.3,119.8 622.6,119.2 622.9,119.2 623.2,118.0 623.5,123.9 623.8,126.4 624.1,121.1 624.4,126.0 624.7,118.9 625.0,121.3 625.3,122.8 625.6,124.3 625.9,119.9 626.2,127.8 626.5,128.7 626.8,121.7 627.1,121.5 627.4,124.1 627.7,123.6 628.0,124.1 628.3,127.0 628.6,123.5 628.9,120.3 629.2,123.3 629.5,128.2 629.8,127.4 630.1,121.0 630.4,118.5 630.7,125.0 631.0,121.1 631.3,120.4 631.6,122.5 631.9,121.0 632.2,127.8 632.5,129.7 632.8,125.3 633.1,128.0 633.4,123.5 633.7,125.2 634.0,121.9 634.3,120.9 634.6,122.7 634.9,124.3 635.2,121.0 635.5,127.4 635.8,127.0 636.1,123.4 636.4,124.8 636.7,123.3 637.0,120.9 637.3,128.0 637.6,128.1 637.9,123.3 638.2,127.5 638.5,126.2 638.8,130.2 639.1,127.3 639.4,129.3 639.7,126.8 640.0,126.4 640.3,127.3 640.6,129.1 640.9,123.1 641.2,127.5 641.5,127.0 641.8,128.8 642.1,123.8 642.4,125.8 642.7,122.2 643.0,122.2 643.3,117.3 643.6,124.5 643.9,119.9 644.2,122.4 644.5,118.7 644.8,125.1 645.1,123.5 645.4,126.3 645.7,125.1 646.0,125.7 646.3,123.1 646.6,117.8 646.9,118.9 647.2,126.1 647.5,123.4 647.8,127.8 648.1,128.9 648.4,134.4 648.7,132.8 649.0,133.3 649.3,136.6 649.6,128.7 649.9,127.5 650.2,128.3 650.5,121.7 650.8,127.5 651.1,120.0 651.4,127.2 651.7,128.1 652.0,126.6 652.3,123.3 652.6,122.6 652.9,127.9 653.2,125.2 653.5,125.0 653.8,126.7 654.1,122.3 654.4,126.2 654.7,126.4 655.0,123.4 655.3,125.2 655.6,120.8 655.9,128.5 656.2,123.4 656.5,124.6 656.8,125.6 657.1,126.7 657.4,122.1 657.7,125.8 658.0,126.8 658.3,122.6 658.6,123.9 658.9,128.1 659.2,122.8 659.5,126.2 659.8,126.0 660.1,121.1 660.4,122.3 660.7,123.5 661.0,124.6 661.3,130.0 661.6,126.9 661.9,128.5 662.2,130.4 662.5,125.0 662.8,123.7 663.1,126.3 663.4,126.1 663.7,125.4 664.0,125.1 664.3,121.1 664.6,121.1 664.9,125.8 665.2,122.9 665.5,121.8 665.8,121.6 666.1,123.4 666.4,120.1 666.7,124.8 667.0,120.9 667.3,118.9 667.6,119.7 667.9,118.8 668.2,118.9 668.5,125.4 668.8,123.1 669.1,119.7 669.4,116.7 669.7,122.9 670.0,121.3 670.3,118.7 670.6,121.0 670.9,124.7 671.2,125.4 671.5,126.9 671.8,123.2 672.1,123.0 672.4,122.8 672.7,119.4 673.0,123.4 673.3,126.6 673.6,122.8 673.9,124.0 674.2,127.8 674.5,127.8 674.8,124.5 675.1,124.7 675.4,131.6 675.7,127.0 676.0,129.8 676.3,127.5 676.6,124.4 676.9,120.7 677.2,125.5 677.5,123.8 677.8,120.1 678.1,117.9 678.4,120.5 678.7,118.0 679.0,120.4 679.3,120.0 679.6,120.8 679.9,123.5 680.2,120.2 680.5,119.5 680.8,119.9 681.1,126.6 681.4,118.5 681.7,127.1 682.0,127.6 682.3,126.3 682.6,131.0 682.9,125.0 683.2,131.8 683.5,132.6 683.8,136.3 684.1,137.4 684.4,128.8 684.7,128.5 685.0,129.5 685.3,123.9 685.6,129.4 685.9,121.9 686.2,124.0 686.5,125.4 686.8,125.2 687.1,123.8 687.4,124.7 687.7,120.9 688.0,118.9 688.3,120.2 688.6,116.1 688.9,119.2 689.2,119.3 689.5,117.3 689.8,115.8 690.1,115.4 690.4,117.6 690.7,119.3 691.0,124.7 691.3,118.7 691.6,116.5 691.9,120.5 692.2,122.1 692.5,123.2 692.8,122.2 693.1,126.7 693.4,121.7 693.7,122.4 694.0,122.6 694.3,127.4 694.6,122.6 694.9,121.4 695.2,117.9 695.5,121.8 695.8,124.2 696.1,123.9 696.4,125.2 696.7,118.9 697.0,117.3 697.3,118.0 697.6,118.2 697.9,123.9 698.2,119.9 698.5,125.8 698.8,121.0 699.1,120.2 699.4,122.1 699.7,125.4 700.0,128.0 700.3,125.4 700.6,126.7 700.9,123.0 701.2,126.8 701.5,125.8 701.8,127.5 702.1,127.2 702.4,125.2 702.7,127.1 703.0,126.3 703.3,124.6 703.6,118.8 703.9,121.4 704.2,124.6 704.5,119.8 704.8,119.2 705.1,123.1 705.4,118.9 705.7,117.9 706.0,119.7 706.3,122.2 706.6,122.4 706.9,121.0 707.2,121.2 707.5,119.0 707.8,121.8 708.1,122.7 708.4,117.9 708.7,120.8 709.0,121.6 709.3,120.7 709.6,116.8 709.9,120.3 710.2,115.9 710.5,117.9 710.8,115.5 711.1,121.4 711.5,120.5 711.8,118.3 712.1,116.0 712.4,114.4 712.7,119.5 713.0,115.5 713.3,121.1 713.6,121.3 713.9,116.4 714.2,123.5 714.5,124.1 714.8,116.7 715.1,119.2 715.4,117.1 715.7,119.3 716.0,120.6 716.3,116.4 716.6,116.3 716.9,120.2 717.2,120.8 717.5,127.2 717.8,125.8 718.1,130.4 718.4,128.3 718.7,127.8 719.0,130.1 719.3,129.9 719.6,126.1 719.9,124.8 720.2,118.1 720.5,121.5 720.8,122.0 721.1,118.7 721.4,122.3 721.7,116.7 722.0,120.7 722.3,117.0 722.6,124.4 722.9,121.5 723.2,124.8 723.5,120.1 723.8,123.3 724.1,120.5 724.4,116.3 724.7,118.8 725.0,118.6 725.3,122.2 725.6,117.7 725.9,121.0 726.2,122.0 726.5,116.7 726.8,119.9 727.1,118.7 727.4,124.7 727.7,118.9 728.0,123.4 728.3,123.3 728.6,121.1 728.9,125.7 729.2,117.9 729.5,115.8 729.8,121.5 730.1,123.0 730.4,125.2 730.7,118.0 731.0,117.2 731.3,122.0 731.6,120.3 731.9,119.1 732.2,120.4 732.5,118.2 732.8,118.2 733.1,120.8 733.4,120.7 733.7,114.6 734.0,113.9 734.3,118.5 734.6,113.5 734.9,117.3 735.2,125.1 735.5,121.2 735.8,123.2 736.1,123.8 736.4,119.0 736.7,125.4 737.0,125.4 737.3,119.2 737.6,127.2 737.9,119.3 738.2,123.0 738.5,122.3 738.8,122.3 739.1,126.0 739.4,119.6 739.7,124.9 740.0,124.9 740.3,118.6 740.6,116.8 740.9,118.4 741.2,115.7 741.5,115.9 741.8,122.2 742.1,115.3 742.4,116.2 742.7,114.0 743.0,115.9 743.3,121.0 743.6,125.3 744.0,126.6 744.3,119.5 744.6,125.6 744.9,126.4 745.2,122.2 745.5,123.0 745.8,125.4 746.1,130.1 746.4,129.2 746.7,124.7 747.0,120.6 747.3,119.6 747.6,118.3 747.9,116.8 748.2,121.3 748.5,120.2 748.8,118.0 749.1,120.4 749.4,123.3 749.7,120.0 750.0,123.9 750.3,126.3 750.6,128.2 750.9,124.1 751.2,127.2 751.5,133.9 751.8,131.6 752.1,124.6 752.4,124.9 752.7,126.4 753.0,123.0 753.3,124.1 753.6,116.7 753.9,120.2 754.2,119.7 754.5,126.4 754.8,123.3 755.1,127.3 755.4,125.9 755.7,125.0 756.0,130.7 756.3,124.8 756.6,122.8 756.9,128.1 757.2,127.5 757.5,121.4 757.8,122.1 758.1,124.2 758.4,124.8 758.7,124.5 759.0,121.9 759.3,126.3 759.6,122.2 759.9,127.0 760.2,127.6 760.5,121.6 760.8,123.9 761.1,125.2 761.4,120.4 761.7,125.8 762.0,119.5 762.3,120.8 762.6,120.8 762.9,121.4 763.2,119.4 763.5,126.0 763.8,126.4 764.1,124.3 764.4,125.9 764.7,123.4 765.0,120.8 765.3,115.8 765.6,122.3 765.9,120.8 766.2,118.6 766.5,120.1 766.8,121.4 767.1,122.5 767.4,121.6 767.7,119.7 768.0,118.8 768.3,120.9 768.6,118.4 768.9,120.3 769.2,124.2 769.5,124.6 769.8,120.5 770.1,122.4 770.4,118.2 770.7,120.4 771.0,123.3 771.3,124.8 771.6,121.2 771.9,124.4 772.2,122.1 772.5,121.7 772.8,122.4 773.1,120.0 773.4,120.6 773.7,125.9 774.0,122.4 774.3,120.0 774.6,126.5 774.9,125.8 775.2,125.3 775.5,123.4 775.8,122.1 776.1,117.8 776.4,117.8 776.7,121.1 777.0,121.2 777.3,118.9 777.6,122.5 777.9,117.6 778.2,117.8 778.5,117.4 778.8,124.4 779.1,121.2 779.4,122.2 779.7,123.4 780.0,120.0 780.3,128.1 780.6,129.0 780.9,122.3 781.2,122.7 781.4,128.8 781.7,126.4 782.0,123.7 782.3,129.8 782.6,127.0 782.9,124.7 783.2,129.4 783.5,132.5 783.8,130.5 784.1,133.1 784.4,133.7 784.7,134.7 785.0,129.2 785.3,128.3 785.6,123.2 785.9,125.5 786.2,119.6 786.5,121.9 786.8,125.3 787.1,123.9 787.4,120.8 787.7,122.9 788.0,119.6 788.3,120.4 788.6,126.3 788.9,120.9 789.2,126.3 789.5,126.7 789.8,126.2 790.1,127.2 790.4,122.1 790.7,125.0 791.0,124.5 791.3,121.9 791.6,122.8 791.9,123.6 792.2,128.4 792.5,123.9 792.8,127.3 793.1,124.8 793.4,125.5 793.7,125.0 794.0,125.2 794.3,122.9 794.6,128.8 794.9,125.3 795.2,129.3 795.5,130.7 795.8,127.5 796.1,125.8 796.4,129.1 796.7,120.6 797.0,127.0 797.3,122.7 797.6,124.4 797.9,121.9 798.2,128.3 798.5,125.1 798.8,122.9 799.1,129.0 799.4,124.9 799.7,121.4 800.0,127.4 800.3,121.1 800.6,122.0 800.9,121.2 801.1,122.8 801.4,127.4 801.7,120.0 802.0,127.6 802.3,121.9 802.6,123.1 802.9,126.8 803.2,128.0 803.5,121.4 803.8,127.0 804.1,125.5 804.4,122.9 804.7,130.5 805.0,124.8 805.3,126.6 805.6,126.9 805.9,123.8 806.2,124.7 806.5,126.3 806.8,130.5 807.1,129.3 807.4,129.2 807.7,126.0 808.0,124.5 808.3,123.7 808.6,124.1 808.8,124.7 809.1,124.3 809.4,123.8 809.7,128.3 810.0,128.4 810.3,129.9 810.6,123.8 810.9,127.3 811.2,124.3 811.5,128.9 811.8,126.4 812.1,121.6 812.4,128.3 812.7,127.2 813.0,123.3 813.3,129.2 813.6,122.3 813.9,130.0 814.2,130.3 814.5,125.9 814.8,127.9 815.1,125.4 815.4,127.9 815.7,132.4 816.0,135.8 816.3,135.9 816.6,141.8 816.8,138.4 817.1,144.9 817.4,144.3 817.7,147.2 818.0,141.0 818.3,140.6 818.6,134.8 818.9,131.8 819.2,135.8 819.5,131.1 819.8,129.2 820.1,130.7 820.4,134.0 820.7,129.3 821.0,126.9 821.3,131.0 821.6,130.0 821.9,129.0 822.2,130.4 822.5,131.2 822.8,131.0 823.1,133.1 823.4,136.7 823.7,135.8 824.0,132.5 824.3,128.5 824.6,125.4 824.8,128.8 825.2,129.0 825.4,132.9 825.7,130.0 826.0,132.9 826.3,130.4 826.6,131.6 826.9,130.8 827.2,134.4 827.5,131.3 827.8,130.6 828.1,130.2 828.4,130.5 828.7,129.5 829.0,128.9 829.3,133.5 829.5,131.1 829.8,132.8 830.1,133.7 830.4,133.4 830.7,133.0 830.9,134.1 831.2,129.2 831.5,130.4 831.7,129.2 832.0,132.5 832.3,135.9 832.6,133.9 832.8,136.5 833.1,133.9 833.4,127.9 833.6,128.3 833.9,132.9 834.1,135.2 834.5,129.4 834.7,135.2 835.0,133.6 835.3,132.1 835.5,134.5 835.8,139.9 836.1,140.8 836.3,138.4 836.6,140.0 836.9,139.5 837.1,140.6 837.4,136.3 837.7,137.2 838.0,135.8 838.3,134.6 838.5,137.1 838.8,135.1 839.1,140.0 839.3,138.4 839.6,141.1 839.9,135.6 840.2,139.3 840.4,137.9 840.7,142.6 841.0,136.2 841.2,141.7 841.5,141.4 841.8,138.0 842.1,139.4 842.4,137.0 842.6,137.2 842.9,134.6 843.1,140.6 843.4,135.4 843.7,141.7 844.0,135.0 844.3,140.2 844.5,141.5 844.8,138.0 845.1,139.6 845.4,136.1 845.6,137.9 845.9,143.5 846.2,144.0 846.4,148.0 846.7,146.9 847.0,151.4 847.2,147.3 847.5,146.9 847.8,147.5 848.1,147.8 848.3,141.9 848.6,141.2 848.9,147.1 849.1,143.3 849.4,144.9 849.7,148.4 850.0,148.8 850.2,148.8 850.5,154.4 850.7,152.9 851.0,149.4 851.2,150.5 851.5,150.1 851.5,149.0 851.8,150.8 852.0,145.5 852.2,146.9 852.4,145.0 852.7,146.8 853.0,141.8 853.2,140.8 853.3,143.2 853.6,147.3 853.8,144.9 853.9,147.7 854.3,143.0 854.4,148.4 854.7,148.3 854.9,150.7 855.1,145.3 855.4,145.0 855.5,151.2 855.7,151.7 855.9,149.4 856.1,152.0 856.3,150.3 856.6,149.3 856.9,148.0 857.1,145.4 857.4,149.1 857.5,149.0 857.7,147.3 857.9,148.4 858.1,147.3 858.3,146.0 858.6,151.2 858.9,146.5 859.0,146.7 859.2,146.3 859.5,149.4 859.7,150.1 859.9,150.6 860.2,149.4 860.4,150.5 860.5,148.0 860.7,150.3 860.9,152.1 861.2,152.8 861.4,151.3 861.7,149.2 861.8,153.1 862.0,152.0 862.3,154.6 862.6,151.5 862.8,154.3 863.0,150.2 863.1,154.8 863.3,151.1 863.6,155.2 863.8,155.4 864.2,156.1 864.4,154.7 864.6,153.8 864.7,153.3 865.0,154.1 865.1,158.0 865.4,158.9 865.4,157.0 865.6,157.5 865.9,156.6 865.9,157.2 866.1,159.1 866.3,159.5 866.4,158.3 866.6,160.2 866.7,156.2 866.9,160.8 866.9,157.8 867.1,157.6 867.4,157.9 867.6,158.2 867.5,160.1 867.6,157.6 867.8,161.4 868.0,159.9 868.3,162.1 868.3,161.8 868.5,160.3 868.7,160.6 868.7,163.1 868.8,162.3 869.1,160.5 869.1,161.8 869.5,161.5 869.4,163.0 869.6,164.5 869.7,162.8 870.0,162.0 870.0,166.2 870.1,165.8 870.6,162.9 870.4,164.8 870.6,165.6 870.8,168.6 870.8,165.6 871.2,168.6 871.1,167.8 871.3,167.5 871.3,167.7 871.5,168.5 871.5,168.2 871.5,168.0 871.9,168.9 871.9,167.8 871.9,169.4 872.1,169.0 872.3,169.4 872.3,169.4 872.4,169.9 872.3,170.2 872.6,170.7 872.5,170.8 873.0,171.2 872.9,171.3 872.8,171.9 873.2,172.2 873.0,172.4 873.3,172.8 873.4,172.9 873.2,173.2 873.6,173.5 873.7,173.7 873.9,173.9 873.9,174.5 873.9,174.7 873.9,174.8 873.9,175.3 874.2,175.5 874.4,175.8 874.4,176.2 874.2,176.3 874.2,176.6 874.3,177.1 874.2,177.2 874.3,177.6 874.8,178.0 874.5,178.1 874.5,178.6 874.9,178.7 875.0,179.2 874.9,179.2 874.9,179.6 875.0,180.0 875.3,180.3 875.1,180.6 875.2,180.8 875.2,181.2 875.5,181.5 875.5,181.7 875.6,182.1 875.2,182.4 875.5,182.7 875.5,182.9 875.5,183.2 875.9,183.5 875.8,183.9 876.0,184.1 875.7,184.5 875.6,184.8 875.8,185.0 875.8,185.5 875.9,185.8 876.2,186.0 876.0,186.3 876.2,186.5 876.5,186.8 876.3,187.1 876.4,187.5 876.2,187.6 876.4,187.9 876.6,188.3 876.6,188.6 876.7,188.9 876.5,189.2 876.9,189.6 877.0,189.8 876.9,190.1 877.0,190.4 877.1,190.6 876.9,191.0 876.8,191.3 877.3,191.6 877.0,191.9 876.8,192.2 876.9,192.5 877.1,192.7 877.2,193.0 877.3,193.4 877.2,193.7 877.5,194.0 877.6,194.4 877.3,194.5 877.6,194.8 877.6,195.1 877.4,195.5 877.8,195.7 877.5,196.1 877.7,196.4 877.4,196.6 877.5,197.0 877.7,197.3 877.8,197.7 878.0,198.0 878.1,198.2 877.6,198.4 877.7,198.8 877.9,199.1 878.2,199.4 878.0,199.6 877.9,199.9 877.9,200.2 878.3,200.6 878.2,200.9 878.3,201.2 878.6,201.4 878.4,201.8 878.2,202.0 878.3,202.3 878.6,202.6 878.2,202.9 878.8,203.3 878.8,203.6 878.4,203.9 879.0,204.2 878.7,204.4 878.6,204.8 878.9,205.2 878.9,205.5 879.0,205.7 879.1,206.1 879.1,206.3 878.7,206.7 878.9,206.9 879.1,207.3 879.0,207.5 879.1,207.8 879.0,208.1 879.2,208.4 879.0,208.7 879.3,209.0 879.6,209.3 879.3,209.5 879.6,209.9 879.2,210.3 879.7,210.4 879.4,210.9 879.7,211.0 879.6,211.4 879.8,211.7 879.7,212.0 879.7,212.3 879.6,212.6 879.8,213.0 880.1,213.2 879.9,213.6 880.0,213.9 880.3,214.2 880.1,214.4 880.1,214.8 880.3,215.1 880.0,215.3 880.4,215.6 880.3,215.9 880.2,216.1 880.6,216.4 880.6,216.8 880.2,217.1 880.5,217.5 880.5,217.7 880.2,217.9 880.5,218.4 880.7,218.6 880.8,218.9 880.9,219.2 880.7,219.5 880.6,219.8 880.9,220.0 880.7,220.5 880.7,220.6 880.7,221.0 881.0,221.2 880.8,221.7 881.3,222.0 881.2,222.2 881.3,222.5 881.3,222.8 881.0,223.2 881.0,223.4 881.4,223.6 881.2,224.0 881.4,224.3 881.4,224.6 881.5,224.9 881.3,225.2 881.7,225.5 881.8,225.8 881.4,226.2 881.4,226.4 881.4,226.7 881.6,227.0 881.5,227.3 881.9,227.6 881.5,227.9 881.9,228.2 881.8,228.6 881.6,228.8 881.9,229.2 881.5,229.4 882.1,229.7 881.9,230.0 882.1,230.3 881.7,230.6 882.0,230.9 881.7,231.2 881.7,231.5 881.8,231.8 882.0,232.2 882.2,232.5 882.2,232.8 881.9,233.1 882.3,233.3 882.1,233.6 882.0,233.9 881.9,234.3 882.1,234.6 882.3,234.8 882.2,235.2 882.2,235.5 882.6,235.8 882.5,236.1 882.2,236.4 882.5,236.7 882.4,237.0 882.3,237.3 882.7,237.6 882.4,237.9 882.8,238.2 882.3,238.5 882.4,238.8 882.6,239.1 882.8,239.4 882.4,239.8 882.6,240.0 882.6,240.3 882.4,240.6 882.6,240.9 882.4,241.2 882.5,241.5 882.8,241.8 882.9,242.1 882.7,242.4 882.7,242.7 882.6,243.0 882.7,243.3 882.5,243.6 882.4,243.9 882.9,244.2 882.6,244.5 882.8,244.8 882.7,245.1 882.6,245.4 882.7,245.7 882.5,246.0 882.5,246.3 882.7,246.6 883.0,246.9 882.6,247.2 882.9,247.5 882.6,247.8 882.7,248.1 882.5,248.4 882.7,248.7 883.1,249.0 882.9,249.3 882.7,249.6 882.5,249.9 882.5,250.2 882.9,250.5 882.6,250.8 882.6,251.1 882.6,251.4 882.9,251.7 882.5,252.0 882.7,252.3 882.6,252.6 882.7,252.9 882.6,253.2 883.0,253.5 882.8,253.8 883.0,254.1 882.5,254.4 882.8,254.7 882.6,255.0 882.8,255.3 883.1,255.6 882.5,255.9 882.6,256.2 882.9,256.5 882.9,256.8 882.6,257.1 882.8,257.4 882.7,257.7 882.7,258.0 883.1,258.3 882.8,258.6 883.1,258.9 882.9,259.2 882.7,259.5 883.0,259.8 882.5,260.1 883.1,260.4 882.5,260.7 883.1,261.0 882.5,261.3 882.6,261.6 882.7,261.9 883.1,262.2 882.8,262.5 883.1,262.8 882.7,263.1 883.0,263.4 882.8,263.7 883.0,264.0 882.9,264.3 883.0,264.6 882.6,264.9 882.6,265.2 882.6,265.5 883.1,265.8 882.9,266.1 882.6,266.4 882.8,266.7 883.0,267.0 882.9,267.3 883.0,267.6 883.0,267.9 883.1,268.2 882.8,268.5 882.7,268.8 883.2,269.1 883.1,269.4 882.7,269.7 883.0,270.0 882.9,270.3 883.0,270.6 883.1,270.9 882.9,271.2 883.1,271.5 882.8,271.8 883.0,272.1 882.8,272.4 883.2,272.7 882.6,273.0 882.8,273.3 882.9,273.6 882.7,273.9 882.8,274.2 882.8,274.5 882.9,274.8 882.7,275.1 882.7,275.4 882.6,275.7 882.8,276.0 882.6,276.3 883.0,276.6 883.0,276.9 883.0,277.2 883.0,277.5 883.1,277.8 883.2,278.1 883.2,278.4 883.2,278.7 882.7,279.0 883.0,279.3 883.1,279.6 883.1,279.9 883.0,280.2 882.8,280.5 883.3,280.8 882.6,281.1 882.6,281.4 883.0,281.7 882.9,282.0 883.1,282.3 882.7,282.6 883.2,282.9 883.2,283.2 883.1,283.5 883.2,283.8 882.9,284.1 882.8,284.4 883.1,284.7 882.9,285.0 882.7,285.3 883.0,285.6 883.2,285.9 882.9,286.2 882.7,286.5 883.2,286.8 883.3,287.1 883.0,287.4 882.9,287.7 882.8,288.0 882.8,288.3 883.3,288.6 882.7,288.9 882.8,289.2 883.1,289.5 882.9,289.8 883.2,290.1 883.2,290.4 882.7,290.7 883.0,291.0 882.7,291.3 883.3,291.6 883.3,291.9 882.9,292.2 882.7,292.5 883.1,292.8 883.3,293.1 883.2,293.4 882.8,293.7 883.1,294.0 883.2,294.3 883.1,294.6 883.1,294.9 882.9,295.2 882.8,295.5 883.3,295.8 882.9,296.1 882.9,296.4 882.8,296.7 883.3,297.0 882.8,297.3 882.9,297.6 882.8,297.9 883.3,298.2 882.9,298.5 883.0,298.8 883.2,299.1 882.8,299.4 883.1,299.7 883.3,300.0 883.3,300.3 883.3,300.6 882.9,300.9 882.9,301.2 882.8,301.5 883.3,301.8 882.7,302.1 882.7,302.4 882.8,302.8 883.0,303.0 883.3,303.3 883.1,303.7 883.1,303.9 882.8,304.3 883.2,304.5 883.3,304.9 882.8,305.2 883.3,305.5 883.0,305.7 882.9,306.1 883.3,306.4 882.8,306.7 883.0,306.9 883.2,307.3 883.1,307.6 883.1,307.9 883.0,308.2 883.0,308.5 883.4,308.8 882.9,309.1 883.3,309.4 882.9,309.7 882.8,309.9 883.3,310.2 883.1,310.6 883.2,310.8 883.1,311.1 883.3,311.5 883.4,311.7 883.1,312.1 883.4,312.4 883.4,312.7 883.1,312.9 883.4,313.3 882.8,313.6 883.1,313.8 883.1,314.2 882.9,314.5 882.9,314.8 883.2,315.1 882.8,315.4 883.4,315.7 883.5,316.0 882.9,316.3 882.9,316.6 883.4,316.9 883.4,317.2 883.2,317.5 883.2,317.8 883.3,318.1 883.0,318.4 883.3,318.7 883.0,319.0 883.1,319.3 883.4,319.6 883.1,319.9 883.2,320.2 883.1,320.5 883.1,320.8 882.8,321.1 883.3,321.4 883.5,321.7 883.4,322.0 883.1,322.3 883.0,322.6 883.3,322.9 883.2,323.2 883.2,323.5 883.1,323.8 883.4,324.1 883.2,324.4 882.9,324.7 883.1,325.0 883.3,325.3 883.5,325.6 883.1,325.9 883.3,326.2 883.1,326.5 883.2,326.8 883.5,327.1 883.2,327.4 883.1,327.7 883.2,328.0 883.2,328.3 883.3,328.6 883.5,328.9 883.5,329.2 883.0,329.5 883.3,329.8 883.5,330.1 883.4,330.4 882.9,330.7 882.9,331.0 883.3,331.3 883.5,331.6 883.5,331.9 883.4,332.2 883.4,332.5 883.2,332.8 883.2,333.1 883.1,333.4 883.6,333.7 883.1,334.0 883.0,334.3 883.3,334.6 883.6,334.9 883.3,335.2 883.3,335.5 883.3,335.8 883.4,336.1 883.0,336.4 882.9,336.7 883.2,337.0 883.0,337.3 883.3,337.6 883.5,337.9 883.3,338.2 883.0,338.5 883.1,338.8 883.1,339.1 883.5,339.4 883.4,339.7 883.0,340.0 883.0,340.3 883.5,340.6 883.3,340.9 883.0,341.2 883.2,341.5 883.1,341.8 883.4,342.1 883.5,342.4 883.6,342.7 883.4,343.0 883.2,343.3 883.3,343.6 883.5,343.9 883.6,344.2 883.2,344.5 883.6,344.8 883.4,345.1 883.2,345.4 883.4,345.7 883.7,346.0 883.6,346.3 883.6,346.6 883.5,346.9 883.4,347.2 883.2,347.5 883.4,347.8 883.4,348.1 883.3,348.4 883.7,348.7 883.1,349.0 883.1,349.3 883.5,349.6 883.0,349.9 883.4,350.2 883.1,350.5 883.3,350.8 883.6,351.1 883.3,351.4 883.2,351.7 883.4,352.0 883.3,352.3 883.3,352.6 883.0,352.9 883.6,353.2 883.1,353.5 883.5,353.8 883.3,354.1 883.2,354.4 883.2,354.7 883.2,355.0 883.1,355.3 883.5,355.6 883.6,355.9 883.3,356.2 883.3,356.5 883.3,356.8 883.5,357.1 883.7,357.4 883.7,357.7 883.6,358.0 883.6,358.3 883.2,358.6 883.3,358.9 883.3,359.2 883.6,359.5 883.7,359.8 883.4,360.1 883.2,360.4 883.3,360.7 883.7,361.0 883.5,361.3 883.2,361.6 883.6,361.9 883.1,362.2 883.1,362.5 883.3,362.8 883.7,363.1 883.6,363.4 883.5,363.7 883.1,364.0 883.6,364.3 883.5,364.6 883.6,364.9 883.2,365.2 883.6,365.5 883.3,365.8 883.2,366.1 883.6,366.4 883.1,366.7 883.6,367.0 883.8,367.3 883.3,367.6 883.5,367.9 883.2,368.2 883.6,368.5 883.5,368.8 883.5,369.1 883.5,369.4 883.7,369.7 883.4,370.0 883.3,370.3 883.5,370.6 883.2,370.9 883.6,371.2 883.3,371.5 883.5,371.8 883.7,372.1 883.7,372.4 883.7,372.7 883.1,373.0 883.7,373.3 883.6,373.6 883.3,373.9 883.4,374.2 883.8,374.5 883.8,374.8 883.5,375.1 883.7,375.4 883.2,375.7 883.5,376.0 883.2,376.3 883.3,376.6 883.3,376.9 883.2,377.2 883.7,377.5 883.2,377.8 883.6,378.1 883.3,378.4 883.7,378.7 883.3,379.0 883.3,379.3 883.6,379.6 883.6,379.9 883.6,380.2 883.7,380.5 883.7,380.8 883.8,381.1 883.6,381.4 883.2,381.7 883.5,382.0 883.5,382.3 883.6,382.6 883.8,382.9 883.7,383.2 883.8,383.5 883.3,383.8 883.9,384.1 883.5,384.4 883.7,384.7 883.9,385.0 883.8,385.4 883.7,385.6 883.9,385.9 883.7,386.2 883.6,386.5 883.7,386.8 883.7,387.1 883.6,387.4 883.9,387.7 883.6,388.0 883.9,388.3 883.7,388.6 883.6,388.9 884.0,389.2 883.6,389.6 883.5,389.9 883.7,390.2 883.6,390.5 883.6,390.8 883.6,391.1 883.8,391.4 883.9,391.7 884.0,392.0 883.8,392.3 883.8,392.6 883.8,392.9 883.9,393.2 883.9,393.5 883.6,393.8 884.1,394.1 883.8,394.4 884.0,394.7 884.0,395.0 884.0,395.3 884.0,395.6 884.1,395.9 883.9,396.2 884.1,396.5 883.8,396.8 883.7,397.1 884.1,397.4 884.2,397.7 883.6,398.0 884.2,398.3 883.8,398.6 883.7,398.9 883.6,399.2 884.1,399.5 883.9,399.8 883.8,400.1 883.8,400.4 884.2,400.7 883.8,401.0 884.1,401.3 884.0,401.6 883.9,401.9 883.7,402.2 883.8,402.5 884.0,402.8 883.9,403.1 884.2,403.4 883.8,403.7 883.8,404.0 883.9,404.3 883.9,404.6 884.3,404.9 883.8,405.2 883.8,405.5 884.1,405.8 883.8,406.1 884.2,406.4 884.2,406.7 883.9,407.0 884.2,407.4 884.4,407.7 883.8,408.0 884.2,408.3 883.8,408.6 884.3,408.9 884.1,409.1 884.1,409.4 884.0,409.8 884.2,410.1 883.8,410.3 883.8,410.7 884.1,410.9 884.1,411.3 883.8,411.6 884.1,411.9 883.8,412.2 884.5,412.5 884.1,412.8 884.3,413.1 883.9,413.4 884.0,413.7 884.3,414.0 884.1,414.3 884.2,414.6 884.4,414.9 884.2,415.2 884.5,415.5 884.1,415.8 884.3,416.1 884.0,416.4 884.0,416.7 884.2,417.0 884.4,417.3 884.3,417.6 884.0,417.9 884.3,418.2 884.6,418.5 884.6,418.8 884.0,419.1 884.2,419.4 884.2,419.7 884.2,420.0 884.4,420.3 884.6,420.6 884.1,420.9 884.5,421.2 884.7,421.5 884.7,421.8 884.4,422.1 884.2,422.4 884.6,422.7 884.6,423.0 884.2,423.3 884.3,423.6 884.7,423.9 884.6,424.2 884.2,424.5 884.8,424.8 884.5,425.1 884.6,425.4 884.6,425.7 884.3,426.0 884.5,426.3 884.5,426.6 884.7,426.9 884.8,427.2 884.7,427.5 884.6,427.8 884.5,428.1 884.7,428.4 885.0,428.7 884.3,429.0 884.7,429.3 884.6,429.6 884.5,429.9 884.6,430.2 884.4,430.5 884.4,430.8 884.8,431.1 884.7,431.4 884.8,431.7 885.1,432.0 884.7,432.3 884.6,432.8 884.9,433.0 884.6,433.3 884.3,433.6 884.2,433.9 884.4,434.1 884.3,434.4 884.3,434.5 884.4,435.0 884.4,435.2 884.1,435.6 884.2,435.9 884.3,436.2 884.0,436.5 884.3,436.7 883.9,437.0 883.6,437.4 884.0,437.6 883.6,438.0 883.6,438.2 883.8,438.6 883.6,438.8 883.6,439.1 883.7,439.5 883.6,439.7 883.7,440.0 883.4,440.3 883.3,440.5 883.2,440.8 883.2,441.3 883.1,441.5 883.1,441.7 883.0,442.1 883.2,442.4 883.0,442.7 882.9,442.9 882.8,443.3 883.1,443.6 882.6,443.9 882.7,444.3 882.7,444.5 882.8,444.9 882.9,445.1 882.4,445.5 882.6,445.7 882.5,445.4 882.4,445.9 882.5,445.3 882.8,445.0 883.1,445.2 883.3,444.5 883.2,444.5 883.4,443.9 883.5,443.9 883.6,443.7 883.5,443.0 884.0,442.6 883.7,442.2 883.8,442.2 884.2,441.8 884.3,441.7 884.4,441.2 884.4,440.9 884.8,440.7 885.0,440.4 885.3,439.8 885.6,440.0 885.8,439.3 885.7,440.3 885.7,440.6 885.7,440.9 886.1,441.2 885.5,441.5 885.7,441.8 886.2,442.1 885.7,442.4 885.9,442.7 886.0,443.0 886.1,443.3 886.0,443.6 885.8,443.9 886.0,444.2 885.7,444.5 886.0,444.8 886.1,445.1 886.1,445.4 886.0,445.7 886.0,446.0 886.1,446.3 886.2,446.6 885.7,446.9 885.7,447.2 886.2,447.5 885.7,447.8 885.8,448.1 885.8,448.4 886.1,448.7 886.1,449.0 885.6,449.3 885.8,449.6 885.7,449.9 886.1,450.2 885.8,450.5 886.2,450.8 886.1,451.1 886.2,451.4 885.8,451.7 885.8,452.0 885.7,452.3 885.7,452.6 886.3,452.9 886.3,453.2 886.2,453.5 886.0,453.8 886.0,454.1 885.8,454.4 885.7,454.7 885.9,455.0 886.0,455.3 885.8,455.6 886.2,455.9 885.7,456.2 885.8,456.5 885.8,456.8 886.3,457.1 886.3,457.4 885.8,457.7 886.0,458.0 885.9,458.3 886.3,458.6 886.2,458.9 885.7,459.2 886.0,459.5 885.7,459.8 886.1,460.1 885.9,460.4 886.4,460.7 886.3,461.0 886.0,461.3 886.3,461.6 886.4,461.9 886.4,462.2 886.0,462.5 886.0,462.8 886.1,463.1 886.0,463.4 885.9,463.7 886.4,464.0 886.2,464.3 886.0,464.6 885.8,464.9 886.4,465.2 885.9,465.5 886.1,465.8 886.5,466.1 885.9,466.4 886.1,466.7 886.0,467.0 886.0,467.3 886.2,467.6 886.4,467.9 885.9,468.2 886.1,468.5 886.5,468.8 886.2,469.1 885.9,469.4 886.1,469.7 886.5,470.0 886.3,470.3 886.5,470.6 885.9,470.9 886.0,471.2 886.5,471.5 886.0,471.8 886.0,472.1 886.2,472.4 886.4,472.7 885.9,473.0 886.2,473.3 886.1,473.6 886.3,473.9 886.5,474.2 886.1,474.5 885.9,474.8 886.0,475.1 886.5,475.4 886.2,475.7 886.1,476.0 886.0,476.3 886.5,476.6 886.2,476.9 886.5,477.2 886.1,477.5 886.4,477.8 886.5,478.1 886.5,478.4 886.7,478.7 886.0,479.0 886.4,479.3 886.2,479.6 886.6,479.9 886.1,480.2 886.2,480.5 886.1,480.8 886.6,481.1 886.6,481.4 886.4,481.7 886.4,482.0 886.7,482.3 886.4,482.6 886.2,482.9 886.2,483.2 886.2,483.5 886.1,483.8 886.4,484.1 886.2,484.4 886.3,484.7 886.3,485.0 886.5,485.3 886.5,485.6 886.4,485.9 886.6,486.2 886.5,486.5 886.4,486.8 886.7,487.1 886.6,487.4 886.2,487.7 886.5,488.0 886.2,488.3 886.4,488.6 886.4,488.9 886.1,489.2 886.3,489.5 886.7,489.8 886.3,490.1 886.3,490.4 886.2,490.7 886.4,491.0 886.2,491.3 886.8,491.6 886.7,491.9 886.5,492.2 886.7,492.5 886.2,492.8 886.3,493.1 886.7,493.4 886.5,493.7 886.2,494.0 886.4,494.3 886.8,494.6 886.6,494.9 886.5,495.2 886.4,495.5 886.9,495.8 886.5,496.1 886.2,496.4 886.7,496.7 886.7,497.0 886.3,497.3 886.6,497.6 886.5,497.9 886.4,498.2 886.8,498.5 886.3,498.8 886.8,499.1 886.5,499.4 886.4,499.7 886.8,500.0 886.6,500.3 886.5,500.6 886.9,500.9 886.6,501.2 886.4,501.5 886.6,501.8 886.4,502.1 886.4,502.4 886.9,502.7 886.5,503.0 886.8,503.3 886.3,503.6 886.7,503.9 886.3,504.2 886.4,504.5 886.5,504.8 886.3,505.1 886.6,505.4 886.3,505.7 886.8,506.0 886.3,506.3 886.6,506.6 886.8,506.9 886.7,507.2 886.7,507.5 886.9,507.8 886.9,508.1 886.8,508.4 886.5,508.8 886.9,509.1 886.6,509.4 887.0,509.7 886.6,510.0 887.0,510.3 886.7,510.6 887.0,510.9 886.9,511.2 886.9,511.5 886.4,511.8 887.0,512.1 886.6,512.4 886.6,512.7 886.6,513.0 887.0,513.3 887.1,513.6 886.4,513.9 886.9,514.2 887.0,514.5 887.0,514.8 886.4,515.1 886.7,515.4 886.8,515.7 886.6,516.0 886.5,516.3 886.8,516.6 886.5,516.9 886.6,517.2 886.5,517.5 886.9,517.8 886.5,518.1 887.1,518.4 886.7,518.7 887.0,519.0 886.6,519.3 886.5,519.6 887.0,519.9 886.9,520.2 887.2,520.5 886.6,520.8 887.1,521.1 886.7,521.4 886.9,521.7 886.6,522.0 887.2,522.3 886.9,522.6 886.8,522.9 886.9,523.2 887.1,523.5 887.0,523.8 886.9,524.1 887.0,524.4 886.6,524.7 886.8,525.0 886.8,525.3 886.8,525.6 887.2,525.9 886.9,526.3 887.2,526.5 886.8,526.9 886.9,527.2 887.2,527.5 887.2,527.8 887.0,528.1 886.8,528.4 887.1,528.7 887.1,529.0 887.0,529.3 887.1,529.6 887.1,529.9 886.7,530.2 886.8,530.5 886.6,530.8 887.3,531.1 886.7,531.4 887.1,531.7 887.0,532.0 887.3,532.3 886.8,532.6 887.3,532.9 886.7,533.2 886.7,533.5 887.0,533.8 886.8,534.1 886.9,534.4 887.0,534.7 887.1,534.9 887.2,535.2 887.4,535.5 887.2,536.0 887.7,536.3 887.6,536.1 887.7,536.4 887.8,537.2 888.0,538.2 888.6,536.9 889.2,536.1 889.8,537.6 890.4,541.0 891.0,541.6 891.6,537.7 892.2,535.9 892.8,537.5 893.4,539.2 894.0,543.7 894.6,541.3 895.2,535.4 895.8,538.9 896.4,539.2 897.0,537.8 897.6,535.6 898.2,532.3 898.8,536.4 899.4,537.5 900.0,537.7 900.6,538.6 901.2,537.8 901.8,540.8 902.4,538.8 903.0,535.3 903.6,538.8 904.2,540.2 904.8,537.9 905.4,539.4 906.0,538.0 906.6,536.3 907.2,535.8 907.8,533.5 908.4,536.9 909.0,541.4"/>
<polyline fill="none" stroke="#00f" stroke-width="2.1" stroke-linejoin="round" points="126.1,612.0 126.1,611.7 126.3,611.4 126.2,611.1 126.1,610.8 126.3,610.5 126.4,610.2 126.3,609.9 126.4,609.6 126.3,609.3 126.0,609.0 126.3,608.7 126.0,608.4 126.6,608.1 126.5,607.8 126.1,607.5 126.3,607.2 126.3,606.9 126.4,606.6 126.6,606.3 126.4,606.0 126.6,605.7 126.2,605.4 126.2,605.1 126.4,604.8 126.3,604.5 126.2,604.2 126.6,603.9 126.1,603.5 126.4,603.2 126.4,602.9 126.8,602.6 126.5,602.3 126.5,602.0 126.6,601.7 126.3,601.4 126.8,601.1 126.4,600.8 126.9,600.5 126.7,600.2 126.3,599.9 126.7,599.6 126.8,599.3 126.6,599.0 126.7,598.7 126.8,598.4 127.0,598.1 126.4,597.8 126.7,597.5 126.5,597.2 126.8,596.9 126.8,596.6 126.8,596.3 126.9,596.0 126.4,595.7 126.6,595.4 127.0,595.1 127.0,594.8 126.5,594.5 126.6,594.2 126.6,593.9 126.4,593.6 126.5,593.3 126.7,593.0 126.7,592.7 127.1,592.4 126.9,592.1 126.8,591.8 126.9,591.5 126.9,591.2 127.0,590.9 127.1,590.6 127.2,590.3 126.7,590.0 126.7,589.7 127.2,589.4 126.6,589.0 126.7,588.8 127.3,588.4 126.9,588.1 126.8,587.8 126.7,587.5 126.9,587.2 126.9,586.9 126.9,586.6 126.7,586.3 126.9,586.0 127.0,585.7 127.3,585.4 127.2,585.1 127.4,584.8 127.1,584.5 127.3,584.2 127.3,583.9 127.0,583.6 127.2,583.3 127.3,583.0 127.3,582.7 126.8,582.4 127.1,582.1 126.8,581.8 127.3,581.5 127.5,581.2 127.5,580.9 127.4,580.6 127.4,580.3 127.4,580.0 127.2,579.7 127.3,579.4 127.3,579.1 127.2,578.8 127.1,578.5 127.6,578.2 127.5,577.9 127.0,577.6 127.1,577.3 127.6,577.0 127.2,576.7 127.5,576.4 127.3,576.1 127.2,575.8 127.2,575.5 127.0,575.2 127.6,574.9 127.2,574.6 127.2,574.3 127.7,574.0 127.4,573.7 127.7,573.4 127.4,573.1 127.2,572.8 127.6,572.5 127.3,572.2 127.7,571.9 127.3,571.6 127.3,571.3 127.4,571.0 127.5,570.7 127.5,570.4 127.4,570.1 127.6,569.8 127.3,569.5 127.8,569.2 127.4,568.9 127.6,568.6 127.8,568.3 127.4,568.0 127.3,567.7 127.2,567.3 127.9,567.0 127.4,566.8 127.7,566.5 127.8,566.2 127.3,565.9 127.3,565.6 127.7,565.3 127.6,565.0 127.5,564.7 127.3,564.4 127.9,564.1 127.7,563.8 127.6,563.5 127.9,563.2 127.9,562.9 127.6,562.6 127.6,562.3 127.6,562.0 127.7,561.7 127.6,561.3 127.6,561.0 127.5,560.8 127.6,560.5 128.0,560.1 127.5,559.9 127.9,559.5 127.9,559.2 128.1,559.0 127.5,558.7 128.0,558.3 127.6,558.1 127.9,557.8 128.0,557.5 127.5,557.2 127.6,556.8 127.6,556.5 127.6,556.2 127.9,555.9 127.7,555.6 128.0,555.3 127.6,555.0 127.6,554.7 127.7,554.4 128.2,554.1 128.2,553.8 127.7,553.6 127.9,553.2 128.0,552.9 127.8,552.6 127.9,552.3 128.0,552.0 128.1,551.7 128.0,551.4 127.8,551.1 128.0,550.8 128.3,550.5 127.9,550.2 127.9,549.9 127.8,549.6 128.1,549.3 127.8,549.0 128.3,548.7 128.3,548.4 128.2,548.1 127.9,547.8 127.9,547.5 128.4,547.2 127.8,546.9 128.0,546.6 128.3,546.3 128.1,546.0 128.3,545.7 128.0,545.4 128.4,545.1 128.0,544.8 128.0,544.5 127.9,544.2 127.9,543.9 128.1,543.6 127.9,543.3 128.4,543.0 128.6,542.7 128.2,542.4 128.4,542.1 128.4,541.8 128.0,541.5 128.0,541.2 128.3,540.9 128.0,540.6 128.5,540.3 128.5,540.0 128.6,539.7 128.1,539.4 128.4,539.1 128.6,538.8 128.5,538.5 128.1,538.2 128.2,537.9 128.2,537.6 128.5,537.3 128.6,537.0 128.3,536.7 128.3,536.4 128.7,536.1 128.7,535.8 128.7,535.5 128.4,535.2 128.5,534.9 128.2,534.6 128.7,534.3 128.4,534.0 128.2,533.7 128.5,533.4 128.5,533.1 128.2,532.8 128.3,532.5 128.8,532.2 128.5,531.9 128.4,531.6 128.4,531.3 128.7,531.0 128.7,530.7 128.3,530.4 128.3,530.1 128.5,529.8 128.6,529.5 128.5,529.2 128.9,528.9 128.4,528.6 128.6,528.3 128.8,528.0 128.3,527.6 128.7,527.4 128.7,527.1 128.5,526.8 128.8,526.5 128.5,526.2 129.0,525.9 128.9,525.5 128.6,525.3 128.9,525.0 129.0,524.7 128.5,524.4 128.9,524.1 128.8,523.8 129.1,523.5 129.0,523.2 129.1,522.8 128.6,522.6 128.7,522.2 129.0,522.0 129.0,521.6 128.7,521.3 128.7,521.0 128.6,520.7 128.7,520.4 128.8,520.2 128.8,519.8 128.6,519.6 128.8,519.2 129.0,519.0 128.7,518.7 129.0,518.4 129.3,518.0 129.1,517.7 129.1,517.4 129.3,517.1 129.2,516.8 128.9,516.5 128.8,516.2 129.3,515.9 128.9,515.6 129.0,515.3 128.9,515.0 129.0,514.7 129.3,514.4 129.1,514.1 129.4,513.8 129.1,513.5 129.1,513.2 129.3,512.9 128.9,512.6 129.4,512.3 129.3,512.0 129.5,511.7 129.0,511.4 128.9,511.1 129.1,510.8 128.9,510.5 129.2,510.2 128.9,509.9 129.2,509.6 128.9,509.3 129.3,509.0 129.3,508.7 129.4,508.4 129.4,508.1 129.5,507.8 129.5,507.5 129.6,507.2 129.2,506.9 129.4,506.6 129.2,506.3 129.5,506.0 129.0,505.7 129.4,505.4 129.2,505.1 129.2,504.8 129.6,504.5 129.4,504.2 129.1,503.9 129.2,503.6 129.6,503.3 129.7,503.0 129.4,502.7 129.7,502.4 129.7,502.1 129.7,501.8 129.8,501.5 129.5,501.2 129.3,500.9 129.4,500.6 129.7,500.3 129.5,500.0 129.5,499.7 129.5,499.4 129.8,499.1 129.3,498.8 129.7,498.5 129.4,498.2 129.6,497.9 129.8,497.6 129.8,497.3 129.7,497.0 129.4,496.7 129.7,496.4 129.8,496.1 129.9,495.8 129.4,495.5 129.5,495.2 129.5,494.9 129.6,494.6 129.6,494.3 129.7,494.0 129.8,493.7 129.7,493.4 129.6,493.1 129.8,492.8 130.2,492.5 129.7,492.2 129.6,491.9 130.0,491.6 129.6,491.3 129.8,491.0 129.8,490.7 130.3,490.4 129.9,490.0 129.7,489.8 129.8,489.5 130.0,489.1 130.3,488.9 130.3,488.5 130.3,488.3 130.2,488.0 130.1,487.7 129.9,487.4 130.4,487.1 130.0,486.8 130.0,486.4 130.3,486.2 130.2,485.8 129.9,485.6 130.2,485.2 130.3,485.0 129.9,484.7 130.3,484.4 130.4,484.1 130.0,483.7 130.6,483.4 130.3,483.1 130.1,482.9 130.0,482.5 130.0,482.3 130.7,482.0 130.3,481.6 130.5,481.4 130.7,481.1 130.3,480.7 130.3,480.4 130.3,480.2 130.4,479.8 130.8,479.6 130.6,479.3 130.6,479.0 130.7,478.6 130.7,478.3 130.5,478.1 130.4,477.7 130.4,477.4 130.5,477.1 130.6,476.8 130.5,476.6 130.4,476.2 131.0,475.9 131.0,475.6 130.3,475.4 130.5,475.1 130.6,474.8 130.7,474.5 131.0,474.1 130.4,473.8 130.6,473.5 130.7,473.3 130.8,472.9 131.0,472.6 130.7,472.3 130.6,472.0 130.5,471.7 131.0,471.4 131.1,471.2 130.9,470.8 130.8,470.6 130.6,470.3 131.1,469.9 131.1,469.7 130.7,469.4 130.9,469.0 130.9,468.7 131.0,468.5 131.2,468.2 131.3,467.9 131.2,467.6 131.2,467.2 131.1,467.0 131.0,466.7 130.9,466.3 131.3,466.0 131.4,465.7 131.1,465.4 131.1,465.1 131.4,464.8 131.1,464.5 131.1,464.2 131.1,463.9 130.9,463.6 131.3,463.3 131.0,463.0 131.2,462.7 131.5,462.4 131.0,462.1 131.3,461.8 131.1,461.5 131.5,461.2 131.2,460.9 131.6,460.6 131.1,460.3 131.4,460.0 131.7,459.7 131.5,459.4 131.7,459.1 131.2,458.8 131.2,458.5 131.4,458.2 131.6,457.9 131.8,457.6 131.6,457.3 131.7,457.0 131.6,456.7 131.8,456.4 131.3,456.1 131.4,455.8 131.4,455.5 131.5,455.2 131.6,454.9 131.6,454.6 132.0,454.3 131.6,454.0 131.4,453.7 131.7,453.4 131.9,453.1 131.9,452.8 131.4,452.5 131.4,452.2 131.5,451.9 132.0,451.6 131.6,451.3 131.5,451.0 131.6,450.7 132.1,450.4 131.6,450.1 131.9,449.8 132.2,449.5 131.9,449.2 131.8,448.8 132.1,448.6 131.8,448.2 132.0,447.9 132.0,447.6 132.3,447.4 132.3,447.1 131.8,446.8 131.8,446.5 132.3,446.2 131.8,445.9 131.8,445.6 131.8,445.3 132.4,445.0 132.4,444.7 131.8,444.3 132.0,444.1 132.1,443.8 132.4,443.5 132.4,443.1 132.1,442.8 132.1,442.5 132.2,442.3 132.0,441.9 132.5,441.6 132.1,441.3 132.2,441.0 132.1,440.7 132.5,440.5 132.3,440.1 132.6,439.9 132.2,439.5 132.1,439.2 132.5,439.0 132.7,438.7 132.4,438.3 132.6,438.0 132.5,437.8 132.1,437.5 132.5,437.1 132.4,436.8 132.5,436.6 132.3,436.2 132.2,435.9 132.5,435.6 132.3,435.3 132.3,435.0 132.6,434.7 132.4,434.4 132.4,434.1 132.9,433.9 132.3,433.5 132.7,433.2 132.8,432.9 132.4,432.7 132.6,432.3 132.8,432.1 132.8,431.7 132.6,431.4 132.5,431.1 133.0,430.8 133.0,430.5 132.7,430.2 132.5,429.9 132.7,429.6 132.7,429.3 133.2,429.0 132.7,428.7 132.9,428.4 132.6,428.1 132.8,427.8 132.9,427.5 133.2,427.2 133.2,426.9 133.3,426.6 132.7,426.3 132.9,426.0 133.3,425.7 132.8,425.4 133.0,425.1 133.4,424.8 133.4,424.5 132.8,424.2 133.3,423.9 133.2,423.6 133.4,423.3 133.0,423.0 132.9,422.7 133.4,422.4 133.5,422.1 132.9,421.8 133.4,421.5 133.5,421.2 133.6,420.9 133.3,420.6 133.0,420.3 133.2,420.0 133.6,419.7 133.5,419.4 133.1,419.1 133.5,418.8 133.7,418.5 133.2,418.2 133.2,417.9 133.5,417.6 133.5,417.3 133.5,417.0 133.5,416.7 133.2,416.4 133.5,416.1 133.7,415.8 133.8,415.5 133.3,415.2 133.6,414.9 133.6,414.6 133.4,414.3 133.7,414.0 134.0,413.7 133.7,413.4 133.6,413.1 133.9,412.8 133.5,412.5 134.0,412.2 133.8,411.9 133.6,411.6 133.9,411.3 134.1,411.0 134.0,410.7 134.1,410.4 133.8,410.1 134.1,409.8 133.7,409.5 133.8,409.2 133.8,408.9 133.8,408.6 134.1,408.3 133.9,408.0 134.4,407.7 134.1,407.4 133.9,407.1 134.2,406.8 134.0,406.4 134.3,406.2 134.3,405.8 134.4,405.6 134.0,405.2 134.2,405.0 134.3,404.7 134.0,404.4 134.4,404.0 134.1,403.8 134.3,403.5 134.4,403.1 134.1,402.9 134.1,402.6 134.2,402.2 134.4,402.0 134.5,401.6 134.6,401.4 134.3,401.1 134.6,400.7 134.5,400.5 134.5,400.1 134.4,399.8 134.7,399.5 134.6,399.2 134.7,398.9 134.9,398.7 134.5,398.3 134.7,398.1 134.9,397.8 134.9,397.4 134.9,397.1 134.6,396.9 135.1,396.5 134.9,396.2 134.8,395.9 135.0,395.6 134.9,395.3 134.8,395.0 134.7,394.7 134.9,394.4 134.9,394.1 135.1,393.8 135.1,393.6 135.0,393.3 134.8,393.0 134.7,392.7 135.2,392.3 134.9,392.0 135.3,391.8 134.9,391.5 135.0,391.1 135.1,390.9 134.8,390.5 134.9,390.2 135.3,389.9 135.0,389.6 135.1,389.3 135.1,389.0 135.0,388.7 135.2,388.4 135.4,388.1 135.5,387.8 135.1,387.5 135.7,387.2 135.2,387.0 135.6,386.6 135.2,386.3 135.5,386.0 135.6,385.7 135.5,385.4 135.4,385.1 135.5,384.8 135.4,384.5 135.6,384.2 135.3,383.9 135.7,383.6 135.9,383.3 135.9,383.0 135.3,382.7 135.9,382.4 135.5,382.1 135.6,381.8 135.8,381.5 135.9,381.2 135.6,380.9 136.0,380.6 136.1,380.3 136.1,380.0 135.9,379.7 136.2,379.4 136.0,379.1 135.6,378.8 135.8,378.5 135.9,378.2 135.9,377.9 135.8,377.6 135.9,377.3 136.0,377.0 136.2,376.7 136.1,376.4 135.9,376.1 136.2,375.8 136.4,375.5 136.6,375.2 136.1,374.9 136.3,374.6 136.2,374.4 136.7,374.0 136.6,373.8 136.6,373.4 136.5,373.2 136.5,372.9 136.8,372.6 136.6,372.2 137.0,372.0 137.0,371.7 137.0,371.3 137.0,371.0 136.7,370.7 137.0,370.4 137.0,370.1 136.9,369.7 137.3,369.5 137.1,369.2 137.5,368.9 137.3,368.5 137.3,368.3 137.5,368.0 137.3,367.7 137.7,367.3 137.4,367.0 137.6,366.8 137.3,366.5 137.6,366.2 137.5,365.9 137.7,365.7 137.7,365.4 137.5,365.1 137.9,364.7 137.7,364.4 137.6,364.1 137.9,363.8 137.9,363.5 138.3,363.1 138.2,362.9 138.4,362.6 138.2,362.2 138.1,362.0 138.1,361.7 138.5,361.4 138.2,361.1 138.1,360.7 138.7,360.5 138.5,360.3 138.5,360.0 138.8,359.6 138.9,359.2 138.5,359.0 138.8,358.7 138.6,358.4 138.8,358.1 138.8,357.7 139.0,357.4 139.3,357.3 139.2,356.8 139.0,356.5 139.2,356.3 139.1,355.9 139.4,355.6 139.2,355.4 139.2,355.0 139.4,354.9 139.5,354.4 139.6,354.3 139.3,354.0 139.6,353.6 139.7,353.4 139.7,353.1 139.9,352.6 139.6,352.5 140.2,352.2 139.9,351.8 139.8,351.3 140.0,351.2 139.9,351.7 140.1,351.2 140.3,350.6 140.0,350.4 140.6,349.9 140.5,349.8 140.4,349.8 140.5,349.4 140.4,348.5 140.6,348.7 140.5,348.4 140.5,347.5 140.6,347.5 141.1,347.1 140.8,346.9 141.1,346.0 140.9,345.9 141.0,346.1 141.2,345.8 141.0,345.2 141.1,345.3 141.2,344.5 141.2,344.2 141.5,344.4 141.7,343.5 141.6,343.3 141.8,343.0 141.5,342.8 141.7,342.2 141.6,342.4 142.0,341.5 141.7,341.6 142.0,341.1 141.8,341.0 141.9,341.3 141.8,341.1 142.2,341.0 142.2,340.3 142.0,340.4 142.2,340.1 142.6,339.8 142.5,339.0 142.7,339.1 142.4,338.8 142.7,338.6 142.5,337.9 142.9,337.6 142.7,337.7 142.9,337.0 143.0,336.3 143.1,337.6 143.4,335.7 143.5,335.2 143.5,334.6 143.8,335.3 143.6,334.6 143.8,333.4 144.1,333.3 144.3,333.7 144.1,334.0 144.6,332.7 144.3,333.8 144.7,333.5 144.7,333.9 144.8,331.9 144.9,333.7 145.1,331.7 145.3,332.4 145.3,331.4 145.3,331.7 145.5,331.5 145.6,330.5 145.8,330.7 145.9,330.0 146.0,329.7 146.2,329.7 146.3,327.9 146.2,328.7 146.5,329.5 146.8,329.1 146.9,328.6 146.8,328.0 147.1,326.8 147.3,327.1 147.2,327.4 147.3,326.7 147.7,325.5 147.7,326.8 147.8,324.4 147.9,324.1 148.0,325.2 148.2,324.4 148.4,323.0 148.7,323.5 148.9,322.5 149.0,321.7 149.2,324.2 149.5,323.9 149.8,323.1 150.0,323.6 150.1,322.9 150.2,322.8 150.4,322.7 150.6,323.4 150.8,323.3 151.1,321.7 151.4,322.5 151.5,319.4 151.7,321.0 151.9,318.8 152.2,320.1 152.4,318.4 152.5,320.1 152.8,320.4 153.0,320.9 153.1,319.6 153.4,319.8 153.6,318.3 153.8,317.8 153.9,319.6 154.1,318.9 154.4,316.6 154.7,317.4 154.9,315.3 155.0,316.9 155.2,315.4 155.5,314.9 155.5,315.9 155.9,316.2 156.0,315.2 156.3,317.5 156.4,313.5 156.6,316.5 157.0,313.0 157.1,312.7 157.4,313.0 157.4,313.0 157.8,314.6 157.9,313.7 158.1,311.6 158.5,312.8 158.5,311.3 158.7,313.1 159.0,310.8 159.2,311.5 159.4,313.2 159.6,311.1 159.8,310.2 160.0,312.7 160.3,312.0 160.5,311.1 160.8,309.2 161.1,311.9 161.4,312.8 161.7,313.4 161.9,310.7 162.2,313.5 162.4,313.9 162.7,311.9 163.0,310.5 163.3,313.1 163.5,310.6 163.8,309.9 164.1,308.6 164.4,308.8 164.6,309.5 164.9,308.9 165.2,309.0 165.5,307.5 165.7,308.2 166.0,310.6 166.3,307.1 166.5,306.3 166.8,306.5 167.1,307.5 167.4,308.9 167.6,305.4 167.9,305.5 168.2,308.0 168.4,304.7 168.7,307.6 169.0,308.1 169.3,307.3 169.6,309.0 169.8,306.1 170.1,306.2 170.4,305.7 170.6,309.0 170.9,304.4 171.1,303.3 171.4,304.0 171.7,303.0 172.0,304.1 172.3,302.0 172.6,302.7 172.9,304.9 173.2,304.2 173.5,305.7 173.8,301.7 174.1,304.3 174.3,303.6 174.6,302.5 174.9,303.7 175.2,306.6 175.5,308.2 175.8,306.9 176.1,306.8 176.4,303.8 176.7,304.0 177.0,306.5 177.3,304.0 177.6,308.4 177.9,304.0 178.1,304.0 178.4,306.2 178.7,305.6 179.0,305.7 179.3,305.6 179.6,303.4 179.9,302.6 180.2,303.4 180.5,300.9 180.8,302.7 181.1,304.3 181.4,301.2 181.6,303.6 182.0,300.7 182.3,304.4 182.5,303.8 182.8,305.1 183.1,304.9 183.4,304.7 183.7,304.8 184.0,302.2 184.3,301.9 184.6,305.1 184.9,304.9 185.1,300.8 185.4,304.0 185.7,301.7 186.0,299.2 186.3,299.2 186.6,300.4 186.9,300.3 187.2,300.0 187.4,300.8 187.7,299.8 188.0,304.2 188.3,299.9 188.6,304.0 188.8,301.3 189.1,303.6 189.4,302.6 189.7,304.8 190.0,305.2 190.3,303.4 190.6,303.5 190.9,303.3 191.2,299.7 191.4,302.7 191.7,302.9 192.0,300.8 192.3,298.3 192.6,300.9 192.9,300.2 193.2,299.3 193.4,297.2 193.7,298.4 194.0,297.9 194.3,299.0 194.6,298.3 194.9,298.5 195.2,299.4 195.4,299.1 195.7,300.5 196.0,299.3 196.3,296.2 196.6,296.7 196.9,296.7 197.1,298.0 197.4,299.6 197.7,296.9 198.0,298.9 198.3,299.5 198.6,298.8 198.9,298.5 199.2,295.8 199.4,295.3 199.7,294.9 200.0,295.0 200.3,297.6 200.6,294.6 200.9,294.1 201.2,297.5 201.4,294.7 201.7,298.3 202.0,297.1 202.3,294.8 202.6,297.7 202.9,298.0 203.2,296.1 203.5,296.3 203.8,298.6 204.1,296.4 204.4,298.3 204.7,293.6 204.9,295.3 205.2,294.4 205.5,297.3 205.8,298.0 206.1,294.4 206.4,298.4 206.7,297.5 207.0,295.6 207.3,294.0 207.6,297.1 207.9,295.9 208.2,295.8 208.5,297.8 208.8,297.0 209.1,295.4 209.4,296.4 209.7,297.4 210.0,294.1 210.3,294.7 210.6,294.9 210.9,296.3 211.1,298.0 211.4,295.5 211.7,293.2 212.0,290.7 212.3,294.0 212.6,291.6 212.9,293.5 213.2,290.6 213.5,294.3 213.8,293.4 214.1,295.8 214.4,294.7 214.7,293.3 215.0,296.9 215.3,295.2 215.6,295.9 215.9,296.2 216.2,293.4 216.5,294.8 216.8,295.7 217.0,292.2 217.3,291.6 217.6,295.0 217.9,291.5 218.2,294.3 218.5,295.4 218.8,295.1 219.1,292.6 219.4,293.9 219.7,293.7 220.0,293.1 220.3,293.4 220.6,290.6 220.9,291.7 221.2,292.0 221.5,293.0 221.8,293.8 222.1,291.2 222.4,290.7 222.7,292.9 223.0,294.5 223.3,291.1 223.6,293.6 223.9,290.3 224.2,293.0 224.5,290.9 224.8,292.0 225.1,291.6 225.4,291.5 225.7,290.7 226.0,292.0 226.3,290.5 226.6,293.6 226.9,290.5 227.2,292.9 227.5,291.6 227.8,290.5 228.1,291.7 228.4,295.4 228.7,294.9 229.0,291.6 229.3,290.6 229.6,292.6 229.8,292.7 230.1,295.3 230.4,293.4 230.7,294.1 231.0,294.2 231.3,295.0 231.6,290.8 231.9,291.6 232.2,289.0 232.5,291.0 232.8,289.2 233.1,288.3 233.4,289.8 233.7,288.9 234.0,289.7 234.3,288.0 234.6,286.4 234.9,292.1 235.2,287.8 235.5,290.7 235.8,289.2 236.1,288.8 236.4,290.9 236.7,288.0 237.0,287.9 237.3,290.7 237.6,286.2 237.9,289.6 238.2,286.6 238.5,287.9 238.8,288.2 239.1,286.4 239.4,287.0 239.7,289.7 240.0,287.1 240.3,287.3 240.5,286.6 240.8,290.7 241.1,289.7 241.4,289.2 241.7,285.5 241.9,286.6 242.2,285.5 242.5,287.6 242.8,285.7 243.1,287.9 243.3,287.8 243.6,285.9 243.9,285.4 244.2,287.1 244.4,289.9 244.7,289.6 245.0,288.4 245.3,287.2 245.5,286.9 245.8,288.3 246.1,287.5 246.4,285.8 246.6,286.9 246.9,286.5 247.2,284.4 247.5,284.4 247.8,285.6 248.0,283.1 248.3,286.0 248.6,284.6 248.9,283.5 249.2,284.6 249.4,283.1 249.7,283.1 250.0,285.4 250.3,284.3 250.6,285.6 250.9,284.6 251.2,282.9 251.5,282.7 251.8,283.7 252.1,283.2 252.4,281.7 252.7,284.1 252.9,284.1 253.2,285.5 253.5,284.9 253.8,286.1 254.1,284.1 254.4,287.4 254.7,288.3 255.0,286.4 255.3,283.6 255.6,285.8 255.9,285.8 256.2,283.5 256.5,284.8 256.8,280.4 257.1,282.8 257.3,280.5 257.6,280.4 257.9,278.6 258.2,278.3 258.5,280.6 258.8,279.6 259.1,279.7 259.4,278.8 259.7,280.1 260.0,278.9 260.3,280.7 260.6,283.4 260.9,278.6 261.2,281.2 261.5,282.5 261.8,282.9 262.1,281.2 262.4,280.8 262.6,280.7 262.9,278.7 263.2,279.4 263.5,281.1 263.8,281.0 264.1,278.6 264.4,281.8 264.7,278.2 265.0,283.1 265.3,279.9 265.6,282.0 265.9,281.6 266.2,282.0 266.5,281.0 266.8,281.7 267.1,283.9 267.4,280.8 267.6,282.3 267.9,283.7 268.2,284.4 268.5,282.3 268.8,286.2 269.1,281.7 269.4,284.5 269.7,286.0 270.0,286.2 270.3,284.7 270.6,285.1 270.9,280.8 271.2,284.3 271.5,283.1 271.8,281.2 272.1,281.8 272.3,279.9 272.6,276.3 272.9,276.9 273.2,279.6 273.5,279.2 273.8,277.2 274.1,279.6 274.4,276.5 274.7,279.8 275.0,279.7 275.3,275.5 275.6,277.0 275.9,276.4 276.2,279.4 276.5,279.1 276.8,276.7 277.1,275.8 277.4,278.7 277.7,276.3 277.9,275.5 278.2,278.9 278.5,276.6 278.8,275.7 279.1,278.8 279.4,277.0 279.7,276.1 280.0,276.0 280.3,278.6 280.6,277.6 280.9,276.6 281.2,279.6 281.5,280.3 281.8,279.1 282.1,280.4 282.4,279.4 282.7,277.2 283.0,275.2 283.3,275.9 283.6,275.8 283.9,276.3 284.2,275.1 284.5,274.1 284.8,274.8 285.1,275.5 285.5,277.1 285.8,276.7 286.1,276.8 286.4,273.8 286.7,275.6 287.0,277.3 287.3,273.9 287.6,273.7 287.9,275.7 288.2,273.3 288.5,273.7 288.8,275.8 289.1,277.2 289.4,274.1 289.7,273.3 290.0,273.7 290.3,277.0 290.6,274.0 290.9,277.8 291.2,278.2 291.5,275.8 291.8,277.7 292.1,277.5 292.4,277.3 292.7,277.6 293.0,277.2 293.3,277.6 293.6,276.0 293.9,275.5 294.2,274.7 294.5,277.0 294.8,280.3 295.2,279.6 295.5,280.8 295.8,281.3 296.1,280.3 296.4,282.6 296.7,282.7 297.0,280.7 297.3,279.9 297.6,282.3 297.9,279.6 298.2,279.5 298.5,276.6 298.8,278.4 299.1,278.9 299.4,278.8 299.7,278.0 300.0,278.6 300.3,274.6 300.6,277.5 300.9,276.8 301.2,273.0 301.5,273.5 301.8,272.1 302.1,274.2 302.4,276.6 302.7,276.9 303.0,275.0 303.3,276.9 303.6,272.9 303.9,275.1 304.2,273.9 304.5,270.9 304.8,271.7 305.1,273.1 305.4,271.6 305.7,275.4 306.0,272.2 306.3,274.7 306.6,273.4 306.9,272.7 307.2,274.4 307.5,272.9 307.8,274.9 308.1,274.5 308.4,272.6 308.7,273.7 309.0,274.1 309.2,272.0 309.6,273.0 309.9,269.8 310.2,271.9 310.4,272.9 310.7,273.3 311.0,273.9 311.3,274.5 311.6,273.7 311.9,274.0 312.2,275.3 312.5,272.3 312.8,273.5 313.1,271.3 313.4,270.9 313.7,271.6 314.0,270.9 314.3,270.0 314.6,270.4 314.9,271.4 315.2,274.8 315.5,275.6 315.8,276.0 316.1,274.4 316.4,276.7 316.7,276.0 317.0,276.0 317.3,275.9 317.6,276.3 317.9,272.2 318.2,272.4 318.5,274.3 318.8,273.9 319.1,272.7 319.4,273.4 319.7,272.4 320.0,273.0 320.3,272.6 320.6,269.7 320.9,272.5 321.2,267.6 321.5,269.9 321.8,272.5 322.1,271.2 322.4,269.5 322.7,268.2 323.0,271.5 323.3,273.1 323.6,272.9 323.9,271.1 324.2,269.7 324.5,272.6 324.8,272.6 325.1,270.9 325.4,274.0 325.7,272.7 326.0,269.0 326.3,272.4 326.6,273.2 326.9,269.4 327.2,272.1 327.5,268.0 327.8,270.0 328.1,269.4 328.4,267.4 328.7,271.4 329.0,271.9 329.3,272.9 329.5,269.4 329.9,270.7 330.1,273.3 330.4,274.6 330.7,276.3 331.0,275.4 331.3,279.4 331.6,273.6 331.9,275.5 332.2,271.6 332.5,268.1 332.8,266.2 333.1,269.6 333.4,269.1 333.7,269.5 334.0,267.2 334.3,268.2 334.6,267.5 334.9,270.9 335.2,270.9 335.5,270.2 335.8,269.2 336.1,271.7 336.4,268.1 336.7,266.0 337.0,269.4 337.3,268.6 337.6,266.2 337.9,267.5 338.2,269.5 338.5,268.1 338.8,266.8 339.1,267.6 339.4,267.1 339.7,267.1 340.0,266.0 340.3,266.9 340.6,267.4 340.9,271.1 341.2,269.6 341.5,268.8 341.8,267.8 342.1,270.9 342.4,268.3 342.7,271.2 343.0,270.0 343.3,271.0 343.6,269.0 343.9,271.6 344.2,268.4 344.5,267.3 344.8,272.0 345.2,267.7 345.5,267.4 345.8,267.8 346.1,269.1 346.4,269.4 346.7,267.4 347.0,269.4 347.3,271.0 347.6,268.9 347.9,268.9 348.2,267.0 348.5,266.6 348.8,267.2 349.1,269.1 349.4,269.6 349.7,270.6 350.0,269.4 350.3,269.5 350.6,270.2 350.9,272.2 351.2,269.0 351.5,270.3 351.8,270.3 352.1,267.2 352.4,265.6 352.7,269.5 353.0,266.7 353.3,264.9 353.6,269.7 353.9,267.7 354.2,264.4 354.5,268.4 354.8,268.0 355.2,264.3 355.5,267.0 355.8,267.5 356.1,267.6 356.4,264.9 356.7,265.2 357.0,268.8 357.3,266.9 357.6,268.9 357.9,268.5 358.2,265.3 358.5,269.4 358.8,268.3 359.1,268.9 359.4,267.6 359.7,266.7 360.0,267.5 360.3,268.9 360.6,273.4 360.9,270.9 361.2,273.8 361.5,270.7 361.8,273.8 362.1,270.0 362.3,270.1 362.6,269.2 362.9,268.7 363.2,270.7 363.5,269.9 363.8,270.6 364.1,269.4 364.4,267.9 364.7,271.0 365.0,267.3 365.3,267.4 365.6,265.6 365.9,263.7 366.2,265.5 366.5,268.1 366.8,266.9 367.1,266.5 367.4,266.4 367.6,264.4 367.9,267.9 368.2,263.8 368.5,267.3 368.8,266.2 369.1,263.4 369.4,264.5 369.7,265.2 370.0,264.6 370.3,266.8 370.6,266.6 370.9,268.1 371.2,266.6 371.5,262.8 371.8,264.4 372.1,262.5 372.4,261.4 372.6,265.7 372.9,264.5 373.2,262.0 373.5,262.3 373.8,265.7 374.1,264.5 374.4,265.5 374.7,261.4 375.0,265.3 375.3,262.8 375.6,262.4 375.9,263.0 376.2,264.6 376.5,260.8 376.8,263.5 377.1,263.4 377.3,263.0 377.7,262.2 377.9,263.8 378.2,262.2 378.5,261.0 378.8,264.3 379.1,264.7 379.4,265.0 379.7,262.6 380.0,266.4 380.3,267.1 380.6,262.0 380.9,261.7 381.2,262.7 381.5,264.8 381.8,263.3 382.1,261.7 382.4,263.1 382.7,261.1 383.0,264.6 383.3,261.9 383.6,264.8 383.9,264.5 384.2,263.3 384.5,266.5 384.8,266.7 385.2,264.3 385.5,265.6 385.8,264.1 386.1,261.0 386.4,263.2 386.7,261.6 387.0,262.6 387.3,262.1 387.6,261.4 387.9,264.0 388.2,261.2 388.5,262.0 388.8,263.8 389.1,260.4 389.4,263.9 389.7,263.9 390.0,264.5 390.3,263.4 390.6,263.1 390.9,263.6 391.2,263.8 391.5,261.6 391.8,259.8 392.1,264.0 392.4,264.7 392.7,262.1 393.0,263.6 393.3,265.6 393.6,261.3 393.9,266.6 394.2,267.7 394.5,263.5 394.8,263.9 395.2,264.4 395.5,264.4 395.8,265.8 396.1,268.8 396.4,268.2 396.7,264.1 397.0,264.8 397.3,266.5 397.6,263.7 397.9,264.5 398.2,261.6 398.5,260.1 398.8,263.5 399.1,260.1 399.4,261.5 399.7,261.7 400.0,262.0 400.3,261.6 400.6,262.6 400.9,264.9 401.2,264.6 401.5,262.4 401.8,261.4 402.1,263.8 402.4,263.8 402.7,263.9 403.0,261.4 403.3,259.1 403.6,260.1 403.9,260.6 404.2,260.7 404.5,263.0 404.8,262.6 405.1,263.2 405.4,262.8 405.7,261.4 406.0,262.5 406.3,263.8 406.6,263.0 406.9,264.5 407.2,262.9 407.5,261.9 407.8,261.6 408.1,261.8 408.4,262.0 408.7,263.9 409.0,264.7 409.3,263.5 409.6,261.8 409.9,261.7 410.2,260.7 410.5,261.4 410.8,261.1 411.1,264.0 411.4,262.8 411.7,259.7 412.0,259.3 412.3,259.9 412.6,259.8 412.9,258.8 413.2,261.7 413.6,259.0 413.9,257.8 414.2,261.5 414.5,260.9 414.8,257.9 415.1,261.7 415.4,261.0 415.7,259.2 416.0,258.0 416.3,261.1 416.6,257.6 416.9,260.6 417.2,261.8 417.5,261.2 417.8,261.3 418.1,257.9 418.4,258.8 418.7,259.1 419.0,260.0 419.3,259.6 419.6,260.9 419.9,262.4 420.2,263.1 420.5,260.1 420.8,260.6 421.1,258.5 421.4,257.6 421.7,258.8 422.0,259.6 422.3,259.3 422.6,258.7 422.9,257.9 423.2,262.4 423.5,260.0 423.8,264.1 424.1,261.1 424.4,262.6 424.7,261.3 425.0,263.5 425.3,266.8 425.6,266.8 425.9,267.9 426.2,266.8 426.5,266.3 426.8,264.4 427.1,264.1 427.4,267.6 427.7,264.9 428.0,266.0 428.3,263.4 428.6,262.9 428.9,262.6 429.2,262.7 429.5,261.8 429.8,260.7 430.1,261.7 430.4,261.0 430.7,260.9 431.0,263.3 431.3,263.2 431.6,260.7 431.9,262.7 432.2,261.7 432.5,262.0 432.8,259.4 433.1,260.7 433.4,258.4 433.7,259.4 434.0,260.8 434.3,260.7 434.6,259.6 434.9,257.5 435.2,260.9 435.5,260.0 435.8,257.5 436.1,262.1 436.4,256.7 436.7,259.3 437.0,259.4 437.3,256.8 437.6,259.4 437.9,261.0 438.2,257.6 438.5,255.7 438.8,256.5 439.1,256.2 439.4,258.5 439.7,257.6 440.1,258.7 440.4,257.6 440.7,258.2 441.0,257.6 441.3,260.2 441.6,256.6 441.9,255.6 442.2,259.7 442.5,260.6 442.8,256.7 443.1,260.0 443.4,259.6 443.7,257.5 444.0,259.0 444.3,261.2 444.6,260.9 444.9,260.4 445.2,257.1 445.5,257.3 445.8,258.9 446.1,258.9 446.4,260.3 446.7,258.9 447.0,261.3 447.3,259.4 447.6,259.2 447.9,261.6 448.2,257.1 448.5,255.4 448.8,257.7 449.1,258.6 449.4,256.3 449.7,258.1 450.0,256.2 450.3,256.6 450.6,257.2 450.9,257.5 451.2,256.5 451.5,259.1 451.8,256.5 452.1,258.3 452.4,254.5 452.7,259.4 453.0,258.5 453.3,255.6 453.6,257.4 453.9,256.2 454.2,255.2 454.5,257.5 454.8,257.1 455.1,258.3 455.4,258.2 455.7,260.7 456.0,258.0 456.3,256.1 456.6,255.9 456.9,260.3 457.2,258.7 457.5,259.1 457.8,256.6 458.1,256.7 458.4,255.9 458.7,256.9 459.0,258.1 459.3,256.6 459.6,257.5 459.9,253.6 460.1,259.0 460.4,258.8 460.7,258.2 461.0,256.7 461.3,260.2 461.6,261.2 461.9,263.9 462.2,264.2 462.5,262.7 462.8,261.3 463.1,262.4 463.4,261.5 463.7,259.1 464.0,257.8 464.3,259.4 464.6,256.5 464.9,259.8 465.2,258.2 465.5,259.6 465.8,258.8 466.1,257.2 466.4,255.6 466.7,256.4 467.0,257.2 467.3,257.7 467.6,258.2 467.9,256.6 468.2,254.7 468.5,256.9 468.8,258.4 469.1,255.5 469.4,254.4 469.7,254.7 470.0,257.3 470.4,252.2 470.7,254.1 471.0,255.5 471.3,257.1 471.6,256.8 471.9,254.4 472.2,253.0 472.5,253.4 472.8,255.5 473.1,256.8 473.4,256.1 473.7,255.6 474.0,254.1 474.3,255.2 474.6,253.7 474.9,253.7 475.1,253.4 475.4,253.8 475.7,258.4 476.0,256.7 476.3,259.7 476.6,258.3 476.8,255.9 477.1,255.7 477.4,256.8 477.7,261.2 478.0,258.0 478.3,257.6 478.6,259.5 478.9,258.7 479.1,260.0 479.5,257.3 479.7,257.5 480.1,259.1 480.1,257.5 480.2,257.9 480.3,258.0 480.6,258.1 480.8,260.9 480.8,260.4 480.9,259.3 481.1,260.2 481.5,261.5 481.6,261.6 481.7,262.6 481.8,261.0 481.9,261.4 482.1,262.6 482.3,261.6 482.6,262.1 482.5,262.6 482.8,262.1 483.0,262.6 483.1,262.2 483.3,263.0 483.5,264.2 483.4,264.5 483.7,266.0 483.7,265.7 483.9,266.8 484.1,267.0 484.2,267.9 484.6,266.2 484.8,266.7 484.9,267.7 484.9,267.2 485.1,266.2 485.4,266.1 485.6,266.4 485.5,268.1 485.6,268.2 486.0,268.5 486.1,267.1 486.4,268.6 486.4,267.6 486.6,270.0 486.7,270.6 487.0,270.6 487.2,270.5 487.4,271.0 487.3,271.3 487.2,271.6 487.5,271.9 487.1,272.2 487.6,272.5 487.0,272.9 487.2,273.1 487.4,273.4 487.2,273.7 487.3,274.0 487.7,274.3 487.3,274.6 487.2,275.0 487.6,275.2 487.6,275.6 487.4,275.8 487.5,276.1 487.5,276.5 487.9,276.8 487.8,277.1 487.4,277.4 487.5,277.6 488.0,278.0 487.6,278.3 488.0,278.6 487.7,278.9 487.7,279.1 488.1,279.4 487.7,279.8 488.1,280.1 488.0,280.4 488.0,280.7 487.8,280.9 487.9,281.2 487.8,281.5 488.1,281.9 488.3,282.1 488.2,282.4 488.3,282.8 488.1,283.1 488.5,283.4 488.1,283.7 488.1,283.9 488.4,284.3 488.4,284.6 488.2,284.9 488.1,285.2 488.7,285.5 488.7,285.8 488.6,286.0 488.6,286.4 488.7,286.7 488.8,287.0 488.8,287.3 488.6,287.6 488.6,287.9 488.9,288.1 489.0,288.4 488.5,288.8 488.6,289.1 489.2,289.3 488.9,289.7 489.2,289.9 489.2,290.2 489.4,290.5 489.0,290.8 489.3,291.1 489.1,291.4 489.5,291.7 489.3,292.1 489.2,292.4 489.7,292.8 489.7,292.9 489.8,293.4 489.6,293.5 489.8,293.9 489.7,294.2 489.7,294.5 489.9,294.8 490.0,294.9 490.0,295.1 490.1,295.5 490.4,295.8 490.0,296.0 490.4,296.5 490.6,296.8 490.4,297.0 490.3,297.3 490.4,297.7 490.5,298.0 490.6,298.4 490.7,298.6 490.9,298.7 490.5,299.1 490.9,299.4 490.7,299.7 491.3,300.0 491.0,300.2 491.2,300.5 491.1,300.9 491.5,301.1 491.4,301.5 491.3,301.8 491.3,302.2 491.3,302.6 491.5,302.8 491.8,303.0 491.6,303.5 491.8,303.8 492.1,304.0 492.0,304.4 492.2,304.5 492.4,304.9 492.3,305.2 492.5,305.3 492.3,305.5 492.4,305.7 492.5,306.0 492.6,306.5 493.1,306.8 493.0,306.9 493.1,307.2 493.2,307.4 493.4,307.9 493.5,308.0 493.4,308.4 493.3,308.6 493.6,308.8 493.8,309.3 494.0,309.4 493.7,309.9 493.9,310.3 494.2,310.6 494.1,310.9 494.4,311.2 494.5,311.2 494.6,311.7 494.4,311.9 494.7,312.1 494.5,312.3 494.8,312.6 494.8,312.9 495.1,313.1 494.9,313.5 495.2,313.9 495.5,314.2 495.0,314.6 495.2,314.8 495.0,315.1 495.3,315.4 495.5,315.7 495.2,316.1 495.2,316.3 495.6,316.6 495.4,316.9 495.3,317.3 495.5,317.5 495.4,317.8 495.6,318.2 495.5,318.4 495.8,318.7 495.3,319.0 495.5,319.3 495.5,319.7 495.8,319.9 495.6,320.2 495.6,320.5 495.9,320.8 495.7,321.1 495.8,321.4 495.5,321.7 495.9,322.0 496.2,322.3 495.9,322.6 496.2,322.9 496.2,323.2 496.2,323.5 495.8,323.8 496.0,324.1 496.4,324.4 496.0,324.7 495.8,325.0 496.0,325.3 496.1,325.6 495.9,325.9 496.2,326.2 496.1,326.5 496.4,326.7 496.1,327.1 496.6,327.4 496.2,327.7 496.6,327.9 496.3,328.3 496.4,328.6 496.2,328.9 496.5,329.2 496.3,329.5 496.8,329.8 496.4,330.0 496.6,330.4 496.8,330.7 496.6,330.9 496.8,331.3 497.0,331.6 496.5,331.9 496.7,332.2 496.8,332.5 496.7,332.7 497.0,333.1 496.8,333.4 496.9,333.7 496.8,334.0 497.0,334.3 496.9,334.6 496.8,334.9 497.0,335.2 497.0,335.5 497.2,335.8 497.3,336.1 497.0,336.4 497.0,336.7 497.5,337.0 497.4,337.3 497.3,337.6 497.4,337.9 497.1,338.3 497.1,338.6 497.4,338.8 497.1,339.1 497.7,339.4 497.4,339.7 497.2,340.1 497.5,340.3 497.4,340.6 497.5,341.0 497.6,341.2 497.7,341.5 498.0,341.8 497.4,342.2 497.7,342.5 497.5,342.8 497.8,343.0 497.5,343.4 497.5,343.7 498.0,344.1 498.0,344.3 497.9,344.6 497.7,344.9 497.8,345.3 498.3,345.5 498.1,345.8 498.0,346.1 498.3,346.4 498.2,346.8 498.5,347.0 497.9,347.3 498.4,347.6 498.3,347.9 498.4,348.3 498.1,348.5 498.1,348.8 498.3,349.1 498.5,349.5 498.2,349.7 498.3,350.0 498.8,350.4 498.2,350.6 498.8,350.9 498.5,351.2 498.9,351.5 498.4,351.9 498.6,352.2 498.6,352.5 499.0,352.7 498.7,353.1 498.6,353.4 498.6,353.7 499.0,354.0 498.9,354.2 498.7,354.5 499.0,354.9 499.1,355.2 499.1,355.5 498.9,355.8 499.4,356.0 498.9,356.5 499.1,356.6 499.4,356.9 499.2,357.2 499.5,357.8 499.3,357.8 499.3,358.2 499.7,358.5 499.5,358.7 499.7,359.1 500.1,359.4 500.0,359.6 500.1,359.8 500.2,360.2 500.2,360.4 500.4,360.7 500.3,361.0 500.6,361.2 500.3,361.8 500.7,362.0 500.4,362.5 500.7,362.7 500.6,363.1 500.8,363.3 501.0,363.6 501.0,363.7 501.3,364.1 501.3,364.4 501.4,364.6 501.1,364.9 501.3,365.2 501.4,365.5 501.4,365.8 501.7,366.2 501.5,366.5 501.7,366.9 501.7,367.1 501.9,367.5 502.1,367.8 501.9,368.0 501.9,368.3 502.0,368.7 502.0,368.9 502.3,369.2 502.0,369.5 502.1,369.9 502.1,370.1 502.5,370.4 502.2,370.8 502.6,371.0 502.7,371.2 502.4,371.6 502.8,371.9 502.5,372.2 502.7,372.4 502.6,372.7 502.6,373.1 502.9,373.4 503.0,373.8 503.1,374.1 503.2,374.4 502.8,374.6 502.8,374.8 502.9,375.2 503.0,375.6 503.1,375.8 503.4,376.2 503.2,376.4 503.5,376.7 503.5,377.0 503.3,377.3 503.6,377.7 503.6,377.9 503.8,378.3 503.4,378.5 503.6,378.8 504.0,379.2 503.6,379.4 503.7,379.6 504.0,380.0 503.7,380.3 503.8,380.7 504.0,380.9 504.3,381.2 504.3,381.5 504.4,381.7 504.1,382.1 504.4,382.4 504.1,382.7 504.2,383.0 504.2,383.2 504.4,383.5 504.8,383.9 504.5,384.3 504.5,384.4 504.6,384.8 504.5,385.0 505.1,385.3 504.6,385.6 504.9,385.9 505.1,386.2 505.0,386.5 505.1,386.7 505.2,387.0 504.9,387.3 505.2,387.7 505.0,388.0 505.3,388.3 505.3,388.5 505.6,388.9 505.7,389.1 505.6,389.5 505.8,389.9 505.9,390.2 505.8,390.4 506.0,390.8 506.0,391.0 505.9,391.3 505.8,391.6 505.7,391.9 506.1,392.3 506.2,392.5 506.1,392.8 506.4,393.0 506.0,393.4 506.4,393.6 506.3,394.0 506.3,394.3 506.5,394.6 506.1,394.9 506.7,395.2 506.7,395.6 506.4,395.7 506.7,396.0 506.5,396.3 506.8,396.6 506.5,396.9 506.8,397.3 506.6,397.6 507.0,397.8 506.6,398.2 507.2,398.4 507.1,398.6 506.9,399.0 507.2,399.3 507.0,399.6 507.1,399.9 507.1,400.2 507.1,400.4 507.4,400.8 507.3,401.1 507.2,401.4 507.5,401.7 507.5,402.0 507.1,402.3 507.5,402.6 507.4,402.9 507.2,403.2 507.6,403.5 507.7,403.8 507.5,404.1 507.3,404.4 507.2,404.7 507.5,405.0 507.7,405.3 507.5,405.6 507.3,405.9 507.4,406.2 507.8,406.5 507.5,406.7 507.3,407.1 507.7,407.4 507.7,407.7 507.6,408.0 507.4,408.3 507.6,408.6 507.7,408.9 507.9,409.2 507.9,409.5 507.5,409.8 507.7,410.1 507.7,410.4 507.9,410.7 508.0,411.0 508.0,411.3 508.0,411.6 507.8,411.9 507.7,412.2 507.8,412.5 507.9,412.8 507.9,413.1 508.2,413.4 508.0,413.7 508.2,414.0 507.8,414.3 508.4,414.6 507.8,414.9 508.2,415.2 508.5,415.5 508.1,415.9 508.1,416.1 508.1,416.4 508.5,416.7 508.3,417.0 508.6,417.3 508.1,417.6 508.4,417.9 508.4,418.2 508.6,418.5 508.6,418.8 508.6,419.1 508.3,419.4 508.6,419.7 508.2,420.0 508.5,420.3 508.2,420.6 508.7,420.9 508.3,421.2 508.8,421.5 508.4,421.8 508.7,422.1 508.4,422.4 508.7,422.7 508.9,423.0 508.7,423.3 509.0,423.6 509.0,423.8 508.6,424.2 508.9,424.5 508.9,424.8 508.7,425.0 509.0,425.3 509.2,425.7 509.0,426.0 509.0,426.2 509.2,426.6 509.3,426.8 509.1,427.1 509.4,427.4 509.3,427.7 509.0,428.0 509.0,428.4 509.5,428.7 509.3,428.9 509.1,429.3 509.1,429.6 509.5,429.8 509.6,430.1 509.4,430.5 509.4,430.8 509.6,431.1 509.8,431.3 509.3,431.6 509.5,431.9 509.4,432.2 509.8,432.5 510.0,432.8 509.7,433.1 509.5,433.5 509.9,433.8 509.6,434.0 510.1,434.3 510.0,434.6 509.9,435.0 510.3,435.3 510.0,435.5 510.2,435.8 510.1,436.2 510.4,436.5 510.3,436.8 510.2,437.1 510.0,437.3 510.1,437.6 510.5,437.9 510.5,438.3 510.5,438.5 510.6,438.8 510.5,439.1 510.6,439.4 510.6,439.7 510.3,440.0 510.7,440.2 510.5,440.6 510.9,441.0 510.5,441.2 510.6,441.5 510.9,441.9 510.9,442.1 510.9,442.4 511.0,442.6 511.4,443.0 511.2,443.3 511.5,443.6 511.2,443.8 511.7,444.0 511.4,444.5 511.8,444.7 511.6,445.1 512.0,445.3 511.6,445.7 511.9,446.0 511.9,446.1 512.0,446.5 512.3,446.8 512.2,447.1 512.3,447.4 512.1,447.6 512.6,447.8 512.5,448.2 512.7,448.7 512.8,448.9 512.8,449.2 512.5,449.4 512.6,449.7 512.7,450.2 512.9,450.5 513.2,450.6 513.1,451.0 512.9,451.2 513.1,451.5 513.4,451.7 513.2,452.1 513.2,452.5 513.6,452.7 513.4,453.0 513.9,453.3 513.8,453.5 513.9,453.9 513.7,454.2 513.6,454.5 513.7,454.8 513.9,455.1 513.7,455.4 513.8,455.7 513.7,456.0 513.8,456.4 514.2,456.6 513.9,456.8 513.9,457.1 514.0,457.5 514.3,457.9 514.1,458.1 514.4,458.5 514.1,458.7 514.2,459.1 514.2,459.3 514.5,459.7 514.2,459.9 514.7,460.1 514.5,460.5 514.3,460.8 514.7,461.0 514.4,461.3 514.5,461.7 514.6,462.0 514.8,462.2 514.7,462.6 514.6,462.9 514.6,463.2 514.7,463.6 514.8,463.8 514.9,464.1 514.9,464.4 515.1,464.7 514.9,465.0 514.9,465.3 515.0,465.6 515.0,465.8 514.9,466.2 515.4,466.6 515.1,466.8 515.4,467.1 515.6,467.5 515.2,467.7 515.4,468.0 515.7,468.2 515.4,468.7 515.8,468.9 515.4,469.3 515.4,469.5 515.5,469.8 516.0,470.1 515.8,470.4 515.7,470.7 516.0,471.0 516.0,471.3 516.1,471.6 515.9,471.9 516.3,472.2 515.9,472.4 516.1,472.8 516.4,473.1 516.0,473.3 516.0,473.7 516.1,474.0 516.2,474.3 516.6,474.6 516.4,474.9 516.5,475.2 516.7,475.5 516.3,475.8 516.3,476.1 516.3,476.4 516.7,476.7 516.9,477.0 516.7,477.3 516.8,477.6 516.5,477.8 517.1,478.2 516.7,478.5 516.9,478.8 517.0,479.0 516.7,479.4 517.0,479.6 516.9,479.9 517.3,480.2 517.3,480.6 517.2,480.8 517.0,481.2 517.4,481.4 517.5,481.8 517.3,482.1 517.1,482.3 517.5,482.6 517.5,482.9 517.2,483.3 517.5,483.7 517.7,483.9 517.6,484.2 517.9,484.6 517.9,484.7 517.9,485.1 518.0,485.4 517.9,485.7 517.9,486.0 517.9,486.2 517.9,486.6 518.1,486.8 518.3,487.2 517.8,487.4 518.4,487.8 518.0,488.1 518.2,488.4 518.5,488.7 518.3,488.9 518.1,489.4 518.4,489.6 518.4,489.9 518.4,490.1 518.6,490.6 518.6,490.8 518.6,491.1 518.5,491.4 518.8,491.6 518.9,492.0 518.8,492.3 519.0,492.6 518.6,492.9 518.7,493.2 518.9,493.5 518.9,493.8 518.9,494.1 518.9,494.4 518.9,494.7 519.4,495.0 519.3,495.3 519.0,495.6 518.8,495.9 519.0,496.3 518.9,496.5 519.4,496.9 519.2,497.1 519.2,497.4 519.4,497.7 519.6,498.1 519.7,498.3 519.3,498.6 519.4,499.0 519.7,499.3 519.3,499.6 519.5,499.8 519.8,500.1 519.8,500.4 519.7,500.8 519.8,501.0 519.9,501.4 519.4,501.7 519.9,501.9 520.0,502.2 519.7,502.5 519.9,502.8 519.9,503.1 520.0,503.4 520.1,503.8 519.9,504.0 520.1,504.4 519.9,504.7 520.3,505.0 519.9,505.3 519.9,505.5 520.0,505.8 520.1,506.2 519.9,506.4 520.1,506.8 520.1,507.1 520.1,507.4 520.0,507.6 520.5,507.9 520.5,508.2 520.2,508.6 520.5,508.9 520.5,509.2 520.3,509.5 520.2,509.8 520.2,510.0 520.3,510.4 520.8,510.6 520.5,510.9 520.5,511.2 520.6,511.5 520.5,511.8 520.8,512.1 520.9,512.4 520.8,512.8 520.5,513.1 520.6,513.4 520.7,513.7 521.0,513.9 520.9,514.3 520.8,514.6 521.2,514.9 521.1,515.1 521.0,515.4 520.7,515.7 520.8,516.0 521.1,516.3 521.1,516.7 521.0,517.0 521.0,517.3 520.9,517.6 521.4,517.8 521.0,518.1 521.0,518.5 521.2,518.8 521.1,519.1 521.6,519.4 521.6,519.7 521.5,520.1 521.6,520.3 521.4,520.6 521.2,520.9 521.8,521.2 521.4,521.5 521.3,521.8 521.3,522.1 521.3,522.4 521.4,522.7 521.6,523.0 521.5,523.3 521.8,523.6 521.7,523.9 521.7,524.2 521.5,524.5 521.8,524.8 521.6,525.1 521.9,525.4 521.6,525.7 521.6,526.0 521.9,526.3 521.9,526.6 521.8,526.9 522.1,527.2 522.1,527.5 521.6,527.8 521.8,528.1 521.8,528.4 522.1,528.7 521.8,529.0 521.6,529.3 522.2,529.6 521.6,529.9 521.9,530.2 521.7,530.5 522.0,530.8 522.3,531.1 522.0,531.4 522.2,531.7 522.0,532.0 522.3,532.3 522.3,532.6 522.1,532.9 522.3,533.2 521.9,533.5 522.1,533.8 522.2,534.1 522.0,534.4 522.2,534.7 522.4,535.0 522.3,535.3 522.3,535.6 521.9,535.9 521.9,536.2 521.9,536.5 522.4,536.8 522.4,537.1 522.4,537.4 522.1,537.7 522.4,538.0 522.0,538.3 522.4,538.6 522.6,538.9 522.0,539.2 522.3,539.5 522.7,539.8 522.7,540.1 522.5,540.4 522.3,540.7 522.2,541.0 522.2,541.3 522.2,541.6 522.4,541.9 522.6,542.2 522.5,542.5 522.4,542.8 522.7,543.1 522.5,543.4 522.6,543.7 522.5,544.0 522.7,544.3 522.8,544.6 522.7,544.9 522.4,545.2 522.7,545.5 522.2,545.8 522.2,546.1 522.9,546.4 522.9,546.7 522.7,547.0 522.2,547.3 522.8,547.6 522.6,547.9 522.6,548.2 522.7,548.5 522.7,548.8 522.8,549.1 522.8,549.4 522.9,549.7 522.4,550.0 522.9,550.3 522.4,550.6 522.4,550.9 522.6,551.2 522.4,551.5 522.6,551.8 522.6,552.1 522.4,552.4 522.3,552.7 522.8,553.0 522.7,553.3 522.6,553.6 522.9,553.9 522.5,554.3 522.4,554.6 522.9,554.8 522.4,555.2 523.0,555.5 522.7,555.8 522.9,556.1 522.9,556.4 522.8,556.7 522.6,557.0 522.8,557.3 522.6,557.6 522.6,557.9 522.8,558.2 522.6,558.5 523.1,558.8 522.6,559.1 522.7,559.4 522.8,559.7 522.6,560.0 522.9,560.3 522.6,560.6 523.1,560.9 522.8,561.2 523.0,561.5 522.7,561.8 523.2,562.1 522.6,562.4 522.8,562.7 523.2,563.0 522.7,563.3 522.9,563.6 523.1,563.9 522.9,564.2 522.8,564.5 522.6,564.8 522.7,565.1 523.0,565.4 523.2,565.7 523.0,566.0 523.0,566.3 522.9,566.6 523.1,566.9 523.2,567.2 523.0,567.5 523.3,567.8 522.9,568.1 523.1,568.4 523.3,568.7 522.7,569.0 522.8,569.3 523.2,569.6 522.9,569.9 522.9,570.2 522.8,570.5 522.7,570.8 523.0,571.1 523.3,571.4 523.0,571.7 522.9,572.0 523.2,572.3 523.0,572.6 523.0,572.9 522.9,573.2 522.9,573.5 522.8,573.8 523.4,574.1 522.8,574.4 522.9,574.7 523.2,575.0 523.0,575.4 523.4,575.6 523.5,576.0 523.0,576.2 523.5,576.5 523.4,576.8 523.5,577.1 523.4,577.5 523.5,577.7 523.5,578.0 523.5,578.4 523.1,578.7 523.2,579.0 523.1,579.3 523.1,579.6 523.1,579.8 523.5,580.2 522.9,580.5 523.0,580.7 523.5,581.1 523.0,581.4 523.5,581.7 523.2,582.0 523.0,582.3 523.1,582.6 523.3,582.9 523.0,583.2 523.2,583.5 523.2,583.8 523.6,584.1 523.6,584.4 523.4,584.7 523.2,585.0 523.5,585.3 523.4,585.6 523.5,585.9 523.3,586.2 523.3,586.5 523.4,586.8 523.2,587.1 523.1,587.4 523.1,587.7 523.3,588.0 523.6,588.3 523.7,588.6 523.7,588.9 523.4,589.2 523.7,589.5 523.7,589.8 523.5,590.1 523.5,590.4 523.5,590.7 523.4,591.0 523.8,591.3 523.2,591.6 523.6,591.9 523.6,592.2 523.6,592.5 523.8,592.8 523.5,593.1 523.7,593.4 523.8,593.7 523.7,594.0 523.6,594.3 523.6,594.6 523.7,594.9 523.5,595.2 524.0,595.5 523.7,595.8 524.1,596.1 524.1,596.4 523.8,596.7 523.7,597.0 524.1,597.3 524.2,597.6 524.0,597.9 524.0,598.2 524.1,598.5 523.9,598.8 523.7,599.1 524.2,599.4 523.9,599.7 524.3,600.0 524.1,600.3 524.0,600.6 524.2,600.9 524.1,601.2 523.8,601.5 524.3,601.8 524.4,602.1 524.0,602.4 524.2,602.7 523.9,603.0 524.0,603.3 524.5,603.6 524.4,603.9 524.3,604.2 524.6,604.5 524.2,604.8 524.6,605.1 524.1,605.4 524.5,605.7 524.5,606.0 524.2,606.3 524.5,606.6 524.4,606.9 524.7,607.2 524.3,607.5 524.3,607.8 524.5,608.2 524.3,608.4 524.6,608.7 524.9,609.0 524.9,609.3 524.8,609.6 524.9,609.9 524.9,610.2 524.8,610.5 524.4,610.8 524.6,611.1 524.6,611.4 524.6,611.7 524.8,612.0 524.5,612.3 524.7,612.6 524.7,612.9 525.0,613.2 525.1,613.5 524.6,613.8 524.8,614.1 525.2,614.4 524.7,614.7 525.2,615.0 525.1,615.4 524.8,615.6 525.0,615.9 525.1,616.2 525.2,616.5 525.0,616.8 525.3,617.2 525.1,617.5 525.0,617.7 525.1,618.1 525.4,618.4 525.1,618.7 525.2,618.9 525.6,619.3 525.5,619.6 525.5,619.8 525.3,620.1 525.1,620.5 525.5,620.8 525.2,621.0 525.4,621.4 525.6,621.7 525.6,622.0 525.7,622.3 525.3,622.6 525.8,622.9 525.7,623.3 525.6,623.4 525.3,623.3 525.3,623.0 525.3,622.6 525.7,622.3 525.1,621.9 525.4,621.7 525.5,621.3 525.2,621.0 525.3,620.7 525.0,620.4 525.2,620.0 524.8,619.8 524.8,619.4 524.7,619.1 525.0,618.8 524.6,618.5 524.7,618.2 524.6,618.0 524.4,617.6 524.9,617.3 524.4,617.1 524.9,616.9 525.1,616.3 525.4,616.4 525.6,616.2 525.9,616.6 526.1,616.1 526.4,615.8 526.7,615.6 527.0,615.3 527.2,615.5 526.9,615.8 527.0,616.2 527.1,616.3 527.0,616.7 526.6,617.0 526.7,617.3 526.6,617.6 526.8,617.9 526.3,618.1 526.5,618.4 526.5,618.8 526.5,619.1 526.2,619.5 526.2,619.7 525.8,620.2 525.9,620.3 525.8,620.7 525.6,621.0"/>
<line x1="572.5" y1="24.3" x2="654.5" y2="23.3" stroke="#000" stroke-width="2"/>
<line x1="572.5" y1="58.8" x2="654.5" y2="57.8" stroke="#e00" stroke-width="2"/>
<line x1="572.5" y1="93.6" x2="654.5" y2="92.6" stroke="#00e" stroke-width="2"/>
<text x="669" y="27.1" class="lg">Slope subarea scanning</text>
<text x="669" y="64" class="lg">Corkscrew spin scanning</text>
<text x="669" y="101" class="lg">Island shape scanning</text>
<!-- panel b -->
<text x="987.5" y="46" class="pn">(b)</text>
<rect x="1224.4" y="262.7" width="52.7" height="404.3" fill="#000" stroke="#000" stroke-width="1"/><rect x="1277.1" y="136.0" width="52.7" height="531.0" fill="#f00" stroke="#000" stroke-width="1"/><rect x="1329.8" y="152.6" width="52.7" height="514.4" fill="#00f" stroke="#000" stroke-width="1"/><rect x="1421.1" y="185.6" width="52.7" height="481.4" fill="#000" stroke="#000" stroke-width="1"/><rect x="1473.8" y="40.7" width="52.7" height="626.3" fill="#f00" stroke="#000" stroke-width="1"/><rect x="1526.5" y="16.5" width="52.7" height="650.5" fill="#00f" stroke="#000" stroke-width="1"/><rect x="1618.2" y="298.5" width="52.7" height="368.5" fill="#000" stroke="#000" stroke-width="1"/><rect x="1670.9" y="189.7" width="52.7" height="477.3" fill="#f00" stroke="#000" stroke-width="1"/><rect x="1723.6" y="334.4" width="52.7" height="332.6" fill="#00f" stroke="#000" stroke-width="1"/>
<line x1="1106.4" y1="10.8" x2="1106.4" y2="680.8" stroke="#000" stroke-width="2.3"/><line x1="1894.9" y1="10.8" x2="1894.9" y2="680.8" stroke="#000" stroke-width="2.3"/><line x1="1095.2" y1="667.0" x2="1906.5" y2="667.0" stroke="#000" stroke-width="2.3"/><line x1="1095.2" y1="667.0" x2="1106.4" y2="667.0" stroke="#000" stroke-width="2.3"/><line x1="1100.6000000000001" y1="607.5" x2="1106.4" y2="607.5" stroke="#000" stroke-width="2.3"/><line x1="1095.2" y1="547.9" x2="1106.4" y2="547.9" stroke="#000" stroke-width="2.3"/><line x1="1100.6000000000001" y1="488.4" x2="1106.4" y2="488.4" stroke="#000" stroke-width="2.3"/><line x1="1095.2" y1="428.8" x2="1106.4" y2="428.8" stroke="#000" stroke-width="2.3"/><line x1="1100.6000000000001" y1="369.2" x2="1106.4" y2="369.2" stroke="#000" stroke-width="2.3"/><line x1="1095.2" y1="309.7" x2="1106.4" y2="309.7" stroke="#000" stroke-width="2.3"/><line x1="1100.6000000000001" y1="250.1" x2="1106.4" y2="250.1" stroke="#000" stroke-width="2.3"/><line x1="1095.2" y1="190.6" x2="1106.4" y2="190.6" stroke="#000" stroke-width="2.3"/><line x1="1100.6000000000001" y1="131.0" x2="1106.4" y2="131.0" stroke="#000" stroke-width="2.3"/><line x1="1095.2" y1="71.5" x2="1106.4" y2="71.5" stroke="#000" stroke-width="2.3"/><line x1="1100.6000000000001" y1="11.9" x2="1106.4" y2="11.9" stroke="#000" stroke-width="2.3"/><line x1="1894.9" y1="667.0" x2="1906.9" y2="667.0" stroke="#000" stroke-width="2.3"/><line x1="1894.9" y1="641.8" x2="1901.4" y2="641.8" stroke="#000" stroke-width="2.3"/><line x1="1894.9" y1="616.6" x2="1906.9" y2="616.6" stroke="#000" stroke-width="2.3"/><line x1="1894.9" y1="591.5" x2="1901.4" y2="591.5" stroke="#000" stroke-width="2.3"/><line x1="1894.9" y1="566.3" x2="1906.9" y2="566.3" stroke="#000" stroke-width="2.3"/><line x1="1894.9" y1="541.1" x2="1901.4" y2="541.1" stroke="#000" stroke-width="2.3"/><line x1="1894.9" y1="515.9" x2="1906.9" y2="515.9" stroke="#000" stroke-width="2.3"/><line x1="1894.9" y1="490.7" x2="1901.4" y2="490.7" stroke="#000" stroke-width="2.3"/><line x1="1894.9" y1="465.6" x2="1906.9" y2="465.6" stroke="#000" stroke-width="2.3"/><line x1="1894.9" y1="440.4" x2="1901.4" y2="440.4" stroke="#000" stroke-width="2.3"/><line x1="1894.9" y1="415.2" x2="1906.9" y2="415.2" stroke="#000" stroke-width="2.3"/><line x1="1894.9" y1="390.0" x2="1901.4" y2="390.0" stroke="#000" stroke-width="2.3"/><line x1="1894.9" y1="364.8" x2="1906.9" y2="364.8" stroke="#000" stroke-width="2.3"/><line x1="1894.9" y1="339.6" x2="1901.4" y2="339.6" stroke="#000" stroke-width="2.3"/><line x1="1894.9" y1="314.5" x2="1906.9" y2="314.5" stroke="#000" stroke-width="2.3"/><line x1="1894.9" y1="289.3" x2="1901.4" y2="289.3" stroke="#000" stroke-width="2.3"/><line x1="1894.9" y1="264.1" x2="1906.9" y2="264.1" stroke="#000" stroke-width="2.3"/><line x1="1894.9" y1="238.9" x2="1901.4" y2="238.9" stroke="#000" stroke-width="2.3"/><line x1="1894.9" y1="213.7" x2="1906.9" y2="213.7" stroke="#000" stroke-width="2.3"/><line x1="1894.9" y1="188.6" x2="1901.4" y2="188.6" stroke="#000" stroke-width="2.3"/><line x1="1894.9" y1="163.4" x2="1906.9" y2="163.4" stroke="#000" stroke-width="2.3"/><line x1="1894.9" y1="138.2" x2="1901.4" y2="138.2" stroke="#000" stroke-width="2.3"/><line x1="1894.9" y1="113.0" x2="1906.9" y2="113.0" stroke="#000" stroke-width="2.3"/><line x1="1894.9" y1="87.8" x2="1901.4" y2="87.8" stroke="#000" stroke-width="2.3"/><line x1="1894.9" y1="62.7" x2="1906.9" y2="62.7" stroke="#000" stroke-width="2.3"/><line x1="1894.9" y1="37.5" x2="1901.4" y2="37.5" stroke="#000" stroke-width="2.3"/><line x1="1894.9" y1="12.3" x2="1906.9" y2="12.3" stroke="#000" stroke-width="2.3"/><line x1="1205.0" y1="667.0" x2="1205.0" y2="674.5" stroke="#000" stroke-width="2.3"/><line x1="1303.5" y1="667.0" x2="1303.5" y2="674.5" stroke="#000" stroke-width="2.3"/><line x1="1402.1" y1="667.0" x2="1402.1" y2="674.5" stroke="#000" stroke-width="2.3"/><line x1="1500.6" y1="667.0" x2="1500.6" y2="674.5" stroke="#000" stroke-width="2.3"/><line x1="1599.2" y1="667.0" x2="1599.2" y2="674.5" stroke="#000" stroke-width="2.3"/><line x1="1697.8" y1="667.0" x2="1697.8" y2="674.5" stroke="#000" stroke-width="2.3"/><line x1="1796.3" y1="667.0" x2="1796.3" y2="674.5" stroke="#000" stroke-width="2.3"/>
<text transform="translate(1086.6,678.3) scale(0.89,1)" text-anchor="end" class="tkb">0</text><text transform="translate(1086.6,559.2) scale(0.89,1)" text-anchor="end" class="tkb">200</text><text transform="translate(1086.6,440.1) scale(0.89,1)" text-anchor="end" class="tkb">400</text><text transform="translate(1086.6,321.0) scale(0.89,1)" text-anchor="end" class="tkb">600</text><text transform="translate(1086.6,201.9) scale(0.89,1)" text-anchor="end" class="tkb">800</text><text transform="translate(1086.6,82.8) scale(0.89,1)" text-anchor="end" class="tkb">1000</text><text transform="translate(1914.6,678.3) scale(0.89,1)" class="tkb">0</text><text transform="translate(1914.6,627.9) scale(0.89,1)" class="tkb">2</text><text transform="translate(1914.6,577.6) scale(0.89,1)" class="tkb">4</text><text transform="translate(1914.6,527.2) scale(0.89,1)" class="tkb">6</text><text transform="translate(1914.6,476.9) scale(0.89,1)" class="tkb">8</text><text transform="translate(1914.6,426.5) scale(0.89,1)" class="tkb">10</text><text transform="translate(1914.6,376.1) scale(0.89,1)" class="tkb">12</text><text transform="translate(1914.6,325.8) scale(0.89,1)" class="tkb">14</text><text transform="translate(1914.6,275.4) scale(0.89,1)" class="tkb">16</text><text transform="translate(1914.6,225.0) scale(0.89,1)" class="tkb">18</text><text transform="translate(1914.6,174.7) scale(0.89,1)" class="tkb">20</text><text transform="translate(1914.6,124.3) scale(0.89,1)" class="tkb">22</text><text transform="translate(1914.6,74.0) scale(0.89,1)" class="tkb">24</text><text transform="translate(1914.6,23.6) scale(0.89,1)" class="tkb">26</text>
<rect x="1127" y="13.8" width="64" height="29" fill="#000" stroke="#000" stroke-width="1"/>
<rect x="1127" y="53.7" width="64" height="29" fill="#f00" stroke="#000" stroke-width="1"/>
<rect x="1127" y="93.5" width="64" height="27.3" fill="#00f" stroke="#000" stroke-width="1"/>
<text x="1213" y="37.2" class="lgs" font-size="34">σ</text><text x="1239" y="40.5" class="lgs" font-size="36">s</text>
<text x="1213" y="76.5" class="lgs" font-size="34">σ</text><text x="1239" y="80.5" class="lgs" font-size="36">b</text>
<text transform="translate(0,119.5) scale(0.92,1)" class="lgs" style="stroke:none" font-size="27" x="1307.6 1328.9 1340 1353.4 1370.3 1383.5 1397.8 1411.4">At break</text>
<text transform="translate(1024.3,535.9) rotate(-90)" class="labb" font-size="36.9" textLength="379.6" lengthAdjust="spacingAndGlyphs">Tensile stress（MPa）</text>
<text transform="translate(1990.7,514.1) rotate(-90)" class="labb" font-size="36" textLength="333.9" lengthAdjust="spacingAndGlyphs">Tensile strain（%）</text>
<text x="1299.5" y="708.5" text-anchor="middle" class="cat">Slope subarea</text>
<text x="1299.7" y="739.6" text-anchor="middle" class="cat">scanning</text>
<text x="1514" y="708.5" text-anchor="middle" class="cat">Corkscrew spin</text>
<text x="1513.7" y="739.6" text-anchor="middle" class="cat">scanning</text>
<text x="1710.8" y="708.5" text-anchor="middle" class="cat">Island shape</text>
<text x="1710.1" y="739.6" text-anchor="middle" class="cat">scanning</text>
</svg>
</body></html>
